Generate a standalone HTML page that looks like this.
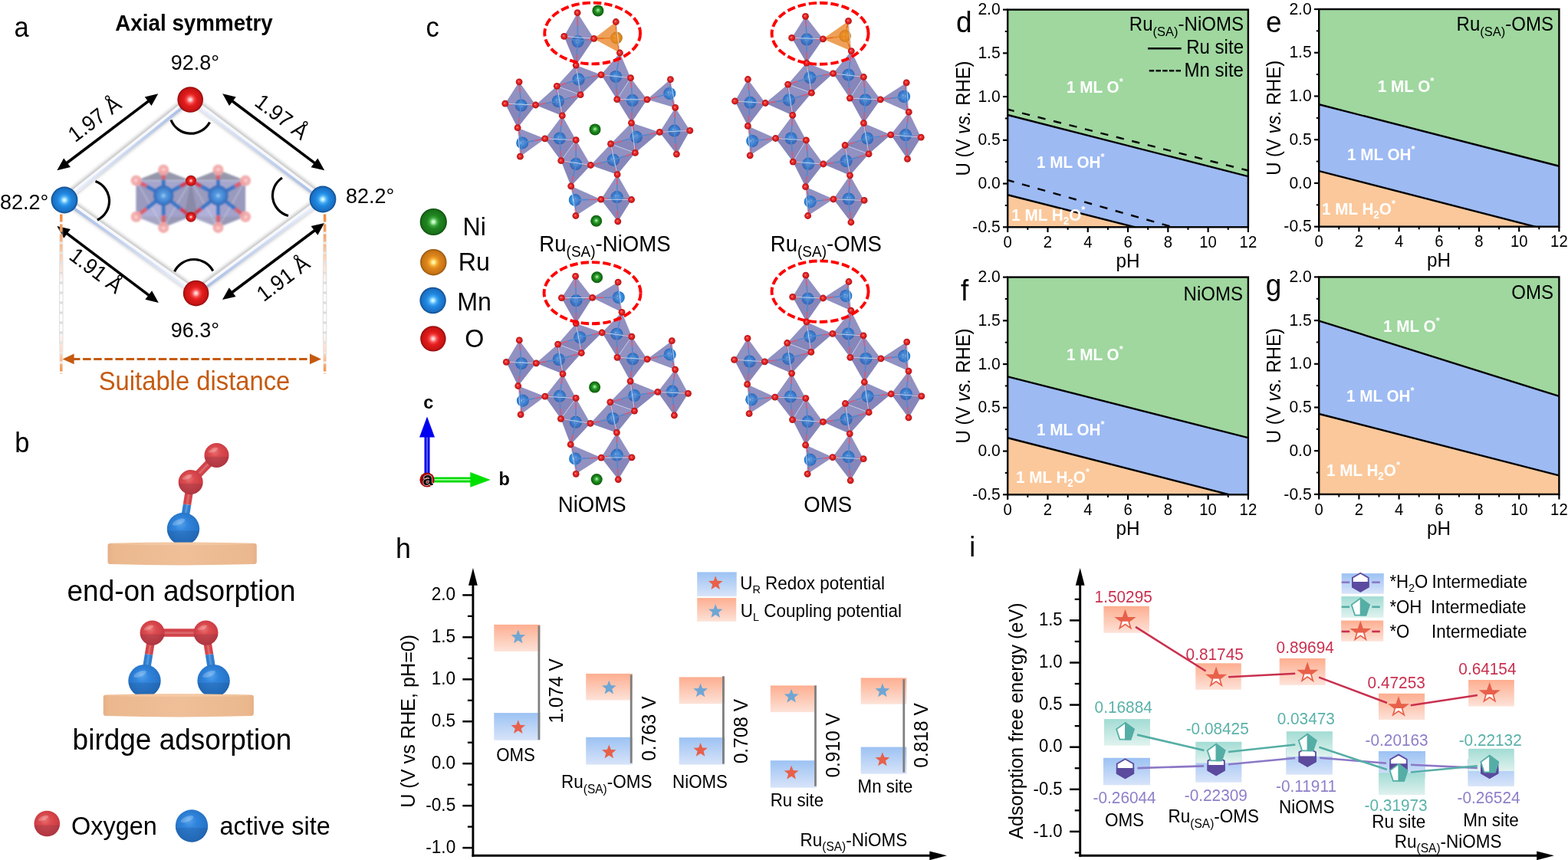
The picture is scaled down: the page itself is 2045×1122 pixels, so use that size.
<!DOCTYPE html>
<html lang="en"><head><meta charset="utf-8"><title>Figure</title>
<style>html,body{margin:0;padding:0;background:#fff;overflow:hidden}svg{display:block}text{font-family:"Liberation Sans",sans-serif;}</style></head>
<body>
<svg width="2045" height="1122" viewBox="0 0 2045 1122">
<rect width="2045" height="1122" fill="#fff"/>
<defs><radialGradient id="gO" cx="0.5" cy="0.5" r="0.5" fx="0.5" fy="0.5"><stop offset="0" stop-color="#fff0f0"/><stop offset="0.1" stop-color="#ffc4c4"/><stop offset="0.3" stop-color="#f64848"/><stop offset="0.5" stop-color="#e21c1c"/><stop offset="0.85" stop-color="#c81414"/><stop offset="1" stop-color="#8c0a0a"/></radialGradient><radialGradient id="gMn" cx="0.5" cy="0.5" r="0.5" fx="0.5" fy="0.5"><stop offset="0" stop-color="#e8ffff"/><stop offset="0.1" stop-color="#b4f0ff"/><stop offset="0.3" stop-color="#46a8f4"/><stop offset="0.5" stop-color="#2088e0"/><stop offset="0.85" stop-color="#1a70c4"/><stop offset="1" stop-color="#0e4888"/></radialGradient><radialGradient id="gNi" cx="0.5" cy="0.5" r="0.5" fx="0.5" fy="0.5"><stop offset="0" stop-color="#e8ffe8"/><stop offset="0.1" stop-color="#b8f8b8"/><stop offset="0.3" stop-color="#40a840"/><stop offset="0.5" stop-color="#1f861f"/><stop offset="0.85" stop-color="#1a721a"/><stop offset="1" stop-color="#0c4a0c"/></radialGradient><radialGradient id="gRu" cx="0.5" cy="0.5" r="0.5" fx="0.5" fy="0.5"><stop offset="0" stop-color="#ffffe0"/><stop offset="0.1" stop-color="#fff090"/><stop offset="0.3" stop-color="#f4a830"/><stop offset="0.5" stop-color="#dc861c"/><stop offset="0.85" stop-color="#c87414"/><stop offset="1" stop-color="#8c5008"/></radialGradient><radialGradient id="cO" cx="0.5" cy="0.5" r="0.5" fx="0.42" fy="0.42"><stop offset="0" stop-color="#ffb0b0"/><stop offset="0.25" stop-color="#f03838"/><stop offset="0.7" stop-color="#d81c1c"/><stop offset="1" stop-color="#a01010"/></radialGradient><radialGradient id="cMn" cx="0.5" cy="0.5" r="0.5" fx="0.47" fy="0.47"><stop offset="0" stop-color="#d8f8ff"/><stop offset="0.18" stop-color="#8cd0f8"/><stop offset="0.45" stop-color="#3c98e8"/><stop offset="0.85" stop-color="#2a80d4"/><stop offset="1" stop-color="#1c64b0"/></radialGradient><radialGradient id="cNi" cx="0.5" cy="0.5" r="0.5" fx="0.5" fy="0.45"><stop offset="0" stop-color="#d8ffd8"/><stop offset="0.2" stop-color="#60c860"/><stop offset="0.5" stop-color="#1e8c1e"/><stop offset="1" stop-color="#0e5a0e"/></radialGradient><radialGradient id="cRu" cx="0.5" cy="0.5" r="0.5" fx="0.45" fy="0.45"><stop offset="0" stop-color="#ffe8a0"/><stop offset="0.3" stop-color="#f0a030"/><stop offset="0.8" stop-color="#dc8618"/><stop offset="1" stop-color="#b06a10"/></radialGradient><radialGradient id="aMn" cx="0.5" cy="0.5" r="0.5" fx="0.5" fy="0.52"><stop offset="0" stop-color="#a8d8f8"/><stop offset="0.25" stop-color="#5a9ce0"/><stop offset="0.7" stop-color="#3f80d0"/><stop offset="1" stop-color="#3468b4"/></radialGradient><radialGradient id="fO" cx="0.5" cy="0.5" r="0.5" fx="0.5" fy="0.5"><stop offset="0" stop-color="#ffecec"/><stop offset="0.3" stop-color="#f8b4b4"/><stop offset="0.8" stop-color="#f0a0a0"/><stop offset="1" stop-color="#f4c4c4"/></radialGradient><radialGradient id="bR" cx="0.5" cy="0.5" r="0.6" fx="0.4" fy="0.3"><stop offset="0" stop-color="#ee7a78"/><stop offset="0.35" stop-color="#dc4c50"/><stop offset="0.8" stop-color="#cc3c44"/><stop offset="1" stop-color="#a82c34"/></radialGradient><radialGradient id="bB" cx="0.5" cy="0.5" r="0.6" fx="0.4" fy="0.3"><stop offset="0" stop-color="#5aa6ee"/><stop offset="0.35" stop-color="#3084dc"/><stop offset="0.8" stop-color="#2674c8"/><stop offset="1" stop-color="#1a58a0"/></radialGradient><linearGradient id="boxO" x1="0" y1="0" x2="0" y2="1"><stop offset="0" stop-color="#fdae90"/><stop offset="1" stop-color="#fde2d8"/></linearGradient><linearGradient id="boxB" x1="0" y1="0" x2="0" y2="1"><stop offset="0" stop-color="#9cc2f3"/><stop offset="1" stop-color="#d8e4f9"/></linearGradient><linearGradient id="boxT" x1="0" y1="0" x2="0" y2="1"><stop offset="0" stop-color="#a2dcd4"/><stop offset="1" stop-color="#e0f2ee"/></linearGradient><linearGradient id="plat" x1="0" y1="0" x2="1" y2="0"><stop offset="0" stop-color="#e6b088"/><stop offset="0.04" stop-color="#ebb88e"/><stop offset="0.5" stop-color="#efbf98"/><stop offset="0.96" stop-color="#ebb88e"/><stop offset="1" stop-color="#e6b088"/></linearGradient><linearGradient id="vdash" x1="0" y1="0" x2="0" y2="1"><stop offset="0" stop-color="#f08a3c"/><stop offset="0.3" stop-color="#f6c8a8"/><stop offset="0.45" stop-color="#e4e4e4"/><stop offset="0.7" stop-color="#e4e4e4"/><stop offset="0.85" stop-color="#f8d8c0"/><stop offset="1" stop-color="#f08a3c"/></linearGradient><filter id="blur2" x="-20%" y="-20%" width="140%" height="140%"><feGaussianBlur stdDeviation="2.2"/></filter><filter id="blur1" x="-20%" y="-20%" width="140%" height="140%"><feGaussianBlur stdDeviation="0.8"/></filter><filter id="blur05" x="-20%" y="-20%" width="140%" height="140%"><feGaussianBlur stdDeviation="0.5"/></filter></defs>
<text transform="translate(18.5 47.5) scale(1 1.045)" font-size="34.5">a</text>
<text transform="translate(253 40.2) scale(1 1.045)" font-size="27.8" text-anchor="middle" font-weight="bold">Axial symmetry</text>
<line x1="84" y1="258.4" x2="248.2" y2="127.4" stroke="#808080" stroke-width="8.5" filter="url(#blur2)" opacity="0.5"/>
<line x1="84" y1="264.2" x2="248.2" y2="133.2" stroke="#909090" stroke-width="4" filter="url(#blur2)" opacity="0.3"/>
<line x1="248.2" y1="127.4" x2="421" y2="257.4" stroke="#808080" stroke-width="8.5" filter="url(#blur2)" opacity="0.5"/>
<line x1="248.2" y1="133.2" x2="421" y2="263.2" stroke="#909090" stroke-width="4" filter="url(#blur2)" opacity="0.3"/>
<line x1="421" y1="257.4" x2="255.6" y2="380" stroke="#808080" stroke-width="8.5" filter="url(#blur2)" opacity="0.5"/>
<line x1="421" y1="263.2" x2="255.6" y2="385.8" stroke="#909090" stroke-width="4" filter="url(#blur2)" opacity="0.3"/>
<line x1="255.6" y1="380" x2="84" y2="258.4" stroke="#808080" stroke-width="8.5" filter="url(#blur2)" opacity="0.5"/>
<line x1="255.6" y1="385.8" x2="84" y2="264.2" stroke="#909090" stroke-width="4" filter="url(#blur2)" opacity="0.3"/>
<line x1="84" y1="260.2" x2="248.2" y2="129.2" stroke="#f7f8fc" stroke-width="6.5" />
<line x1="248.2" y1="129.2" x2="421" y2="259.2" stroke="#f7f8fc" stroke-width="6.5" />
<line x1="421" y1="259.2" x2="255.6" y2="381.8" stroke="#f7f8fc" stroke-width="6.5" />
<line x1="255.6" y1="381.8" x2="84" y2="260.2" stroke="#f7f8fc" stroke-width="6.5" />
<linearGradient id="eg1" gradientUnits="userSpaceOnUse" x1="84" y1="261" x2="248.2" y2="130"><stop offset="0" stop-color="#eef2fb"/><stop offset="1" stop-color="#a6bce6"/></linearGradient>
<line x1="84" y1="263" x2="248.2" y2="132" stroke="url(#eg1)" stroke-width="3.6" />
<linearGradient id="eg2" gradientUnits="userSpaceOnUse" x1="248.2" y1="130" x2="421" y2="260"><stop offset="0" stop-color="#eef2fb"/><stop offset="1" stop-color="#a6bce6"/></linearGradient>
<line x1="248.2" y1="132" x2="421" y2="262" stroke="url(#eg2)" stroke-width="3.6" />
<linearGradient id="eg3" gradientUnits="userSpaceOnUse" x1="421" y1="260" x2="255.6" y2="382.6"><stop offset="0" stop-color="#eef2fb"/><stop offset="1" stop-color="#a6bce6"/></linearGradient>
<line x1="421" y1="262" x2="255.6" y2="384.6" stroke="url(#eg3)" stroke-width="3.6" />
<linearGradient id="eg4" gradientUnits="userSpaceOnUse" x1="255.6" y1="382.6" x2="84" y2="261"><stop offset="0" stop-color="#eef2fb"/><stop offset="1" stop-color="#a6bce6"/></linearGradient>
<line x1="255.6" y1="384.6" x2="84" y2="263" stroke="url(#eg4)" stroke-width="3.6" />
<line x1="85.95" y1="213.54" x2="194.75" y2="131.06" stroke="#000" stroke-width="3.6" /><polygon points="206.3,122.3 197.53,138.05 188.77,126.49" fill="#000" /><polygon points="74.4,222.3 83.17,206.55 91.93,218.11" fill="#000" />
<line x1="301.79" y1="131.01" x2="411.61" y2="213.59" stroke="#000" stroke-width="3.6" /><polygon points="423.2,222.3 405.65,218.18 414.37,206.59" fill="#000" /><polygon points="290.2,122.3 307.75,126.42 299.03,138.01" fill="#000" />
<line x1="85.97" y1="303.63" x2="195.33" y2="386.17" stroke="#000" stroke-width="3.6" /><polygon points="206.9,394.9 189.36,390.75 198.1,379.17" fill="#000" /><polygon points="74.4,294.9 91.94,299.05 83.2,310.63" fill="#000" />
<line x1="301.6" y1="382.29" x2="411.6" y2="299.71" stroke="#000" stroke-width="3.6" /><polygon points="423.2,291 414.36,306.7 405.65,295.11" fill="#000" /><polygon points="290,391 298.84,375.3 307.55,386.89" fill="#000" />
<text transform="translate(129 163) rotate(-37.2) scale(1 1.045)" font-size="27" text-anchor="middle">1.97 Å</text>
<text transform="translate(361.5 160) rotate(37.2) scale(1 1.045)" font-size="27" text-anchor="middle">1.97 Å</text>
<text transform="translate(119.5 360.5) rotate(37.2) scale(1 1.045)" font-size="27" text-anchor="middle">1.91 Å</text>
<text transform="translate(375 371) rotate(-37.2) scale(1 1.045)" font-size="27" text-anchor="middle">1.91 Å</text>
<path d="M223 156.5 A27.85 27.85 0 0 0 273.5 159.5" fill="none" stroke="#000" stroke-width="3.2"/>
<path d="M124.5 236.5 A27.44 27.44 0 0 1 127 287" fill="none" stroke="#000" stroke-width="3.2"/>
<path d="M368 232 A27.39 27.39 0 0 0 376 281.5" fill="none" stroke="#000" stroke-width="3.2"/>
<path d="M227.6 354.2 A28.2 28.2 0 0 1 277.8 353.5" fill="none" stroke="#000" stroke-width="3.2"/>
<text transform="translate(254.5 91) scale(1 1.045)" font-size="27" text-anchor="middle">92.8°</text>
<text transform="translate(254.5 440.2) scale(1 1.045)" font-size="27" text-anchor="middle">96.3°</text>
<text transform="translate(0 273.2) scale(1 1.045)" font-size="27">82.2°</text>
<text transform="translate(451 265.4) scale(1 1.045)" font-size="27">82.2°</text>
<linearGradient id="vg" gradientUnits="userSpaceOnUse" x1="0" y1="279.6" x2="0" y2="488"><stop offset="0" stop-color="#d8d8d8" stop-opacity="0"/><stop offset="0.2" stop-color="#dcdcdc" stop-opacity="0.6"/><stop offset="0.4" stop-color="#dcdcdc" stop-opacity="1"/><stop offset="0.75" stop-color="#dcdcdc" stop-opacity="1"/><stop offset="0.92" stop-color="#dcdcdc" stop-opacity="0.4"/><stop offset="1" stop-color="#dcdcdc" stop-opacity="0"/></linearGradient>
<linearGradient id="vd" gradientUnits="userSpaceOnUse" x1="0" y1="279.6" x2="0" y2="488"><stop offset="0" stop-color="#f08a3c"/><stop offset="0.12" stop-color="#f4a468"/><stop offset="0.3" stop-color="#fbdcc8"/><stop offset="0.45" stop-color="#ffffff"/><stop offset="0.72" stop-color="#ffffff"/><stop offset="0.86" stop-color="#fbdac6"/><stop offset="1" stop-color="#f08a3c"/></linearGradient>
<path d="M79.8 279.6V488" stroke="url(#vg)" stroke-width="5.4" fill="none"/>
<path d="M79.8 279.6V488" stroke="url(#vd)" stroke-width="3.4" stroke-dasharray="9.8 3.2" fill="none"/>
<path d="M423.6 279.6V488" stroke="url(#vg)" stroke-width="5.4" fill="none"/>
<path d="M423.6 279.6V488" stroke="url(#vd)" stroke-width="3.4" stroke-dasharray="9.8 3.2" fill="none"/>
<line x1="94" y1="468.4" x2="407" y2="468.4" stroke="#c55a11" stroke-width="3" stroke-dasharray="10.5 3.6"/>
<polygon points="81.6,468.4 96.6,461.6 96.6,475.2" fill="#c55a11" />
<polygon points="419,468.4 404,475.2 404,461.6" fill="#c55a11" />
<text transform="translate(253.5 508.8) scale(1 1.045)" font-size="32.8" text-anchor="middle" fill="#c55a11">Suitable distance</text>
<g filter="url(#blur1)"><polygon points="213.2,221.6 248.8,235.6 248.8,282.8 213.2,297 177.6,282.8 177.6,235.6" fill="#85859e" opacity="0.85"/><polygon points="177.6,235.6 248.8,235.6 248.8,282.8 177.6,282.8" fill="#b0b0e4" opacity="0.6"/><polygon points="177.6,235.6 213.2,254.9 177.6,282.8" fill="#8c8cae" opacity="0.45"/><polygon points="248.8,235.6 213.2,254.9 248.8,282.8" fill="#8c8cae" opacity="0.45"/><polygon points="177.6,282.8 213.2,297 213.2,254.9" fill="#c4c4f0" opacity="0.35"/><polygon points="248.8,282.8 213.2,297 213.2,254.9" fill="#9a9ac8" opacity="0.35"/><line x1="213.2" y1="297" x2="248.8" y2="235.6" stroke="#dfe6f6" stroke-width="0.9" opacity="0.7"/><line x1="213.2" y1="297" x2="177.6" y2="235.6" stroke="#dfe6f6" stroke-width="0.9" opacity="0.7"/><line x1="213.2" y1="297" x2="248.8" y2="282.8" stroke="#dfe6f6" stroke-width="0.9" opacity="0.7"/><line x1="213.2" y1="297" x2="177.6" y2="282.8" stroke="#dfe6f6" stroke-width="0.9" opacity="0.7"/><line x1="177.6" y1="235.6" x2="248.8" y2="235.6" stroke="#cfe0f4" stroke-width="1" opacity="0.7"/><polygon points="284.5,221.6 320.1,235.6 320.1,282.8 284.5,297 248.9,282.8 248.9,235.6" fill="#85859e" opacity="0.85"/><polygon points="248.9,235.6 320.1,235.6 320.1,282.8 248.9,282.8" fill="#b0b0e4" opacity="0.6"/><polygon points="248.9,235.6 284.5,254.9 248.9,282.8" fill="#8c8cae" opacity="0.45"/><polygon points="320.1,235.6 284.5,254.9 320.1,282.8" fill="#8c8cae" opacity="0.45"/><polygon points="248.9,282.8 284.5,297 284.5,254.9" fill="#c4c4f0" opacity="0.35"/><polygon points="320.1,282.8 284.5,297 284.5,254.9" fill="#9a9ac8" opacity="0.35"/><line x1="284.5" y1="297" x2="320.1" y2="235.6" stroke="#dfe6f6" stroke-width="0.9" opacity="0.7"/><line x1="284.5" y1="297" x2="248.9" y2="235.6" stroke="#dfe6f6" stroke-width="0.9" opacity="0.7"/><line x1="284.5" y1="297" x2="320.1" y2="282.8" stroke="#dfe6f6" stroke-width="0.9" opacity="0.7"/><line x1="284.5" y1="297" x2="248.9" y2="282.8" stroke="#dfe6f6" stroke-width="0.9" opacity="0.7"/><line x1="248.9" y1="235.6" x2="320.1" y2="235.6" stroke="#cfe0f4" stroke-width="1" opacity="0.7"/><polygon points="249,235.8 240,283 258,283" fill="#787890" opacity="0.5"/><line x1="213.2" y1="254.9" x2="213.2" y2="234.25" stroke="#3a78c8" stroke-width="5" /><line x1="213.2" y1="234.25" x2="213.2" y2="221.6" stroke="#d86070" stroke-width="5" /><line x1="213.2" y1="254.9" x2="235.27" y2="242.93" stroke="#3a78c8" stroke-width="5" /><line x1="235.27" y1="242.93" x2="248.8" y2="235.6" stroke="#cc3c54" stroke-width="5" /><line x1="213.2" y1="254.9" x2="235.27" y2="272.2" stroke="#3a78c8" stroke-width="5" /><line x1="235.27" y1="272.2" x2="248.8" y2="282.8" stroke="#cc3c54" stroke-width="5" /><line x1="213.2" y1="254.9" x2="213.2" y2="281" stroke="#3a78c8" stroke-width="5" /><line x1="213.2" y1="281" x2="213.2" y2="297" stroke="#d86070" stroke-width="5" /><line x1="213.2" y1="254.9" x2="191.13" y2="272.2" stroke="#3a78c8" stroke-width="5" /><line x1="191.13" y1="272.2" x2="177.6" y2="282.8" stroke="#d86070" stroke-width="5" /><line x1="213.2" y1="254.9" x2="191.13" y2="242.93" stroke="#3a78c8" stroke-width="5" /><line x1="191.13" y1="242.93" x2="177.6" y2="235.6" stroke="#d86070" stroke-width="5" /><line x1="284.5" y1="254.9" x2="284.5" y2="234.25" stroke="#3a78c8" stroke-width="5" /><line x1="284.5" y1="234.25" x2="284.5" y2="221.6" stroke="#d86070" stroke-width="5" /><line x1="284.5" y1="254.9" x2="306.57" y2="242.93" stroke="#3a78c8" stroke-width="5" /><line x1="306.57" y1="242.93" x2="320.1" y2="235.6" stroke="#d86070" stroke-width="5" /><line x1="284.5" y1="254.9" x2="306.57" y2="272.2" stroke="#3a78c8" stroke-width="5" /><line x1="306.57" y1="272.2" x2="320.1" y2="282.8" stroke="#d86070" stroke-width="5" /><line x1="284.5" y1="254.9" x2="284.5" y2="281" stroke="#3a78c8" stroke-width="5" /><line x1="284.5" y1="281" x2="284.5" y2="297" stroke="#d86070" stroke-width="5" /><line x1="284.5" y1="254.9" x2="262.43" y2="272.2" stroke="#3a78c8" stroke-width="5" /><line x1="262.43" y1="272.2" x2="248.9" y2="282.8" stroke="#cc3c54" stroke-width="5" /><line x1="284.5" y1="254.9" x2="262.43" y2="242.93" stroke="#3a78c8" stroke-width="5" /><line x1="262.43" y1="242.93" x2="248.9" y2="235.6" stroke="#cc3c54" stroke-width="5" /><circle cx="213.2" cy="221.6" r="7.2" fill="url(#fO)" opacity="0.92"/><circle cx="213.2" cy="297" r="7.2" fill="url(#fO)" opacity="0.92"/><circle cx="177.6" cy="282.8" r="7.2" fill="url(#fO)" opacity="0.92"/><circle cx="177.6" cy="235.6" r="7.2" fill="url(#fO)" opacity="0.92"/><circle cx="284.5" cy="221.6" r="7.2" fill="url(#fO)" opacity="0.92"/><circle cx="320.1" cy="235.6" r="7.2" fill="url(#fO)" opacity="0.92"/><circle cx="320.1" cy="282.8" r="7.2" fill="url(#fO)" opacity="0.92"/><circle cx="284.5" cy="297" r="7.2" fill="url(#fO)" opacity="0.92"/><circle cx="213.2" cy="254.9" r="13.2" fill="url(#aMn)" /><circle cx="284.5" cy="254.9" r="13.2" fill="url(#aMn)" /></g><g filter="url(#blur05)"><circle cx="249" cy="235.8" r="7" fill="url(#gO)" /><circle cx="249" cy="283.1" r="6.6" fill="url(#gO)" /></g>
<circle cx="248.2" cy="130" r="16.8" fill="url(#gO)" />
<circle cx="255.6" cy="382.6" r="16.8" fill="url(#gO)" />
<circle cx="84" cy="261" r="17.4" fill="url(#gMn)" />
<circle cx="421" cy="260" r="17.4" fill="url(#gMn)" />
<text transform="translate(19.3 590.2) scale(1 1.045)" font-size="34.5">b</text>
<line x1="239" y1="690" x2="244.04" y2="658.28" stroke="#2f7ed0" stroke-width="10.5" /><line x1="244.04" y1="658.28" x2="248.7" y2="629" stroke="#d2444a" stroke-width="10.5" /><line x1="239" y1="690" x2="248.7" y2="629" stroke="#fff" stroke-width="2.94" opacity="0.18"/>
<line x1="248.7" y1="629" x2="282.5" y2="594" stroke="#d2444a" stroke-width="10.5" /><line x1="248.7" y1="629" x2="282.5" y2="594" stroke="#fff" stroke-width="2.94" opacity="0.18"/>
<circle cx="239" cy="690" r="21.2" fill="url(#bB)" /><clipPath id="gl1"><circle cx="239" cy="690" r="21.2"/></clipPath><rect x="217.8" y="692.54" width="42.4" height="21.2" fill="#10203a" opacity="0.13" clip-path="url(#gl1)"/><ellipse cx="233.06" cy="681.1" rx="8.9" ry="3.39" fill="#fff" opacity="0.22" transform="rotate(-22 233.06 681.1)"/>
<circle cx="248.7" cy="629" r="16" fill="url(#bR)" /><clipPath id="gl2"><circle cx="248.7" cy="629" r="16"/></clipPath><rect x="232.7" y="630.92" width="32" height="16" fill="#10203a" opacity="0.13" clip-path="url(#gl2)"/><ellipse cx="244.22" cy="622.28" rx="6.72" ry="2.56" fill="#fff" opacity="0.22" transform="rotate(-22 244.22 622.28)"/>
<circle cx="282.5" cy="594" r="16" fill="url(#bR)" /><clipPath id="gl3"><circle cx="282.5" cy="594" r="16"/></clipPath><rect x="266.5" y="595.92" width="32" height="16" fill="#10203a" opacity="0.13" clip-path="url(#gl3)"/><ellipse cx="278.02" cy="587.28" rx="6.72" ry="2.56" fill="#fff" opacity="0.22" transform="rotate(-22 278.02 587.28)"/>
<path d="M140.5 711.8 Q140.5 709 144.5 708.8 Q237.65 706.2 330.8 708.8 Q334.8 709 334.8 711.8 L334.8 732.9 Q334.8 735.9 330.8 736.1 Q237.65 738.7 144.5 736.1 Q140.5 735.9 140.5 732.9Z" fill="url(#plat)"/><path d="M142.5 709.6 Q237.65 706.2 332.8 709.6 Q237.65 712.8 142.5 709.6Z" fill="#f4c9a4"/>
<text transform="translate(236.6 784.3) scale(1 1.045)" font-size="37" text-anchor="middle">end-on adsorption</text>
<line x1="188.5" y1="888.2" x2="194.06" y2="853.77" stroke="#2f7ed0" stroke-width="10.5" /><line x1="194.06" y1="853.77" x2="198.6" y2="825.6" stroke="#d2444a" stroke-width="10.5" /><line x1="188.5" y1="888.2" x2="198.6" y2="825.6" stroke="#fff" stroke-width="2.94" opacity="0.18"/>
<line x1="278.6" y1="888.2" x2="273.05" y2="853.77" stroke="#2f7ed0" stroke-width="10.5" /><line x1="273.05" y1="853.77" x2="268.5" y2="825.6" stroke="#d2444a" stroke-width="10.5" /><line x1="278.6" y1="888.2" x2="268.5" y2="825.6" stroke="#fff" stroke-width="2.94" opacity="0.18"/>
<line x1="198.6" y1="825.6" x2="268.5" y2="825.6" stroke="#d2444a" stroke-width="10.5" /><line x1="198.6" y1="825.6" x2="268.5" y2="825.6" stroke="#fff" stroke-width="2.94" opacity="0.18"/>
<circle cx="188.5" cy="888.2" r="21.2" fill="url(#bB)" /><clipPath id="gl4"><circle cx="188.5" cy="888.2" r="21.2"/></clipPath><rect x="167.3" y="890.74" width="42.4" height="21.2" fill="#10203a" opacity="0.13" clip-path="url(#gl4)"/><ellipse cx="182.56" cy="879.3" rx="8.9" ry="3.39" fill="#fff" opacity="0.22" transform="rotate(-22 182.56 879.3)"/>
<circle cx="278.6" cy="888.2" r="21.2" fill="url(#bB)" /><clipPath id="gl5"><circle cx="278.6" cy="888.2" r="21.2"/></clipPath><rect x="257.4" y="890.74" width="42.4" height="21.2" fill="#10203a" opacity="0.13" clip-path="url(#gl5)"/><ellipse cx="272.66" cy="879.3" rx="8.9" ry="3.39" fill="#fff" opacity="0.22" transform="rotate(-22 272.66 879.3)"/>
<circle cx="198.6" cy="825.6" r="16" fill="url(#bR)" /><clipPath id="gl6"><circle cx="198.6" cy="825.6" r="16"/></clipPath><rect x="182.6" y="827.52" width="32" height="16" fill="#10203a" opacity="0.13" clip-path="url(#gl6)"/><ellipse cx="194.12" cy="818.88" rx="6.72" ry="2.56" fill="#fff" opacity="0.22" transform="rotate(-22 194.12 818.88)"/>
<circle cx="268.5" cy="825.6" r="16" fill="url(#bR)" /><clipPath id="gl7"><circle cx="268.5" cy="825.6" r="16"/></clipPath><rect x="252.5" y="827.52" width="32" height="16" fill="#10203a" opacity="0.13" clip-path="url(#gl7)"/><ellipse cx="264.02" cy="818.88" rx="6.72" ry="2.56" fill="#fff" opacity="0.22" transform="rotate(-22 264.02 818.88)"/>
<path d="M134.7 909.6 Q134.7 906.8 138.7 906.6 Q232.8 904 326.9 906.6 Q330.9 906.8 330.9 909.6 L330.9 930.9 Q330.9 933.9 326.9 934.1 Q232.8 936.7 138.7 934.1 Q134.7 933.9 134.7 930.9Z" fill="url(#plat)"/><path d="M136.7 907.4 Q232.8 904 328.9 907.4 Q232.8 910.6 136.7 907.4Z" fill="#f4c9a4"/>
<text transform="translate(237.5 977.5) scale(1 1.045)" font-size="37" text-anchor="middle">birdge adsorption</text>
<circle cx="61.3" cy="1074.5" r="16.8" fill="url(#bR)" /><clipPath id="gl8"><circle cx="61.3" cy="1074.5" r="16.8"/></clipPath><rect x="44.5" y="1076.52" width="33.6" height="16.8" fill="#10203a" opacity="0.13" clip-path="url(#gl8)"/><ellipse cx="56.6" cy="1067.44" rx="7.06" ry="2.69" fill="#fff" opacity="0.22" transform="rotate(-22 56.6 1067.44)"/>
<text transform="translate(93 1088.7) scale(1 1.045)" font-size="32.5">Oxygen</text>
<circle cx="250" cy="1077.5" r="21.2" fill="url(#bB)" /><clipPath id="gl9"><circle cx="250" cy="1077.5" r="21.2"/></clipPath><rect x="228.8" y="1080.04" width="42.4" height="21.2" fill="#10203a" opacity="0.13" clip-path="url(#gl9)"/><ellipse cx="244.06" cy="1068.6" rx="8.9" ry="3.39" fill="#fff" opacity="0.22" transform="rotate(-22 244.06 1068.6)"/>
<text transform="translate(286.5 1088.7) scale(1 1.045)" font-size="32.5">active site</text>
<text transform="translate(555.5 47.5) scale(1 1.045)" font-size="34.5">c</text>
<g id="cr1">
<g filter="url(#blur05)"><polygon points="753.1,16.7 774.6,50.4 751.2,85.1 735.7,47.4" fill="#50509e" opacity="0.5"/><polygon points="751.2,85.1 784,97.6 757.1,123.7 726.3,112.3" fill="#50509e" opacity="0.5"/><polygon points="808.4,69 822.5,101.7 804.7,129.7 784,97.6" fill="#50509e" opacity="0.5"/><polygon points="726.3,112.3 757.1,123.7 733.3,150.9 698.6,137" fill="#50509e" opacity="0.5"/><polygon points="822.5,101.7 844,129.8 823.5,160.3 804.7,129.7" fill="#50509e" opacity="0.5"/><polygon points="874.4,103.6 880.7,140.4 844,129.8" fill="#50509e" opacity="0.5"/><polygon points="677.1,106.8 698.6,137 675.1,166.7 658.8,135.2" fill="#50509e" opacity="0.5"/><polygon points="675.1,166.7 710.7,180.9 678.4,204.2" fill="#50509e" opacity="0.5"/><polygon points="733.3,150.9 751.2,182.7 731.7,209.7 710.7,180.9" fill="#50509e" opacity="0.5"/><polygon points="751.2,182.7 770.4,215.5 744.7,242.8 731.7,209.7" fill="#50509e" opacity="0.5"/><polygon points="796.5,187.7 828.4,199.4 805.1,227.7 770.4,215.5" fill="#50509e" opacity="0.5"/><polygon points="823.5,160.3 860.3,172.4 828.4,199.4 796.5,187.7" fill="#50509e" opacity="0.5"/><polygon points="880.7,140.4 899.8,170.3 882.4,201.1 860.3,172.4" fill="#50509e" opacity="0.5"/><polygon points="744.7,242.8 783.8,260.2 750.9,281.5" fill="#50509e" opacity="0.5"/><polygon points="805.1,227.7 823.6,260.5 805.8,288.9 783.8,260.2" fill="#50509e" opacity="0.5"/><polygon points="774.6,50.4 803.3,28.5 808.4,69" fill="#e8882a" opacity="0.62"/></g>
<circle cx="753.6" cy="54.2" r="8" fill="url(#cMn)" />
<circle cx="754.6" cy="103.6" r="8" fill="url(#cMn)" />
<circle cx="803.1" cy="99.9" r="8" fill="url(#cMn)" />
<circle cx="727.8" cy="132" r="8" fill="url(#cMn)" />
<circle cx="824.9" cy="131.1" r="8" fill="url(#cMn)" />
<circle cx="873.3" cy="121.9" r="8" fill="url(#cMn)" />
<circle cx="679.8" cy="137.5" r="8" fill="url(#cMn)" />
<circle cx="681.2" cy="186.4" r="8" fill="url(#cMn)" />
<circle cx="729.9" cy="180.5" r="8" fill="url(#cMn)" />
<circle cx="751.2" cy="214.1" r="8" fill="url(#cMn)" />
<circle cx="799.9" cy="208.7" r="8" fill="url(#cMn)" />
<circle cx="829.8" cy="178.8" r="8" fill="url(#cMn)" />
<circle cx="879.5" cy="170.6" r="8" fill="url(#cMn)" />
<circle cx="749.8" cy="260.9" r="8" fill="url(#cMn)" />
<circle cx="804.7" cy="257.1" r="8" fill="url(#cMn)" />
<circle cx="804" cy="49.4" r="7.8" fill="url(#cRu)" />
<g filter="url(#blur05)"><polygon points="753.1,16.7 774.6,50.4 751.2,85.1 735.7,47.4" fill="#50509e" opacity="0.25"/><polygon points="751.2,85.1 784,97.6 757.1,123.7 726.3,112.3" fill="#50509e" opacity="0.25"/><polygon points="808.4,69 822.5,101.7 804.7,129.7 784,97.6" fill="#50509e" opacity="0.25"/><polygon points="726.3,112.3 757.1,123.7 733.3,150.9 698.6,137" fill="#50509e" opacity="0.25"/><polygon points="822.5,101.7 844,129.8 823.5,160.3 804.7,129.7" fill="#50509e" opacity="0.25"/><polygon points="874.4,103.6 880.7,140.4 844,129.8" fill="#50509e" opacity="0.25"/><polygon points="677.1,106.8 698.6,137 675.1,166.7 658.8,135.2" fill="#50509e" opacity="0.25"/><polygon points="675.1,166.7 710.7,180.9 678.4,204.2" fill="#50509e" opacity="0.25"/><polygon points="733.3,150.9 751.2,182.7 731.7,209.7 710.7,180.9" fill="#50509e" opacity="0.25"/><polygon points="751.2,182.7 770.4,215.5 744.7,242.8 731.7,209.7" fill="#50509e" opacity="0.25"/><polygon points="796.5,187.7 828.4,199.4 805.1,227.7 770.4,215.5" fill="#50509e" opacity="0.25"/><polygon points="823.5,160.3 860.3,172.4 828.4,199.4 796.5,187.7" fill="#50509e" opacity="0.25"/><polygon points="880.7,140.4 899.8,170.3 882.4,201.1 860.3,172.4" fill="#50509e" opacity="0.25"/><polygon points="744.7,242.8 783.8,260.2 750.9,281.5" fill="#50509e" opacity="0.25"/><polygon points="805.1,227.7 823.6,260.5 805.8,288.9 783.8,260.2" fill="#50509e" opacity="0.25"/><polygon points="774.6,50.4 803.3,28.5 808.4,69" fill="#e8882a" opacity="0.45"/></g>
<g filter="url(#blur05)">
<polygon points="774.6,50.4 751.2,85.1 735.7,47.4" fill="#4c4c98" opacity="0.16"/>
<polygon points="784,97.6 757.1,123.7 726.3,112.3" fill="#4c4c98" opacity="0.16"/>
<polygon points="822.5,101.7 804.7,129.7 784,97.6" fill="#4c4c98" opacity="0.16"/>
<polygon points="757.1,123.7 733.3,150.9 698.6,137" fill="#4c4c98" opacity="0.16"/>
<polygon points="844,129.8 823.5,160.3 804.7,129.7" fill="#4c4c98" opacity="0.16"/>
<polygon points="698.6,137 675.1,166.7 658.8,135.2" fill="#4c4c98" opacity="0.16"/>
<polygon points="751.2,182.7 731.7,209.7 710.7,180.9" fill="#4c4c98" opacity="0.16"/>
<polygon points="770.4,215.5 744.7,242.8 731.7,209.7" fill="#4c4c98" opacity="0.16"/>
<polygon points="828.4,199.4 805.1,227.7 770.4,215.5" fill="#4c4c98" opacity="0.16"/>
<polygon points="860.3,172.4 828.4,199.4 796.5,187.7" fill="#4c4c98" opacity="0.16"/>
<polygon points="899.8,170.3 882.4,201.1 860.3,172.4" fill="#4c4c98" opacity="0.16"/>
<polygon points="823.6,260.5 805.8,288.9 783.8,260.2" fill="#4c4c98" opacity="0.16"/>
</g>
<line x1="753.6" y1="54.2" x2="753.33" y2="33.58" stroke="#4f88d0" stroke-width="1.6" /><line x1="753.33" y1="33.58" x2="753.1" y2="16.7" stroke="#d45a78" stroke-width="1.6" />
<line x1="753.6" y1="54.2" x2="765.15" y2="52.11" stroke="#4f88d0" stroke-width="1.6" /><line x1="765.15" y1="52.11" x2="774.6" y2="50.4" stroke="#d45a78" stroke-width="1.6" />
<line x1="753.6" y1="54.2" x2="752.28" y2="71.19" stroke="#4f88d0" stroke-width="1.6" /><line x1="752.28" y1="71.19" x2="751.2" y2="85.1" stroke="#d45a78" stroke-width="1.6" />
<line x1="753.6" y1="54.2" x2="743.75" y2="50.46" stroke="#4f88d0" stroke-width="1.6" /><line x1="743.75" y1="50.46" x2="735.7" y2="47.4" stroke="#d45a78" stroke-width="1.6" />
<line x1="754.6" y1="103.6" x2="752.73" y2="93.42" stroke="#4f88d0" stroke-width="1.6" /><line x1="752.73" y1="93.42" x2="751.2" y2="85.1" stroke="#d45a78" stroke-width="1.6" />
<line x1="754.6" y1="103.6" x2="770.77" y2="100.3" stroke="#4f88d0" stroke-width="1.6" /><line x1="770.77" y1="100.3" x2="784" y2="97.6" stroke="#d45a78" stroke-width="1.6" />
<line x1="754.6" y1="103.6" x2="755.98" y2="114.66" stroke="#4f88d0" stroke-width="1.6" /><line x1="755.98" y1="114.66" x2="757.1" y2="123.7" stroke="#d45a78" stroke-width="1.6" />
<line x1="754.6" y1="103.6" x2="739.03" y2="108.38" stroke="#4f88d0" stroke-width="1.6" /><line x1="739.03" y1="108.38" x2="726.3" y2="112.3" stroke="#d45a78" stroke-width="1.6" />
<line x1="803.1" y1="99.9" x2="806.01" y2="82.91" stroke="#4f88d0" stroke-width="1.6" /><line x1="806.01" y1="82.91" x2="808.4" y2="69" stroke="#d45a78" stroke-width="1.6" />
<line x1="803.1" y1="99.9" x2="813.77" y2="100.89" stroke="#4f88d0" stroke-width="1.6" /><line x1="813.77" y1="100.89" x2="822.5" y2="101.7" stroke="#d45a78" stroke-width="1.6" />
<line x1="803.1" y1="99.9" x2="803.98" y2="116.29" stroke="#4f88d0" stroke-width="1.6" /><line x1="803.98" y1="116.29" x2="804.7" y2="129.7" stroke="#d45a78" stroke-width="1.6" />
<line x1="803.1" y1="99.9" x2="792.6" y2="98.64" stroke="#4f88d0" stroke-width="1.6" /><line x1="792.6" y1="98.64" x2="784" y2="97.6" stroke="#d45a78" stroke-width="1.6" />
<line x1="727.8" y1="132" x2="726.97" y2="121.16" stroke="#4f88d0" stroke-width="1.6" /><line x1="726.97" y1="121.16" x2="726.3" y2="112.3" stroke="#d45a78" stroke-width="1.6" />
<line x1="727.8" y1="132" x2="743.91" y2="127.44" stroke="#4f88d0" stroke-width="1.6" /><line x1="743.91" y1="127.44" x2="757.1" y2="123.7" stroke="#d45a78" stroke-width="1.6" />
<line x1="727.8" y1="132" x2="730.82" y2="142.4" stroke="#4f88d0" stroke-width="1.6" /><line x1="730.82" y1="142.4" x2="733.3" y2="150.9" stroke="#d45a78" stroke-width="1.6" />
<line x1="727.8" y1="132" x2="711.74" y2="134.75" stroke="#4f88d0" stroke-width="1.6" /><line x1="711.74" y1="134.75" x2="698.6" y2="137" stroke="#d45a78" stroke-width="1.6" />
<line x1="824.9" y1="131.1" x2="823.58" y2="114.93" stroke="#4f88d0" stroke-width="1.6" /><line x1="823.58" y1="114.93" x2="822.5" y2="101.7" stroke="#d45a78" stroke-width="1.6" />
<line x1="824.9" y1="131.1" x2="835.4" y2="130.38" stroke="#4f88d0" stroke-width="1.6" /><line x1="835.4" y1="130.38" x2="844" y2="129.8" stroke="#d45a78" stroke-width="1.6" />
<line x1="824.9" y1="131.1" x2="824.13" y2="147.16" stroke="#4f88d0" stroke-width="1.6" /><line x1="824.13" y1="147.16" x2="823.5" y2="160.3" stroke="#d45a78" stroke-width="1.6" />
<line x1="824.9" y1="131.1" x2="813.79" y2="130.33" stroke="#4f88d0" stroke-width="1.6" /><line x1="813.79" y1="130.33" x2="804.7" y2="129.7" stroke="#d45a78" stroke-width="1.6" />
<line x1="873.3" y1="121.9" x2="873.9" y2="111.83" stroke="#4f88d0" stroke-width="1.6" /><line x1="873.9" y1="111.83" x2="874.4" y2="103.6" stroke="#d45a78" stroke-width="1.6" />
<line x1="873.3" y1="121.9" x2="877.37" y2="132.08" stroke="#4f88d0" stroke-width="1.6" /><line x1="877.37" y1="132.08" x2="880.7" y2="140.4" stroke="#d45a78" stroke-width="1.6" />
<line x1="873.3" y1="121.9" x2="857.18" y2="126.25" stroke="#4f88d0" stroke-width="1.6" /><line x1="857.18" y1="126.25" x2="844" y2="129.8" stroke="#d45a78" stroke-width="1.6" />
<line x1="679.8" y1="137.5" x2="678.31" y2="120.61" stroke="#4f88d0" stroke-width="1.6" /><line x1="678.31" y1="120.61" x2="677.1" y2="106.8" stroke="#d45a78" stroke-width="1.6" />
<line x1="679.8" y1="137.5" x2="690.14" y2="137.22" stroke="#4f88d0" stroke-width="1.6" /><line x1="690.14" y1="137.22" x2="698.6" y2="137" stroke="#d45a78" stroke-width="1.6" />
<line x1="679.8" y1="137.5" x2="677.22" y2="153.56" stroke="#4f88d0" stroke-width="1.6" /><line x1="677.22" y1="153.56" x2="675.1" y2="166.7" stroke="#d45a78" stroke-width="1.6" />
<line x1="679.8" y1="137.5" x2="668.25" y2="136.23" stroke="#4f88d0" stroke-width="1.6" /><line x1="668.25" y1="136.23" x2="658.8" y2="135.2" stroke="#d45a78" stroke-width="1.6" />
<line x1="681.2" y1="186.4" x2="677.85" y2="175.56" stroke="#4f88d0" stroke-width="1.6" /><line x1="677.85" y1="175.56" x2="675.1" y2="166.7" stroke="#d45a78" stroke-width="1.6" />
<line x1="681.2" y1="186.4" x2="697.43" y2="183.38" stroke="#4f88d0" stroke-width="1.6" /><line x1="697.43" y1="183.38" x2="710.7" y2="180.9" stroke="#d45a78" stroke-width="1.6" />
<line x1="681.2" y1="186.4" x2="679.66" y2="196.19" stroke="#4f88d0" stroke-width="1.6" /><line x1="679.66" y1="196.19" x2="678.4" y2="204.2" stroke="#d45a78" stroke-width="1.6" />
<line x1="729.9" y1="180.5" x2="731.77" y2="164.22" stroke="#4f88d0" stroke-width="1.6" /><line x1="731.77" y1="164.22" x2="733.3" y2="150.9" stroke="#d45a78" stroke-width="1.6" />
<line x1="729.9" y1="180.5" x2="741.62" y2="181.71" stroke="#4f88d0" stroke-width="1.6" /><line x1="741.62" y1="181.71" x2="751.2" y2="182.7" stroke="#d45a78" stroke-width="1.6" />
<line x1="729.9" y1="180.5" x2="730.89" y2="196.56" stroke="#4f88d0" stroke-width="1.6" /><line x1="730.89" y1="196.56" x2="731.7" y2="209.7" stroke="#d45a78" stroke-width="1.6" />
<line x1="729.9" y1="180.5" x2="719.34" y2="180.72" stroke="#4f88d0" stroke-width="1.6" /><line x1="719.34" y1="180.72" x2="710.7" y2="180.9" stroke="#d45a78" stroke-width="1.6" />
<line x1="751.2" y1="214.1" x2="751.2" y2="196.83" stroke="#4f88d0" stroke-width="1.6" /><line x1="751.2" y1="196.83" x2="751.2" y2="182.7" stroke="#d45a78" stroke-width="1.6" />
<line x1="751.2" y1="214.1" x2="761.76" y2="214.87" stroke="#4f88d0" stroke-width="1.6" /><line x1="761.76" y1="214.87" x2="770.4" y2="215.5" stroke="#d45a78" stroke-width="1.6" />
<line x1="751.2" y1="214.1" x2="747.62" y2="229.88" stroke="#4f88d0" stroke-width="1.6" /><line x1="747.62" y1="229.88" x2="744.7" y2="242.8" stroke="#d45a78" stroke-width="1.6" />
<line x1="751.2" y1="214.1" x2="740.48" y2="211.68" stroke="#4f88d0" stroke-width="1.6" /><line x1="740.48" y1="211.68" x2="731.7" y2="209.7" stroke="#d45a78" stroke-width="1.6" />
<line x1="799.9" y1="208.7" x2="798.03" y2="197.15" stroke="#4f88d0" stroke-width="1.6" /><line x1="798.03" y1="197.15" x2="796.5" y2="187.7" stroke="#d45a78" stroke-width="1.6" />
<line x1="799.9" y1="208.7" x2="815.57" y2="203.59" stroke="#4f88d0" stroke-width="1.6" /><line x1="815.57" y1="203.59" x2="828.4" y2="199.4" stroke="#d45a78" stroke-width="1.6" />
<line x1="799.9" y1="208.7" x2="802.76" y2="219.15" stroke="#4f88d0" stroke-width="1.6" /><line x1="802.76" y1="219.15" x2="805.1" y2="227.7" stroke="#d45a78" stroke-width="1.6" />
<line x1="799.9" y1="208.7" x2="783.67" y2="212.44" stroke="#4f88d0" stroke-width="1.6" /><line x1="783.67" y1="212.44" x2="770.4" y2="215.5" stroke="#d45a78" stroke-width="1.6" />
<line x1="829.8" y1="178.8" x2="826.33" y2="168.62" stroke="#4f88d0" stroke-width="1.6" /><line x1="826.33" y1="168.62" x2="823.5" y2="160.3" stroke="#d45a78" stroke-width="1.6" />
<line x1="829.8" y1="178.8" x2="846.57" y2="175.28" stroke="#4f88d0" stroke-width="1.6" /><line x1="846.57" y1="175.28" x2="860.3" y2="172.4" stroke="#d45a78" stroke-width="1.6" />
<line x1="829.8" y1="178.8" x2="829.03" y2="190.13" stroke="#4f88d0" stroke-width="1.6" /><line x1="829.03" y1="190.13" x2="828.4" y2="199.4" stroke="#d45a78" stroke-width="1.6" />
<line x1="829.8" y1="178.8" x2="811.49" y2="183.69" stroke="#4f88d0" stroke-width="1.6" /><line x1="811.49" y1="183.69" x2="796.5" y2="187.7" stroke="#d45a78" stroke-width="1.6" />
<line x1="879.5" y1="170.6" x2="880.16" y2="153.99" stroke="#4f88d0" stroke-width="1.6" /><line x1="880.16" y1="153.99" x2="880.7" y2="140.4" stroke="#d45a78" stroke-width="1.6" />
<line x1="879.5" y1="170.6" x2="890.66" y2="170.44" stroke="#4f88d0" stroke-width="1.6" /><line x1="890.66" y1="170.44" x2="899.8" y2="170.3" stroke="#d45a78" stroke-width="1.6" />
<line x1="879.5" y1="170.6" x2="881.1" y2="187.38" stroke="#4f88d0" stroke-width="1.6" /><line x1="881.1" y1="187.38" x2="882.4" y2="201.1" stroke="#d45a78" stroke-width="1.6" />
<line x1="879.5" y1="170.6" x2="868.94" y2="171.59" stroke="#4f88d0" stroke-width="1.6" /><line x1="868.94" y1="171.59" x2="860.3" y2="172.4" stroke="#d45a78" stroke-width="1.6" />
<line x1="749.8" y1="260.9" x2="747" y2="250.94" stroke="#4f88d0" stroke-width="1.6" /><line x1="747" y1="250.94" x2="744.7" y2="242.8" stroke="#d45a78" stroke-width="1.6" />
<line x1="749.8" y1="260.9" x2="768.5" y2="260.51" stroke="#4f88d0" stroke-width="1.6" /><line x1="768.5" y1="260.51" x2="783.8" y2="260.2" stroke="#d45a78" stroke-width="1.6" />
<line x1="749.8" y1="260.9" x2="750.4" y2="272.23" stroke="#4f88d0" stroke-width="1.6" /><line x1="750.4" y1="272.23" x2="750.9" y2="281.5" stroke="#d45a78" stroke-width="1.6" />
<line x1="804.7" y1="257.1" x2="804.92" y2="240.93" stroke="#4f88d0" stroke-width="1.6" /><line x1="804.92" y1="240.93" x2="805.1" y2="227.7" stroke="#d45a78" stroke-width="1.6" />
<line x1="804.7" y1="257.1" x2="815.1" y2="258.97" stroke="#4f88d0" stroke-width="1.6" /><line x1="815.1" y1="258.97" x2="823.6" y2="260.5" stroke="#d45a78" stroke-width="1.6" />
<line x1="804.7" y1="257.1" x2="805.3" y2="274.59" stroke="#4f88d0" stroke-width="1.6" /><line x1="805.3" y1="274.59" x2="805.8" y2="288.9" stroke="#d45a78" stroke-width="1.6" />
<line x1="804.7" y1="257.1" x2="793.21" y2="258.81" stroke="#4f88d0" stroke-width="1.6" /><line x1="793.21" y1="258.81" x2="783.8" y2="260.2" stroke="#d45a78" stroke-width="1.6" />
<line x1="804" y1="49.4" x2="787.83" y2="49.95" stroke="#e8841c" stroke-width="1.6" /><line x1="787.83" y1="49.95" x2="774.6" y2="50.4" stroke="#e8601c" stroke-width="1.6" />
<line x1="804" y1="49.4" x2="803.62" y2="37.91" stroke="#e8841c" stroke-width="1.6" /><line x1="803.62" y1="37.91" x2="803.3" y2="28.5" stroke="#e8601c" stroke-width="1.6" />
<line x1="804" y1="49.4" x2="806.42" y2="60.18" stroke="#e8841c" stroke-width="1.6" /><line x1="806.42" y1="60.18" x2="808.4" y2="69" stroke="#e8601c" stroke-width="1.6" />
<line x1="735.7" y1="47.4" x2="774.6" y2="50.4" stroke="#d2daee" stroke-width="1" opacity="0.85"/>
<line x1="751.2" y1="85.1" x2="757.1" y2="123.7" stroke="#d2daee" stroke-width="1" opacity="0.85"/>
<line x1="784" y1="97.6" x2="822.5" y2="101.7" stroke="#d2daee" stroke-width="1" opacity="0.85"/>
<line x1="726.3" y1="112.3" x2="733.3" y2="150.9" stroke="#d2daee" stroke-width="1" opacity="0.85"/>
<line x1="804.7" y1="129.7" x2="844" y2="129.8" stroke="#d2daee" stroke-width="1" opacity="0.85"/>
<line x1="658.8" y1="135.2" x2="698.6" y2="137" stroke="#d2daee" stroke-width="1" opacity="0.85"/>
<line x1="710.7" y1="180.9" x2="751.2" y2="182.7" stroke="#d2daee" stroke-width="1" opacity="0.85"/>
<line x1="731.7" y1="209.7" x2="770.4" y2="215.5" stroke="#d2daee" stroke-width="1" opacity="0.85"/>
<line x1="796.5" y1="187.7" x2="805.1" y2="227.7" stroke="#d2daee" stroke-width="1" opacity="0.85"/>
<line x1="823.5" y1="160.3" x2="828.4" y2="199.4" stroke="#d2daee" stroke-width="1" opacity="0.85"/>
<line x1="860.3" y1="172.4" x2="899.8" y2="170.3" stroke="#d2daee" stroke-width="1" opacity="0.85"/>
<line x1="783.8" y1="260.2" x2="823.6" y2="260.5" stroke="#d2daee" stroke-width="1" opacity="0.85"/>
<line x1="726.3" y1="112.3" x2="757.1" y2="123.7" stroke="#d2daee" stroke-width="1" opacity="0.85"/>
<line x1="822.5" y1="101.7" x2="804.7" y2="129.7" stroke="#d2daee" stroke-width="1" opacity="0.85"/>
<line x1="751.2" y1="182.7" x2="731.7" y2="209.7" stroke="#d2daee" stroke-width="1" opacity="0.85"/>
<line x1="796.5" y1="187.7" x2="828.4" y2="199.4" stroke="#d2daee" stroke-width="1" opacity="0.85"/>
<line x1="874.4" y1="103.6" x2="880.7" y2="140.4" stroke="#d2daee" stroke-width="1" opacity="0.85"/>
<line x1="675.1" y1="166.7" x2="678.4" y2="204.2" stroke="#d2daee" stroke-width="1" opacity="0.85"/>
<line x1="744.7" y1="242.8" x2="750.9" y2="281.5" stroke="#d2daee" stroke-width="1" opacity="0.85"/>
<line x1="803.3" y1="28.5" x2="808.4" y2="69" stroke="#d2daee" stroke-width="1" opacity="0.85"/>
<circle cx="753.1" cy="16.7" r="4.4" fill="url(#cO)" />
<circle cx="735.7" cy="47.4" r="4.4" fill="url(#cO)" />
<circle cx="774.6" cy="50.4" r="4.4" fill="url(#cO)" />
<circle cx="803.3" cy="28.5" r="4.4" fill="url(#cO)" />
<circle cx="808.4" cy="69" r="4.4" fill="url(#cO)" />
<circle cx="751.2" cy="85.1" r="4.4" fill="url(#cO)" />
<circle cx="784" cy="97.6" r="4.4" fill="url(#cO)" />
<circle cx="822.5" cy="101.7" r="4.4" fill="url(#cO)" />
<circle cx="726.3" cy="112.3" r="4.4" fill="url(#cO)" />
<circle cx="757.1" cy="123.7" r="4.4" fill="url(#cO)" />
<circle cx="804.7" cy="129.7" r="4.4" fill="url(#cO)" />
<circle cx="844" cy="129.8" r="4.4" fill="url(#cO)" />
<circle cx="874.4" cy="103.6" r="4.4" fill="url(#cO)" />
<circle cx="880.7" cy="140.4" r="4.4" fill="url(#cO)" />
<circle cx="677.1" cy="106.8" r="4.4" fill="url(#cO)" />
<circle cx="658.8" cy="135.2" r="4.4" fill="url(#cO)" />
<circle cx="698.6" cy="137" r="4.4" fill="url(#cO)" />
<circle cx="733.3" cy="150.9" r="4.4" fill="url(#cO)" />
<circle cx="675.1" cy="166.7" r="4.4" fill="url(#cO)" />
<circle cx="710.7" cy="180.9" r="4.4" fill="url(#cO)" />
<circle cx="751.2" cy="182.7" r="4.4" fill="url(#cO)" />
<circle cx="678.4" cy="204.2" r="4.4" fill="url(#cO)" />
<circle cx="731.7" cy="209.7" r="4.4" fill="url(#cO)" />
<circle cx="770.4" cy="215.5" r="4.4" fill="url(#cO)" />
<circle cx="796.5" cy="187.7" r="4.4" fill="url(#cO)" />
<circle cx="823.5" cy="160.3" r="4.4" fill="url(#cO)" />
<circle cx="828.4" cy="199.4" r="4.4" fill="url(#cO)" />
<circle cx="860.3" cy="172.4" r="4.4" fill="url(#cO)" />
<circle cx="899.8" cy="170.3" r="4.4" fill="url(#cO)" />
<circle cx="882.4" cy="201.1" r="4.4" fill="url(#cO)" />
<circle cx="805.1" cy="227.7" r="4.4" fill="url(#cO)" />
<circle cx="744.7" cy="242.8" r="4.4" fill="url(#cO)" />
<circle cx="783.8" cy="260.2" r="4.4" fill="url(#cO)" />
<circle cx="823.6" cy="260.5" r="4.4" fill="url(#cO)" />
<circle cx="750.9" cy="281.5" r="4.4" fill="url(#cO)" />
<circle cx="805.8" cy="288.9" r="4.4" fill="url(#cO)" />
<circle cx="779.9" cy="13.9" r="7.5" fill="url(#cNi)" />
<circle cx="776" cy="168.9" r="7.5" fill="url(#cNi)" />
<circle cx="777.7" cy="288.3" r="7.5" fill="url(#cNi)" />
<ellipse cx="772.7" cy="43.5" rx="62.4" ry="39.9" fill="none" stroke="#fe0000" stroke-width="3.9" stroke-dasharray="10.4 4"/>
</g>
<g id="cr2">
<g filter="url(#blur05)"><polygon points="1050.5,21.3 1073.4,50.8 1051.9,82.1 1032.6,49.4" fill="#50509e" opacity="0.5"/><polygon points="1051.9,82.1 1086.6,95.8 1058.4,121.2 1027.6,110.1" fill="#50509e" opacity="0.5"/><polygon points="1110.3,66.6 1126.4,100.5 1108.4,128.1 1086.6,95.8" fill="#50509e" opacity="0.5"/><polygon points="1027.6,110.1 1058.4,121.2 1033.7,150.4 998.2,134.5" fill="#50509e" opacity="0.5"/><polygon points="1126.4,100.5 1148.3,129.8 1126.4,160.7 1108.4,128.1" fill="#50509e" opacity="0.5"/><polygon points="1182.2,107.9 1185.3,146.2 1148.3,129.8" fill="#50509e" opacity="0.5"/><polygon points="975.4,103.5 998.2,134.5 975.4,164.4 958.5,132" fill="#50509e" opacity="0.5"/><polygon points="975.4,164.4 1011.5,180.5 978.2,202.8" fill="#50509e" opacity="0.5"/><polygon points="1033.7,150.4 1051.4,182.9 1034.2,211.1 1011.5,180.5" fill="#50509e" opacity="0.5"/><polygon points="1051.4,182.9 1073.8,214 1050.6,243.7 1034.2,211.1" fill="#50509e" opacity="0.5"/><polygon points="1102.1,189.5 1133.1,200.8 1108.5,228.8 1073.8,214" fill="#50509e" opacity="0.5"/><polygon points="1126.4,160.7 1161.7,175.8 1133.1,200.8 1102.1,189.5" fill="#50509e" opacity="0.5"/><polygon points="1185.3,146.2 1201.2,179.2 1183.5,207.4 1161.7,175.8" fill="#50509e" opacity="0.5"/><polygon points="1050.6,243.7 1086.9,259.8 1053.6,281.5" fill="#50509e" opacity="0.5"/><polygon points="1108.5,228.8 1127.1,261.4 1109.9,290 1086.9,259.8" fill="#50509e" opacity="0.5"/><polygon points="1073.4,50.8 1106.5,27.4 1110.3,66.6" fill="#e8882a" opacity="0.62"/></g>
<circle cx="1052.3" cy="51.5" r="8" fill="url(#cMn)" />
<circle cx="1056.4" cy="101.3" r="8" fill="url(#cMn)" />
<circle cx="1106.5" cy="97.7" r="8" fill="url(#cMn)" />
<circle cx="1028.9" cy="130.4" r="8" fill="url(#cMn)" />
<circle cx="1128.7" cy="130.4" r="8" fill="url(#cMn)" />
<circle cx="1179.1" cy="126" r="8" fill="url(#cMn)" />
<circle cx="978.4" cy="133.8" r="8" fill="url(#cMn)" />
<circle cx="981.2" cy="184" r="8" fill="url(#cMn)" />
<circle cx="1031.7" cy="180.5" r="8" fill="url(#cMn)" />
<circle cx="1054.2" cy="213.8" r="8" fill="url(#cMn)" />
<circle cx="1103.6" cy="210.1" r="8" fill="url(#cMn)" />
<circle cx="1131.2" cy="180.5" r="8" fill="url(#cMn)" />
<circle cx="1181.1" cy="176.1" r="8" fill="url(#cMn)" />
<circle cx="1056.7" cy="263.2" r="8" fill="url(#cMn)" />
<circle cx="1106.8" cy="259.5" r="8" fill="url(#cMn)" />
<circle cx="1102.2" cy="46.9" r="7.8" fill="url(#cRu)" />
<g filter="url(#blur05)"><polygon points="1050.5,21.3 1073.4,50.8 1051.9,82.1 1032.6,49.4" fill="#50509e" opacity="0.25"/><polygon points="1051.9,82.1 1086.6,95.8 1058.4,121.2 1027.6,110.1" fill="#50509e" opacity="0.25"/><polygon points="1110.3,66.6 1126.4,100.5 1108.4,128.1 1086.6,95.8" fill="#50509e" opacity="0.25"/><polygon points="1027.6,110.1 1058.4,121.2 1033.7,150.4 998.2,134.5" fill="#50509e" opacity="0.25"/><polygon points="1126.4,100.5 1148.3,129.8 1126.4,160.7 1108.4,128.1" fill="#50509e" opacity="0.25"/><polygon points="1182.2,107.9 1185.3,146.2 1148.3,129.8" fill="#50509e" opacity="0.25"/><polygon points="975.4,103.5 998.2,134.5 975.4,164.4 958.5,132" fill="#50509e" opacity="0.25"/><polygon points="975.4,164.4 1011.5,180.5 978.2,202.8" fill="#50509e" opacity="0.25"/><polygon points="1033.7,150.4 1051.4,182.9 1034.2,211.1 1011.5,180.5" fill="#50509e" opacity="0.25"/><polygon points="1051.4,182.9 1073.8,214 1050.6,243.7 1034.2,211.1" fill="#50509e" opacity="0.25"/><polygon points="1102.1,189.5 1133.1,200.8 1108.5,228.8 1073.8,214" fill="#50509e" opacity="0.25"/><polygon points="1126.4,160.7 1161.7,175.8 1133.1,200.8 1102.1,189.5" fill="#50509e" opacity="0.25"/><polygon points="1185.3,146.2 1201.2,179.2 1183.5,207.4 1161.7,175.8" fill="#50509e" opacity="0.25"/><polygon points="1050.6,243.7 1086.9,259.8 1053.6,281.5" fill="#50509e" opacity="0.25"/><polygon points="1108.5,228.8 1127.1,261.4 1109.9,290 1086.9,259.8" fill="#50509e" opacity="0.25"/><polygon points="1073.4,50.8 1106.5,27.4 1110.3,66.6" fill="#e8882a" opacity="0.45"/></g>
<g filter="url(#blur05)">
<polygon points="1073.4,50.8 1051.9,82.1 1032.6,49.4" fill="#4c4c98" opacity="0.16"/>
<polygon points="1086.6,95.8 1058.4,121.2 1027.6,110.1" fill="#4c4c98" opacity="0.16"/>
<polygon points="1126.4,100.5 1108.4,128.1 1086.6,95.8" fill="#4c4c98" opacity="0.16"/>
<polygon points="1058.4,121.2 1033.7,150.4 998.2,134.5" fill="#4c4c98" opacity="0.16"/>
<polygon points="1148.3,129.8 1126.4,160.7 1108.4,128.1" fill="#4c4c98" opacity="0.16"/>
<polygon points="998.2,134.5 975.4,164.4 958.5,132" fill="#4c4c98" opacity="0.16"/>
<polygon points="1051.4,182.9 1034.2,211.1 1011.5,180.5" fill="#4c4c98" opacity="0.16"/>
<polygon points="1073.8,214 1050.6,243.7 1034.2,211.1" fill="#4c4c98" opacity="0.16"/>
<polygon points="1133.1,200.8 1108.5,228.8 1073.8,214" fill="#4c4c98" opacity="0.16"/>
<polygon points="1161.7,175.8 1133.1,200.8 1102.1,189.5" fill="#4c4c98" opacity="0.16"/>
<polygon points="1201.2,179.2 1183.5,207.4 1161.7,175.8" fill="#4c4c98" opacity="0.16"/>
<polygon points="1127.1,261.4 1109.9,290 1086.9,259.8" fill="#4c4c98" opacity="0.16"/>
</g>
<line x1="1052.3" y1="51.5" x2="1051.31" y2="34.89" stroke="#4f88d0" stroke-width="1.6" /><line x1="1051.31" y1="34.89" x2="1050.5" y2="21.3" stroke="#d45a78" stroke-width="1.6" />
<line x1="1052.3" y1="51.5" x2="1063.9" y2="51.11" stroke="#4f88d0" stroke-width="1.6" /><line x1="1063.9" y1="51.11" x2="1073.4" y2="50.8" stroke="#d45a78" stroke-width="1.6" />
<line x1="1052.3" y1="51.5" x2="1052.08" y2="68.33" stroke="#4f88d0" stroke-width="1.6" /><line x1="1052.08" y1="68.33" x2="1051.9" y2="82.1" stroke="#d45a78" stroke-width="1.6" />
<line x1="1052.3" y1="51.5" x2="1041.46" y2="50.34" stroke="#4f88d0" stroke-width="1.6" /><line x1="1041.46" y1="50.34" x2="1032.6" y2="49.4" stroke="#d45a78" stroke-width="1.6" />
<line x1="1056.4" y1="101.3" x2="1053.93" y2="90.74" stroke="#4f88d0" stroke-width="1.6" /><line x1="1053.93" y1="90.74" x2="1051.9" y2="82.1" stroke="#d45a78" stroke-width="1.6" />
<line x1="1056.4" y1="101.3" x2="1073.01" y2="98.27" stroke="#4f88d0" stroke-width="1.6" /><line x1="1073.01" y1="98.27" x2="1086.6" y2="95.8" stroke="#d45a78" stroke-width="1.6" />
<line x1="1056.4" y1="101.3" x2="1057.5" y2="112.25" stroke="#4f88d0" stroke-width="1.6" /><line x1="1057.5" y1="112.25" x2="1058.4" y2="121.2" stroke="#d45a78" stroke-width="1.6" />
<line x1="1056.4" y1="101.3" x2="1040.56" y2="106.14" stroke="#4f88d0" stroke-width="1.6" /><line x1="1040.56" y1="106.14" x2="1027.6" y2="110.1" stroke="#d45a78" stroke-width="1.6" />
<line x1="1106.5" y1="97.7" x2="1108.59" y2="80.59" stroke="#4f88d0" stroke-width="1.6" /><line x1="1108.59" y1="80.59" x2="1110.3" y2="66.6" stroke="#d45a78" stroke-width="1.6" />
<line x1="1106.5" y1="97.7" x2="1117.45" y2="99.24" stroke="#4f88d0" stroke-width="1.6" /><line x1="1117.45" y1="99.24" x2="1126.4" y2="100.5" stroke="#d45a78" stroke-width="1.6" />
<line x1="1106.5" y1="97.7" x2="1107.55" y2="114.42" stroke="#4f88d0" stroke-width="1.6" /><line x1="1107.55" y1="114.42" x2="1108.4" y2="128.1" stroke="#d45a78" stroke-width="1.6" />
<line x1="1106.5" y1="97.7" x2="1095.55" y2="96.66" stroke="#4f88d0" stroke-width="1.6" /><line x1="1095.55" y1="96.66" x2="1086.6" y2="95.8" stroke="#d45a78" stroke-width="1.6" />
<line x1="1028.9" y1="130.4" x2="1028.18" y2="119.23" stroke="#4f88d0" stroke-width="1.6" /><line x1="1028.18" y1="119.23" x2="1027.6" y2="110.1" stroke="#d45a78" stroke-width="1.6" />
<line x1="1028.9" y1="130.4" x2="1045.12" y2="125.34" stroke="#4f88d0" stroke-width="1.6" /><line x1="1045.12" y1="125.34" x2="1058.4" y2="121.2" stroke="#d45a78" stroke-width="1.6" />
<line x1="1028.9" y1="130.4" x2="1031.54" y2="141.4" stroke="#4f88d0" stroke-width="1.6" /><line x1="1031.54" y1="141.4" x2="1033.7" y2="150.4" stroke="#d45a78" stroke-width="1.6" />
<line x1="1028.9" y1="130.4" x2="1012.02" y2="132.66" stroke="#4f88d0" stroke-width="1.6" /><line x1="1012.02" y1="132.66" x2="998.2" y2="134.5" stroke="#d45a78" stroke-width="1.6" />
<line x1="1128.7" y1="130.4" x2="1127.44" y2="113.95" stroke="#4f88d0" stroke-width="1.6" /><line x1="1127.44" y1="113.95" x2="1126.4" y2="100.5" stroke="#d45a78" stroke-width="1.6" />
<line x1="1128.7" y1="130.4" x2="1139.48" y2="130.07" stroke="#4f88d0" stroke-width="1.6" /><line x1="1139.48" y1="130.07" x2="1148.3" y2="129.8" stroke="#d45a78" stroke-width="1.6" />
<line x1="1128.7" y1="130.4" x2="1127.44" y2="147.06" stroke="#4f88d0" stroke-width="1.6" /><line x1="1127.44" y1="147.06" x2="1126.4" y2="160.7" stroke="#d45a78" stroke-width="1.6" />
<line x1="1128.7" y1="130.4" x2="1117.54" y2="129.13" stroke="#4f88d0" stroke-width="1.6" /><line x1="1117.54" y1="129.13" x2="1108.4" y2="128.1" stroke="#d45a78" stroke-width="1.6" />
<line x1="1179.1" y1="126" x2="1180.81" y2="116.05" stroke="#4f88d0" stroke-width="1.6" /><line x1="1180.81" y1="116.05" x2="1182.2" y2="107.9" stroke="#d45a78" stroke-width="1.6" />
<line x1="1179.1" y1="126" x2="1182.51" y2="137.11" stroke="#4f88d0" stroke-width="1.6" /><line x1="1182.51" y1="137.11" x2="1185.3" y2="146.2" stroke="#d45a78" stroke-width="1.6" />
<line x1="1179.1" y1="126" x2="1162.16" y2="128.09" stroke="#4f88d0" stroke-width="1.6" /><line x1="1162.16" y1="128.09" x2="1148.3" y2="129.8" stroke="#d45a78" stroke-width="1.6" />
<line x1="978.4" y1="133.8" x2="976.75" y2="117.14" stroke="#4f88d0" stroke-width="1.6" /><line x1="976.75" y1="117.14" x2="975.4" y2="103.5" stroke="#d45a78" stroke-width="1.6" />
<line x1="978.4" y1="133.8" x2="989.29" y2="134.19" stroke="#4f88d0" stroke-width="1.6" /><line x1="989.29" y1="134.19" x2="998.2" y2="134.5" stroke="#d45a78" stroke-width="1.6" />
<line x1="978.4" y1="133.8" x2="976.75" y2="150.63" stroke="#4f88d0" stroke-width="1.6" /><line x1="976.75" y1="150.63" x2="975.4" y2="164.4" stroke="#d45a78" stroke-width="1.6" />
<line x1="978.4" y1="133.8" x2="967.46" y2="132.81" stroke="#4f88d0" stroke-width="1.6" /><line x1="967.46" y1="132.81" x2="958.5" y2="132" stroke="#d45a78" stroke-width="1.6" />
<line x1="981.2" y1="184" x2="978.01" y2="173.22" stroke="#4f88d0" stroke-width="1.6" /><line x1="978.01" y1="173.22" x2="975.4" y2="164.4" stroke="#d45a78" stroke-width="1.6" />
<line x1="981.2" y1="184" x2="997.87" y2="182.07" stroke="#4f88d0" stroke-width="1.6" /><line x1="997.87" y1="182.07" x2="1011.5" y2="180.5" stroke="#d45a78" stroke-width="1.6" />
<line x1="981.2" y1="184" x2="979.55" y2="194.34" stroke="#4f88d0" stroke-width="1.6" /><line x1="979.55" y1="194.34" x2="978.2" y2="202.8" stroke="#d45a78" stroke-width="1.6" />
<line x1="1031.7" y1="180.5" x2="1032.8" y2="163.94" stroke="#4f88d0" stroke-width="1.6" /><line x1="1032.8" y1="163.94" x2="1033.7" y2="150.4" stroke="#d45a78" stroke-width="1.6" />
<line x1="1031.7" y1="180.5" x2="1042.54" y2="181.82" stroke="#4f88d0" stroke-width="1.6" /><line x1="1042.54" y1="181.82" x2="1051.4" y2="182.9" stroke="#d45a78" stroke-width="1.6" />
<line x1="1031.7" y1="180.5" x2="1033.08" y2="197.33" stroke="#4f88d0" stroke-width="1.6" /><line x1="1033.08" y1="197.33" x2="1034.2" y2="211.1" stroke="#d45a78" stroke-width="1.6" />
<line x1="1031.7" y1="180.5" x2="1020.59" y2="180.5" stroke="#4f88d0" stroke-width="1.6" /><line x1="1020.59" y1="180.5" x2="1011.5" y2="180.5" stroke="#d45a78" stroke-width="1.6" />
<line x1="1054.2" y1="213.8" x2="1052.66" y2="196.81" stroke="#4f88d0" stroke-width="1.6" /><line x1="1052.66" y1="196.81" x2="1051.4" y2="182.9" stroke="#d45a78" stroke-width="1.6" />
<line x1="1054.2" y1="213.8" x2="1064.98" y2="213.91" stroke="#4f88d0" stroke-width="1.6" /><line x1="1064.98" y1="213.91" x2="1073.8" y2="214" stroke="#d45a78" stroke-width="1.6" />
<line x1="1054.2" y1="213.8" x2="1052.22" y2="230.25" stroke="#4f88d0" stroke-width="1.6" /><line x1="1052.22" y1="230.25" x2="1050.6" y2="243.7" stroke="#d45a78" stroke-width="1.6" />
<line x1="1054.2" y1="213.8" x2="1043.2" y2="212.31" stroke="#4f88d0" stroke-width="1.6" /><line x1="1043.2" y1="212.31" x2="1034.2" y2="211.1" stroke="#d45a78" stroke-width="1.6" />
<line x1="1103.6" y1="210.1" x2="1102.77" y2="198.77" stroke="#4f88d0" stroke-width="1.6" /><line x1="1102.77" y1="198.77" x2="1102.1" y2="189.5" stroke="#d45a78" stroke-width="1.6" />
<line x1="1103.6" y1="210.1" x2="1119.82" y2="204.99" stroke="#4f88d0" stroke-width="1.6" /><line x1="1119.82" y1="204.99" x2="1133.1" y2="200.8" stroke="#d45a78" stroke-width="1.6" />
<line x1="1103.6" y1="210.1" x2="1106.3" y2="220.38" stroke="#4f88d0" stroke-width="1.6" /><line x1="1106.3" y1="220.38" x2="1108.5" y2="228.8" stroke="#d45a78" stroke-width="1.6" />
<line x1="1103.6" y1="210.1" x2="1087.21" y2="212.25" stroke="#4f88d0" stroke-width="1.6" /><line x1="1087.21" y1="212.25" x2="1073.8" y2="214" stroke="#d45a78" stroke-width="1.6" />
<line x1="1131.2" y1="180.5" x2="1128.56" y2="169.61" stroke="#4f88d0" stroke-width="1.6" /><line x1="1128.56" y1="169.61" x2="1126.4" y2="160.7" stroke="#d45a78" stroke-width="1.6" />
<line x1="1131.2" y1="180.5" x2="1147.98" y2="177.92" stroke="#4f88d0" stroke-width="1.6" /><line x1="1147.98" y1="177.92" x2="1161.7" y2="175.8" stroke="#d45a78" stroke-width="1.6" />
<line x1="1131.2" y1="180.5" x2="1132.24" y2="191.67" stroke="#4f88d0" stroke-width="1.6" /><line x1="1132.24" y1="191.67" x2="1133.1" y2="200.8" stroke="#d45a78" stroke-width="1.6" />
<line x1="1131.2" y1="180.5" x2="1115.19" y2="185.45" stroke="#4f88d0" stroke-width="1.6" /><line x1="1115.19" y1="185.45" x2="1102.1" y2="189.5" stroke="#d45a78" stroke-width="1.6" />
<line x1="1181.1" y1="176.1" x2="1183.41" y2="159.66" stroke="#4f88d0" stroke-width="1.6" /><line x1="1183.41" y1="159.66" x2="1185.3" y2="146.2" stroke="#d45a78" stroke-width="1.6" />
<line x1="1181.1" y1="176.1" x2="1192.15" y2="177.8" stroke="#4f88d0" stroke-width="1.6" /><line x1="1192.15" y1="177.8" x2="1201.2" y2="179.2" stroke="#d45a78" stroke-width="1.6" />
<line x1="1181.1" y1="176.1" x2="1182.42" y2="193.31" stroke="#4f88d0" stroke-width="1.6" /><line x1="1182.42" y1="193.31" x2="1183.5" y2="207.4" stroke="#d45a78" stroke-width="1.6" />
<line x1="1181.1" y1="176.1" x2="1170.43" y2="175.94" stroke="#4f88d0" stroke-width="1.6" /><line x1="1170.43" y1="175.94" x2="1161.7" y2="175.8" stroke="#d45a78" stroke-width="1.6" />
<line x1="1056.7" y1="263.2" x2="1053.35" y2="252.47" stroke="#4f88d0" stroke-width="1.6" /><line x1="1053.35" y1="252.47" x2="1050.6" y2="243.7" stroke="#d45a78" stroke-width="1.6" />
<line x1="1056.7" y1="263.2" x2="1073.31" y2="261.33" stroke="#4f88d0" stroke-width="1.6" /><line x1="1073.31" y1="261.33" x2="1086.9" y2="259.8" stroke="#d45a78" stroke-width="1.6" />
<line x1="1056.7" y1="263.2" x2="1054.99" y2="273.26" stroke="#4f88d0" stroke-width="1.6" /><line x1="1054.99" y1="273.26" x2="1053.6" y2="281.5" stroke="#d45a78" stroke-width="1.6" />
<line x1="1106.8" y1="259.5" x2="1107.73" y2="242.62" stroke="#4f88d0" stroke-width="1.6" /><line x1="1107.73" y1="242.62" x2="1108.5" y2="228.8" stroke="#d45a78" stroke-width="1.6" />
<line x1="1106.8" y1="259.5" x2="1117.96" y2="260.54" stroke="#4f88d0" stroke-width="1.6" /><line x1="1117.96" y1="260.54" x2="1127.1" y2="261.4" stroke="#d45a78" stroke-width="1.6" />
<line x1="1106.8" y1="259.5" x2="1108.51" y2="276.27" stroke="#4f88d0" stroke-width="1.6" /><line x1="1108.51" y1="276.27" x2="1109.9" y2="290" stroke="#d45a78" stroke-width="1.6" />
<line x1="1106.8" y1="259.5" x2="1095.86" y2="259.67" stroke="#4f88d0" stroke-width="1.6" /><line x1="1095.86" y1="259.67" x2="1086.9" y2="259.8" stroke="#d45a78" stroke-width="1.6" />
<line x1="1102.2" y1="46.9" x2="1086.36" y2="49.05" stroke="#e8841c" stroke-width="1.6" /><line x1="1086.36" y1="49.05" x2="1073.4" y2="50.8" stroke="#e8601c" stroke-width="1.6" />
<line x1="1102.2" y1="46.9" x2="1104.57" y2="36.17" stroke="#e8841c" stroke-width="1.6" /><line x1="1104.57" y1="36.17" x2="1106.5" y2="27.4" stroke="#e8601c" stroke-width="1.6" />
<line x1="1102.2" y1="46.9" x2="1106.65" y2="57.73" stroke="#e8841c" stroke-width="1.6" /><line x1="1106.65" y1="57.73" x2="1110.3" y2="66.6" stroke="#e8601c" stroke-width="1.6" />
<line x1="1032.6" y1="49.4" x2="1073.4" y2="50.8" stroke="#d2daee" stroke-width="1" opacity="0.85"/>
<line x1="1051.9" y1="82.1" x2="1058.4" y2="121.2" stroke="#d2daee" stroke-width="1" opacity="0.85"/>
<line x1="1086.6" y1="95.8" x2="1126.4" y2="100.5" stroke="#d2daee" stroke-width="1" opacity="0.85"/>
<line x1="1027.6" y1="110.1" x2="1033.7" y2="150.4" stroke="#d2daee" stroke-width="1" opacity="0.85"/>
<line x1="1108.4" y1="128.1" x2="1148.3" y2="129.8" stroke="#d2daee" stroke-width="1" opacity="0.85"/>
<line x1="958.5" y1="132" x2="998.2" y2="134.5" stroke="#d2daee" stroke-width="1" opacity="0.85"/>
<line x1="1011.5" y1="180.5" x2="1051.4" y2="182.9" stroke="#d2daee" stroke-width="1" opacity="0.85"/>
<line x1="1034.2" y1="211.1" x2="1073.8" y2="214" stroke="#d2daee" stroke-width="1" opacity="0.85"/>
<line x1="1102.1" y1="189.5" x2="1108.5" y2="228.8" stroke="#d2daee" stroke-width="1" opacity="0.85"/>
<line x1="1126.4" y1="160.7" x2="1133.1" y2="200.8" stroke="#d2daee" stroke-width="1" opacity="0.85"/>
<line x1="1161.7" y1="175.8" x2="1201.2" y2="179.2" stroke="#d2daee" stroke-width="1" opacity="0.85"/>
<line x1="1086.9" y1="259.8" x2="1127.1" y2="261.4" stroke="#d2daee" stroke-width="1" opacity="0.85"/>
<line x1="1027.6" y1="110.1" x2="1058.4" y2="121.2" stroke="#d2daee" stroke-width="1" opacity="0.85"/>
<line x1="1126.4" y1="100.5" x2="1108.4" y2="128.1" stroke="#d2daee" stroke-width="1" opacity="0.85"/>
<line x1="1051.4" y1="182.9" x2="1034.2" y2="211.1" stroke="#d2daee" stroke-width="1" opacity="0.85"/>
<line x1="1102.1" y1="189.5" x2="1133.1" y2="200.8" stroke="#d2daee" stroke-width="1" opacity="0.85"/>
<line x1="1182.2" y1="107.9" x2="1185.3" y2="146.2" stroke="#d2daee" stroke-width="1" opacity="0.85"/>
<line x1="975.4" y1="164.4" x2="978.2" y2="202.8" stroke="#d2daee" stroke-width="1" opacity="0.85"/>
<line x1="1050.6" y1="243.7" x2="1053.6" y2="281.5" stroke="#d2daee" stroke-width="1" opacity="0.85"/>
<line x1="1106.5" y1="27.4" x2="1110.3" y2="66.6" stroke="#d2daee" stroke-width="1" opacity="0.85"/>
<circle cx="1050.5" cy="21.3" r="4.4" fill="url(#cO)" />
<circle cx="1032.6" cy="49.4" r="4.4" fill="url(#cO)" />
<circle cx="1073.4" cy="50.8" r="4.4" fill="url(#cO)" />
<circle cx="1106.5" cy="27.4" r="4.4" fill="url(#cO)" />
<circle cx="1110.3" cy="66.6" r="4.4" fill="url(#cO)" />
<circle cx="1051.9" cy="82.1" r="4.4" fill="url(#cO)" />
<circle cx="1086.6" cy="95.8" r="4.4" fill="url(#cO)" />
<circle cx="1126.4" cy="100.5" r="4.4" fill="url(#cO)" />
<circle cx="1027.6" cy="110.1" r="4.4" fill="url(#cO)" />
<circle cx="1058.4" cy="121.2" r="4.4" fill="url(#cO)" />
<circle cx="1108.4" cy="128.1" r="4.4" fill="url(#cO)" />
<circle cx="1148.3" cy="129.8" r="4.4" fill="url(#cO)" />
<circle cx="1182.2" cy="107.9" r="4.4" fill="url(#cO)" />
<circle cx="1185.3" cy="146.2" r="4.4" fill="url(#cO)" />
<circle cx="975.4" cy="103.5" r="4.4" fill="url(#cO)" />
<circle cx="958.5" cy="132" r="4.4" fill="url(#cO)" />
<circle cx="998.2" cy="134.5" r="4.4" fill="url(#cO)" />
<circle cx="1033.7" cy="150.4" r="4.4" fill="url(#cO)" />
<circle cx="975.4" cy="164.4" r="4.4" fill="url(#cO)" />
<circle cx="1011.5" cy="180.5" r="4.4" fill="url(#cO)" />
<circle cx="1051.4" cy="182.9" r="4.4" fill="url(#cO)" />
<circle cx="978.2" cy="202.8" r="4.4" fill="url(#cO)" />
<circle cx="1034.2" cy="211.1" r="4.4" fill="url(#cO)" />
<circle cx="1073.8" cy="214" r="4.4" fill="url(#cO)" />
<circle cx="1102.1" cy="189.5" r="4.4" fill="url(#cO)" />
<circle cx="1126.4" cy="160.7" r="4.4" fill="url(#cO)" />
<circle cx="1133.1" cy="200.8" r="4.4" fill="url(#cO)" />
<circle cx="1161.7" cy="175.8" r="4.4" fill="url(#cO)" />
<circle cx="1201.2" cy="179.2" r="4.4" fill="url(#cO)" />
<circle cx="1183.5" cy="207.4" r="4.4" fill="url(#cO)" />
<circle cx="1108.5" cy="228.8" r="4.4" fill="url(#cO)" />
<circle cx="1050.6" cy="243.7" r="4.4" fill="url(#cO)" />
<circle cx="1086.9" cy="259.8" r="4.4" fill="url(#cO)" />
<circle cx="1127.1" cy="261.4" r="4.4" fill="url(#cO)" />
<circle cx="1053.6" cy="281.5" r="4.4" fill="url(#cO)" />
<circle cx="1109.9" cy="290" r="4.4" fill="url(#cO)" />
<ellipse cx="1069.6" cy="43.8" rx="63" ry="40" fill="none" stroke="#fe0000" stroke-width="3.9" stroke-dasharray="10.4 4"/>
</g>
<g id="cr3">
<g filter="url(#blur05)"><polygon points="750.6,360.3 772.6,388.4 751.2,421.9 732.4,388.7" fill="#50509e" opacity="0.5"/><polygon points="751.2,421.9 785.1,434 758.3,460.5 727.6,449.1" fill="#50509e" opacity="0.5"/><polygon points="811,407.3 823.9,439.1 805,466.3 785.1,434" fill="#50509e" opacity="0.5"/><polygon points="727.6,449.1 758.3,460.5 734,487.8 699.3,473.8" fill="#50509e" opacity="0.5"/><polygon points="823.9,439.1 844.2,468.6 822.1,497.3 805,466.3" fill="#50509e" opacity="0.5"/><polygon points="876.3,444.7 880.6,482.1 844.2,468.6" fill="#50509e" opacity="0.5"/><polygon points="677.3,443.9 699.3,473.8 675.7,503.5 660.3,472.4" fill="#50509e" opacity="0.5"/><polygon points="675.7,503.5 710.8,517.2 679.1,540.8" fill="#50509e" opacity="0.5"/><polygon points="734,487.8 751.2,519.4 731.4,546.3 710.8,517.2" fill="#50509e" opacity="0.5"/><polygon points="751.2,519.4 770,552.4 744.2,579.9 731.4,546.3" fill="#50509e" opacity="0.5"/><polygon points="795.8,524.6 827.5,536.1 804.4,564.4 770,552.4" fill="#50509e" opacity="0.5"/><polygon points="822.1,497.3 857.8,511.4 827.5,536.1 795.8,524.6" fill="#50509e" opacity="0.5"/><polygon points="880.6,482.1 897.5,513.3 879.4,541.9 857.8,511.4" fill="#50509e" opacity="0.5"/><polygon points="744.2,579.9 784.1,597.1 751.2,618.3" fill="#50509e" opacity="0.5"/><polygon points="804.4,564.4 824,596.8 806.3,625.6 784.1,597.1" fill="#50509e" opacity="0.5"/><polygon points="772.6,388.4 806.1,368.1 811,407.3" fill="#50509e" opacity="0.5"/></g>
<circle cx="751.4" cy="392.2" r="8" fill="url(#cMn)" />
<circle cx="756.3" cy="440.2" r="8" fill="url(#cMn)" />
<circle cx="804.4" cy="435.7" r="8" fill="url(#cMn)" />
<circle cx="728.8" cy="469" r="8" fill="url(#cMn)" />
<circle cx="825.3" cy="468.3" r="8" fill="url(#cMn)" />
<circle cx="873.7" cy="462.4" r="8" fill="url(#cMn)" />
<circle cx="680.2" cy="474.2" r="8" fill="url(#cMn)" />
<circle cx="681.9" cy="522.7" r="8" fill="url(#cMn)" />
<circle cx="729.9" cy="516.8" r="8" fill="url(#cMn)" />
<circle cx="750.8" cy="550.8" r="8" fill="url(#cMn)" />
<circle cx="799.2" cy="546" r="8" fill="url(#cMn)" />
<circle cx="827.3" cy="516.1" r="8" fill="url(#cMn)" />
<circle cx="876.8" cy="510.6" r="8" fill="url(#cMn)" />
<circle cx="750.1" cy="598.4" r="8" fill="url(#cMn)" />
<circle cx="804.7" cy="593.6" r="8" fill="url(#cMn)" />
<circle cx="806.8" cy="388" r="8" fill="url(#cMn)" />
<g filter="url(#blur05)"><polygon points="750.6,360.3 772.6,388.4 751.2,421.9 732.4,388.7" fill="#50509e" opacity="0.25"/><polygon points="751.2,421.9 785.1,434 758.3,460.5 727.6,449.1" fill="#50509e" opacity="0.25"/><polygon points="811,407.3 823.9,439.1 805,466.3 785.1,434" fill="#50509e" opacity="0.25"/><polygon points="727.6,449.1 758.3,460.5 734,487.8 699.3,473.8" fill="#50509e" opacity="0.25"/><polygon points="823.9,439.1 844.2,468.6 822.1,497.3 805,466.3" fill="#50509e" opacity="0.25"/><polygon points="876.3,444.7 880.6,482.1 844.2,468.6" fill="#50509e" opacity="0.25"/><polygon points="677.3,443.9 699.3,473.8 675.7,503.5 660.3,472.4" fill="#50509e" opacity="0.25"/><polygon points="675.7,503.5 710.8,517.2 679.1,540.8" fill="#50509e" opacity="0.25"/><polygon points="734,487.8 751.2,519.4 731.4,546.3 710.8,517.2" fill="#50509e" opacity="0.25"/><polygon points="751.2,519.4 770,552.4 744.2,579.9 731.4,546.3" fill="#50509e" opacity="0.25"/><polygon points="795.8,524.6 827.5,536.1 804.4,564.4 770,552.4" fill="#50509e" opacity="0.25"/><polygon points="822.1,497.3 857.8,511.4 827.5,536.1 795.8,524.6" fill="#50509e" opacity="0.25"/><polygon points="880.6,482.1 897.5,513.3 879.4,541.9 857.8,511.4" fill="#50509e" opacity="0.25"/><polygon points="744.2,579.9 784.1,597.1 751.2,618.3" fill="#50509e" opacity="0.25"/><polygon points="804.4,564.4 824,596.8 806.3,625.6 784.1,597.1" fill="#50509e" opacity="0.25"/><polygon points="772.6,388.4 806.1,368.1 811,407.3" fill="#50509e" opacity="0.25"/></g>
<g filter="url(#blur05)">
<polygon points="772.6,388.4 751.2,421.9 732.4,388.7" fill="#4c4c98" opacity="0.16"/>
<polygon points="785.1,434 758.3,460.5 727.6,449.1" fill="#4c4c98" opacity="0.16"/>
<polygon points="823.9,439.1 805,466.3 785.1,434" fill="#4c4c98" opacity="0.16"/>
<polygon points="758.3,460.5 734,487.8 699.3,473.8" fill="#4c4c98" opacity="0.16"/>
<polygon points="844.2,468.6 822.1,497.3 805,466.3" fill="#4c4c98" opacity="0.16"/>
<polygon points="699.3,473.8 675.7,503.5 660.3,472.4" fill="#4c4c98" opacity="0.16"/>
<polygon points="751.2,519.4 731.4,546.3 710.8,517.2" fill="#4c4c98" opacity="0.16"/>
<polygon points="770,552.4 744.2,579.9 731.4,546.3" fill="#4c4c98" opacity="0.16"/>
<polygon points="827.5,536.1 804.4,564.4 770,552.4" fill="#4c4c98" opacity="0.16"/>
<polygon points="857.8,511.4 827.5,536.1 795.8,524.6" fill="#4c4c98" opacity="0.16"/>
<polygon points="897.5,513.3 879.4,541.9 857.8,511.4" fill="#4c4c98" opacity="0.16"/>
<polygon points="824,596.8 806.3,625.6 784.1,597.1" fill="#4c4c98" opacity="0.16"/>
</g>
<line x1="751.4" y1="392.2" x2="750.96" y2="374.65" stroke="#4f88d0" stroke-width="1.6" /><line x1="750.96" y1="374.65" x2="750.6" y2="360.3" stroke="#d45a78" stroke-width="1.6" />
<line x1="751.4" y1="392.2" x2="763.06" y2="390.11" stroke="#4f88d0" stroke-width="1.6" /><line x1="763.06" y1="390.11" x2="772.6" y2="388.4" stroke="#d45a78" stroke-width="1.6" />
<line x1="751.4" y1="392.2" x2="751.29" y2="408.53" stroke="#4f88d0" stroke-width="1.6" /><line x1="751.29" y1="408.53" x2="751.2" y2="421.9" stroke="#d45a78" stroke-width="1.6" />
<line x1="751.4" y1="392.2" x2="740.95" y2="390.27" stroke="#4f88d0" stroke-width="1.6" /><line x1="740.95" y1="390.27" x2="732.4" y2="388.7" stroke="#d45a78" stroke-width="1.6" />
<line x1="756.3" y1="440.2" x2="753.5" y2="430.13" stroke="#4f88d0" stroke-width="1.6" /><line x1="753.5" y1="430.13" x2="751.2" y2="421.9" stroke="#d45a78" stroke-width="1.6" />
<line x1="756.3" y1="440.2" x2="772.14" y2="436.79" stroke="#4f88d0" stroke-width="1.6" /><line x1="772.14" y1="436.79" x2="785.1" y2="434" stroke="#d45a78" stroke-width="1.6" />
<line x1="756.3" y1="440.2" x2="757.4" y2="451.37" stroke="#4f88d0" stroke-width="1.6" /><line x1="757.4" y1="451.37" x2="758.3" y2="460.5" stroke="#d45a78" stroke-width="1.6" />
<line x1="756.3" y1="440.2" x2="740.51" y2="445.1" stroke="#4f88d0" stroke-width="1.6" /><line x1="740.51" y1="445.1" x2="727.6" y2="449.1" stroke="#d45a78" stroke-width="1.6" />
<line x1="804.4" y1="435.7" x2="808.03" y2="420.08" stroke="#4f88d0" stroke-width="1.6" /><line x1="808.03" y1="420.08" x2="811" y2="407.3" stroke="#d45a78" stroke-width="1.6" />
<line x1="804.4" y1="435.7" x2="815.12" y2="437.57" stroke="#4f88d0" stroke-width="1.6" /><line x1="815.12" y1="437.57" x2="823.9" y2="439.1" stroke="#d45a78" stroke-width="1.6" />
<line x1="804.4" y1="435.7" x2="804.73" y2="452.53" stroke="#4f88d0" stroke-width="1.6" /><line x1="804.73" y1="452.53" x2="805" y2="466.3" stroke="#d45a78" stroke-width="1.6" />
<line x1="804.4" y1="435.7" x2="793.78" y2="434.76" stroke="#4f88d0" stroke-width="1.6" /><line x1="793.78" y1="434.76" x2="785.1" y2="434" stroke="#d45a78" stroke-width="1.6" />
<line x1="728.8" y1="469" x2="728.14" y2="458.06" stroke="#4f88d0" stroke-width="1.6" /><line x1="728.14" y1="458.06" x2="727.6" y2="449.1" stroke="#d45a78" stroke-width="1.6" />
<line x1="728.8" y1="469" x2="745.02" y2="464.32" stroke="#4f88d0" stroke-width="1.6" /><line x1="745.02" y1="464.32" x2="758.3" y2="460.5" stroke="#d45a78" stroke-width="1.6" />
<line x1="728.8" y1="469" x2="731.66" y2="479.34" stroke="#4f88d0" stroke-width="1.6" /><line x1="731.66" y1="479.34" x2="734" y2="487.8" stroke="#d45a78" stroke-width="1.6" />
<line x1="728.8" y1="469" x2="712.57" y2="471.64" stroke="#4f88d0" stroke-width="1.6" /><line x1="712.57" y1="471.64" x2="699.3" y2="473.8" stroke="#d45a78" stroke-width="1.6" />
<line x1="825.3" y1="468.3" x2="824.53" y2="452.24" stroke="#4f88d0" stroke-width="1.6" /><line x1="824.53" y1="452.24" x2="823.9" y2="439.1" stroke="#d45a78" stroke-width="1.6" />
<line x1="825.3" y1="468.3" x2="835.7" y2="468.47" stroke="#4f88d0" stroke-width="1.6" /><line x1="835.7" y1="468.47" x2="844.2" y2="468.6" stroke="#d45a78" stroke-width="1.6" />
<line x1="825.3" y1="468.3" x2="823.54" y2="484.25" stroke="#4f88d0" stroke-width="1.6" /><line x1="823.54" y1="484.25" x2="822.1" y2="497.3" stroke="#d45a78" stroke-width="1.6" />
<line x1="825.3" y1="468.3" x2="814.13" y2="467.2" stroke="#4f88d0" stroke-width="1.6" /><line x1="814.13" y1="467.2" x2="805" y2="466.3" stroke="#d45a78" stroke-width="1.6" />
<line x1="873.7" y1="462.4" x2="875.13" y2="452.66" stroke="#4f88d0" stroke-width="1.6" /><line x1="875.13" y1="452.66" x2="876.3" y2="444.7" stroke="#d45a78" stroke-width="1.6" />
<line x1="873.7" y1="462.4" x2="877.5" y2="473.24" stroke="#4f88d0" stroke-width="1.6" /><line x1="877.5" y1="473.24" x2="880.6" y2="482.1" stroke="#d45a78" stroke-width="1.6" />
<line x1="873.7" y1="462.4" x2="857.48" y2="465.81" stroke="#4f88d0" stroke-width="1.6" /><line x1="857.48" y1="465.81" x2="844.2" y2="468.6" stroke="#d45a78" stroke-width="1.6" />
<line x1="680.2" y1="474.2" x2="678.61" y2="457.53" stroke="#4f88d0" stroke-width="1.6" /><line x1="678.61" y1="457.53" x2="677.3" y2="443.9" stroke="#d45a78" stroke-width="1.6" />
<line x1="680.2" y1="474.2" x2="690.71" y2="473.98" stroke="#4f88d0" stroke-width="1.6" /><line x1="690.71" y1="473.98" x2="699.3" y2="473.8" stroke="#d45a78" stroke-width="1.6" />
<line x1="680.2" y1="474.2" x2="677.73" y2="490.31" stroke="#4f88d0" stroke-width="1.6" /><line x1="677.73" y1="490.31" x2="675.7" y2="503.5" stroke="#d45a78" stroke-width="1.6" />
<line x1="680.2" y1="474.2" x2="669.25" y2="473.21" stroke="#4f88d0" stroke-width="1.6" /><line x1="669.25" y1="473.21" x2="660.3" y2="472.4" stroke="#d45a78" stroke-width="1.6" />
<line x1="681.9" y1="522.7" x2="678.49" y2="512.14" stroke="#4f88d0" stroke-width="1.6" /><line x1="678.49" y1="512.14" x2="675.7" y2="503.5" stroke="#d45a78" stroke-width="1.6" />
<line x1="681.9" y1="522.7" x2="697.79" y2="519.68" stroke="#4f88d0" stroke-width="1.6" /><line x1="697.79" y1="519.68" x2="710.8" y2="517.2" stroke="#d45a78" stroke-width="1.6" />
<line x1="681.9" y1="522.7" x2="680.36" y2="532.65" stroke="#4f88d0" stroke-width="1.6" /><line x1="680.36" y1="532.65" x2="679.1" y2="540.8" stroke="#d45a78" stroke-width="1.6" />
<line x1="729.9" y1="516.8" x2="732.15" y2="500.85" stroke="#4f88d0" stroke-width="1.6" /><line x1="732.15" y1="500.85" x2="734" y2="487.8" stroke="#d45a78" stroke-width="1.6" />
<line x1="729.9" y1="516.8" x2="741.62" y2="518.23" stroke="#4f88d0" stroke-width="1.6" /><line x1="741.62" y1="518.23" x2="751.2" y2="519.4" stroke="#d45a78" stroke-width="1.6" />
<line x1="729.9" y1="516.8" x2="730.73" y2="533.02" stroke="#4f88d0" stroke-width="1.6" /><line x1="730.73" y1="533.02" x2="731.4" y2="546.3" stroke="#d45a78" stroke-width="1.6" />
<line x1="729.9" y1="516.8" x2="719.39" y2="517.02" stroke="#4f88d0" stroke-width="1.6" /><line x1="719.39" y1="517.02" x2="710.8" y2="517.2" stroke="#d45a78" stroke-width="1.6" />
<line x1="750.8" y1="550.8" x2="751.02" y2="533.53" stroke="#4f88d0" stroke-width="1.6" /><line x1="751.02" y1="533.53" x2="751.2" y2="519.4" stroke="#d45a78" stroke-width="1.6" />
<line x1="750.8" y1="550.8" x2="761.36" y2="551.68" stroke="#4f88d0" stroke-width="1.6" /><line x1="761.36" y1="551.68" x2="770" y2="552.4" stroke="#d45a78" stroke-width="1.6" />
<line x1="750.8" y1="550.8" x2="747.17" y2="566.8" stroke="#4f88d0" stroke-width="1.6" /><line x1="747.17" y1="566.8" x2="744.2" y2="579.9" stroke="#d45a78" stroke-width="1.6" />
<line x1="750.8" y1="550.8" x2="740.13" y2="548.32" stroke="#4f88d0" stroke-width="1.6" /><line x1="740.13" y1="548.32" x2="731.4" y2="546.3" stroke="#d45a78" stroke-width="1.6" />
<line x1="799.2" y1="546" x2="797.33" y2="534.23" stroke="#4f88d0" stroke-width="1.6" /><line x1="797.33" y1="534.23" x2="795.8" y2="524.6" stroke="#d45a78" stroke-width="1.6" />
<line x1="799.2" y1="546" x2="814.76" y2="540.56" stroke="#4f88d0" stroke-width="1.6" /><line x1="814.76" y1="540.56" x2="827.5" y2="536.1" stroke="#d45a78" stroke-width="1.6" />
<line x1="799.2" y1="546" x2="802.06" y2="556.12" stroke="#4f88d0" stroke-width="1.6" /><line x1="802.06" y1="556.12" x2="804.4" y2="564.4" stroke="#d45a78" stroke-width="1.6" />
<line x1="799.2" y1="546" x2="783.14" y2="549.52" stroke="#4f88d0" stroke-width="1.6" /><line x1="783.14" y1="549.52" x2="770" y2="552.4" stroke="#d45a78" stroke-width="1.6" />
<line x1="827.3" y1="516.1" x2="824.44" y2="505.76" stroke="#4f88d0" stroke-width="1.6" /><line x1="824.44" y1="505.76" x2="822.1" y2="497.3" stroke="#d45a78" stroke-width="1.6" />
<line x1="827.3" y1="516.1" x2="844.07" y2="513.51" stroke="#4f88d0" stroke-width="1.6" /><line x1="844.07" y1="513.51" x2="857.8" y2="511.4" stroke="#d45a78" stroke-width="1.6" />
<line x1="827.3" y1="516.1" x2="827.41" y2="527.1" stroke="#4f88d0" stroke-width="1.6" /><line x1="827.41" y1="527.1" x2="827.5" y2="536.1" stroke="#d45a78" stroke-width="1.6" />
<line x1="827.3" y1="516.1" x2="809.97" y2="520.77" stroke="#4f88d0" stroke-width="1.6" /><line x1="809.97" y1="520.77" x2="795.8" y2="524.6" stroke="#d45a78" stroke-width="1.6" />
<line x1="876.8" y1="510.6" x2="878.89" y2="494.93" stroke="#4f88d0" stroke-width="1.6" /><line x1="878.89" y1="494.93" x2="880.6" y2="482.1" stroke="#d45a78" stroke-width="1.6" />
<line x1="876.8" y1="510.6" x2="888.18" y2="512.09" stroke="#4f88d0" stroke-width="1.6" /><line x1="888.18" y1="512.09" x2="897.5" y2="513.3" stroke="#d45a78" stroke-width="1.6" />
<line x1="876.8" y1="510.6" x2="878.23" y2="527.82" stroke="#4f88d0" stroke-width="1.6" /><line x1="878.23" y1="527.82" x2="879.4" y2="541.9" stroke="#d45a78" stroke-width="1.6" />
<line x1="876.8" y1="510.6" x2="866.35" y2="511.04" stroke="#4f88d0" stroke-width="1.6" /><line x1="866.35" y1="511.04" x2="857.8" y2="511.4" stroke="#d45a78" stroke-width="1.6" />
<line x1="750.1" y1="598.4" x2="746.86" y2="588.23" stroke="#4f88d0" stroke-width="1.6" /><line x1="746.86" y1="588.23" x2="744.2" y2="579.9" stroke="#d45a78" stroke-width="1.6" />
<line x1="750.1" y1="598.4" x2="768.8" y2="597.68" stroke="#4f88d0" stroke-width="1.6" /><line x1="768.8" y1="597.68" x2="784.1" y2="597.1" stroke="#d45a78" stroke-width="1.6" />
<line x1="750.1" y1="598.4" x2="750.71" y2="609.34" stroke="#4f88d0" stroke-width="1.6" /><line x1="750.71" y1="609.34" x2="751.2" y2="618.3" stroke="#d45a78" stroke-width="1.6" />
<line x1="804.7" y1="593.6" x2="804.53" y2="577.54" stroke="#4f88d0" stroke-width="1.6" /><line x1="804.53" y1="577.54" x2="804.4" y2="564.4" stroke="#d45a78" stroke-width="1.6" />
<line x1="804.7" y1="593.6" x2="815.32" y2="595.36" stroke="#4f88d0" stroke-width="1.6" /><line x1="815.32" y1="595.36" x2="824" y2="596.8" stroke="#d45a78" stroke-width="1.6" />
<line x1="804.7" y1="593.6" x2="805.58" y2="611.2" stroke="#4f88d0" stroke-width="1.6" /><line x1="805.58" y1="611.2" x2="806.3" y2="625.6" stroke="#d45a78" stroke-width="1.6" />
<line x1="804.7" y1="593.6" x2="793.37" y2="595.52" stroke="#4f88d0" stroke-width="1.6" /><line x1="793.37" y1="595.52" x2="784.1" y2="597.1" stroke="#d45a78" stroke-width="1.6" />
<line x1="806.8" y1="388" x2="787.99" y2="388.22" stroke="#4f88d0" stroke-width="1.6" /><line x1="787.99" y1="388.22" x2="772.6" y2="388.4" stroke="#d45a78" stroke-width="1.6" />
<line x1="806.8" y1="388" x2="806.41" y2="377.06" stroke="#4f88d0" stroke-width="1.6" /><line x1="806.41" y1="377.06" x2="806.1" y2="368.1" stroke="#d45a78" stroke-width="1.6" />
<line x1="806.8" y1="388" x2="809.11" y2="398.62" stroke="#4f88d0" stroke-width="1.6" /><line x1="809.11" y1="398.62" x2="811" y2="407.3" stroke="#d45a78" stroke-width="1.6" />
<line x1="732.4" y1="388.7" x2="772.6" y2="388.4" stroke="#d2daee" stroke-width="1" opacity="0.85"/>
<line x1="751.2" y1="421.9" x2="758.3" y2="460.5" stroke="#d2daee" stroke-width="1" opacity="0.85"/>
<line x1="785.1" y1="434" x2="823.9" y2="439.1" stroke="#d2daee" stroke-width="1" opacity="0.85"/>
<line x1="727.6" y1="449.1" x2="734" y2="487.8" stroke="#d2daee" stroke-width="1" opacity="0.85"/>
<line x1="805" y1="466.3" x2="844.2" y2="468.6" stroke="#d2daee" stroke-width="1" opacity="0.85"/>
<line x1="660.3" y1="472.4" x2="699.3" y2="473.8" stroke="#d2daee" stroke-width="1" opacity="0.85"/>
<line x1="710.8" y1="517.2" x2="751.2" y2="519.4" stroke="#d2daee" stroke-width="1" opacity="0.85"/>
<line x1="731.4" y1="546.3" x2="770" y2="552.4" stroke="#d2daee" stroke-width="1" opacity="0.85"/>
<line x1="795.8" y1="524.6" x2="804.4" y2="564.4" stroke="#d2daee" stroke-width="1" opacity="0.85"/>
<line x1="822.1" y1="497.3" x2="827.5" y2="536.1" stroke="#d2daee" stroke-width="1" opacity="0.85"/>
<line x1="857.8" y1="511.4" x2="897.5" y2="513.3" stroke="#d2daee" stroke-width="1" opacity="0.85"/>
<line x1="784.1" y1="597.1" x2="824" y2="596.8" stroke="#d2daee" stroke-width="1" opacity="0.85"/>
<line x1="727.6" y1="449.1" x2="758.3" y2="460.5" stroke="#d2daee" stroke-width="1" opacity="0.85"/>
<line x1="823.9" y1="439.1" x2="805" y2="466.3" stroke="#d2daee" stroke-width="1" opacity="0.85"/>
<line x1="751.2" y1="519.4" x2="731.4" y2="546.3" stroke="#d2daee" stroke-width="1" opacity="0.85"/>
<line x1="795.8" y1="524.6" x2="827.5" y2="536.1" stroke="#d2daee" stroke-width="1" opacity="0.85"/>
<line x1="876.3" y1="444.7" x2="880.6" y2="482.1" stroke="#d2daee" stroke-width="1" opacity="0.85"/>
<line x1="675.7" y1="503.5" x2="679.1" y2="540.8" stroke="#d2daee" stroke-width="1" opacity="0.85"/>
<line x1="744.2" y1="579.9" x2="751.2" y2="618.3" stroke="#d2daee" stroke-width="1" opacity="0.85"/>
<line x1="806.1" y1="368.1" x2="811" y2="407.3" stroke="#d2daee" stroke-width="1" opacity="0.85"/>
<circle cx="750.6" cy="360.3" r="4.4" fill="url(#cO)" />
<circle cx="732.4" cy="388.7" r="4.4" fill="url(#cO)" />
<circle cx="772.6" cy="388.4" r="4.4" fill="url(#cO)" />
<circle cx="806.1" cy="368.1" r="4.4" fill="url(#cO)" />
<circle cx="811" cy="407.3" r="4.4" fill="url(#cO)" />
<circle cx="751.2" cy="421.9" r="4.4" fill="url(#cO)" />
<circle cx="785.1" cy="434" r="4.4" fill="url(#cO)" />
<circle cx="823.9" cy="439.1" r="4.4" fill="url(#cO)" />
<circle cx="727.6" cy="449.1" r="4.4" fill="url(#cO)" />
<circle cx="758.3" cy="460.5" r="4.4" fill="url(#cO)" />
<circle cx="805" cy="466.3" r="4.4" fill="url(#cO)" />
<circle cx="844.2" cy="468.6" r="4.4" fill="url(#cO)" />
<circle cx="876.3" cy="444.7" r="4.4" fill="url(#cO)" />
<circle cx="880.6" cy="482.1" r="4.4" fill="url(#cO)" />
<circle cx="677.3" cy="443.9" r="4.4" fill="url(#cO)" />
<circle cx="660.3" cy="472.4" r="4.4" fill="url(#cO)" />
<circle cx="699.3" cy="473.8" r="4.4" fill="url(#cO)" />
<circle cx="734" cy="487.8" r="4.4" fill="url(#cO)" />
<circle cx="675.7" cy="503.5" r="4.4" fill="url(#cO)" />
<circle cx="710.8" cy="517.2" r="4.4" fill="url(#cO)" />
<circle cx="751.2" cy="519.4" r="4.4" fill="url(#cO)" />
<circle cx="679.1" cy="540.8" r="4.4" fill="url(#cO)" />
<circle cx="731.4" cy="546.3" r="4.4" fill="url(#cO)" />
<circle cx="770" cy="552.4" r="4.4" fill="url(#cO)" />
<circle cx="795.8" cy="524.6" r="4.4" fill="url(#cO)" />
<circle cx="822.1" cy="497.3" r="4.4" fill="url(#cO)" />
<circle cx="827.5" cy="536.1" r="4.4" fill="url(#cO)" />
<circle cx="857.8" cy="511.4" r="4.4" fill="url(#cO)" />
<circle cx="897.5" cy="513.3" r="4.4" fill="url(#cO)" />
<circle cx="879.4" cy="541.9" r="4.4" fill="url(#cO)" />
<circle cx="804.4" cy="564.4" r="4.4" fill="url(#cO)" />
<circle cx="744.2" cy="579.9" r="4.4" fill="url(#cO)" />
<circle cx="784.1" cy="597.1" r="4.4" fill="url(#cO)" />
<circle cx="824" cy="596.8" r="4.4" fill="url(#cO)" />
<circle cx="751.2" cy="618.3" r="4.4" fill="url(#cO)" />
<circle cx="806.3" cy="625.6" r="4.4" fill="url(#cO)" />
<circle cx="778.6" cy="361.7" r="7.5" fill="url(#cNi)" />
<circle cx="775.6" cy="505.1" r="7.5" fill="url(#cNi)" />
<circle cx="778.2" cy="625.5" r="7.5" fill="url(#cNi)" />
<ellipse cx="772.6" cy="382.2" rx="63" ry="40.1" fill="none" stroke="#fe0000" stroke-width="3.9" stroke-dasharray="10.4 4"/>
</g>
<g id="cr4">
<g filter="url(#blur05)"><polygon points="1050.9,359.2 1073.5,389 1051.9,420 1033.7,387.4" fill="#50509e" opacity="0.5"/><polygon points="1051.9,420 1085.9,435.4 1057.8,459.4 1026.7,447.5" fill="#50509e" opacity="0.5"/><polygon points="1109.8,405.2 1126.1,437.9 1108.8,466.3 1085.9,435.4" fill="#50509e" opacity="0.5"/><polygon points="1026.7,447.5 1057.8,459.4 1032.6,487.1 997.4,471.8" fill="#50509e" opacity="0.5"/><polygon points="1126.1,437.9 1148.9,467.9 1127.3,498.5 1108.8,466.3" fill="#50509e" opacity="0.5"/><polygon points="1182.7,446.1 1185,484.1 1148.9,467.9" fill="#50509e" opacity="0.5"/><polygon points="975,441.3 997.4,471.8 974.6,501.4 957.6,469.3" fill="#50509e" opacity="0.5"/><polygon points="974.6,501.4 1010.7,518.1 977.1,539.7" fill="#50509e" opacity="0.5"/><polygon points="1032.6,487.1 1050.9,519.6 1033.5,547.6 1010.7,518.1" fill="#50509e" opacity="0.5"/><polygon points="1050.9,519.6 1073.4,550.4 1050.6,580.6 1033.5,547.6" fill="#50509e" opacity="0.5"/><polygon points="1102.4,526.5 1133.2,538 1108.3,565.8 1073.4,550.4" fill="#50509e" opacity="0.5"/><polygon points="1127.3,498.5 1162.1,514 1133.2,538 1102.4,526.5" fill="#50509e" opacity="0.5"/><polygon points="1185,484.1 1201.9,516.8 1185,544.9 1162.1,514" fill="#50509e" opacity="0.5"/><polygon points="1050.6,580.6 1085.9,596.6 1053.1,618.3" fill="#50509e" opacity="0.5"/><polygon points="1108.3,565.8 1126.2,598.7 1109.2,626.8 1085.9,596.6" fill="#50509e" opacity="0.5"/><polygon points="1073.5,389 1107,367.5 1109.8,405.2" fill="#50509e" opacity="0.5"/></g>
<circle cx="1053.6" cy="389.7" r="8" fill="url(#cMn)" />
<circle cx="1056.4" cy="439.1" r="8" fill="url(#cMn)" />
<circle cx="1106.1" cy="435.4" r="8" fill="url(#cMn)" />
<circle cx="1028.1" cy="467.9" r="8" fill="url(#cMn)" />
<circle cx="1129.4" cy="467.9" r="8" fill="url(#cMn)" />
<circle cx="1179.2" cy="464.6" r="8" fill="url(#cMn)" />
<circle cx="977.7" cy="471.5" r="8" fill="url(#cMn)" />
<circle cx="980.2" cy="521.3" r="8" fill="url(#cMn)" />
<circle cx="1030.9" cy="517.5" r="8" fill="url(#cMn)" />
<circle cx="1053.6" cy="550.1" r="8" fill="url(#cMn)" />
<circle cx="1103.6" cy="547" r="8" fill="url(#cMn)" />
<circle cx="1131.5" cy="517.2" r="8" fill="url(#cMn)" />
<circle cx="1181.8" cy="514" r="8" fill="url(#cMn)" />
<circle cx="1056.7" cy="599.8" r="8" fill="url(#cMn)" />
<circle cx="1106.5" cy="596.1" r="8" fill="url(#cMn)" />
<circle cx="1103.3" cy="386" r="8" fill="url(#cMn)" />
<g filter="url(#blur05)"><polygon points="1050.9,359.2 1073.5,389 1051.9,420 1033.7,387.4" fill="#50509e" opacity="0.25"/><polygon points="1051.9,420 1085.9,435.4 1057.8,459.4 1026.7,447.5" fill="#50509e" opacity="0.25"/><polygon points="1109.8,405.2 1126.1,437.9 1108.8,466.3 1085.9,435.4" fill="#50509e" opacity="0.25"/><polygon points="1026.7,447.5 1057.8,459.4 1032.6,487.1 997.4,471.8" fill="#50509e" opacity="0.25"/><polygon points="1126.1,437.9 1148.9,467.9 1127.3,498.5 1108.8,466.3" fill="#50509e" opacity="0.25"/><polygon points="1182.7,446.1 1185,484.1 1148.9,467.9" fill="#50509e" opacity="0.25"/><polygon points="975,441.3 997.4,471.8 974.6,501.4 957.6,469.3" fill="#50509e" opacity="0.25"/><polygon points="974.6,501.4 1010.7,518.1 977.1,539.7" fill="#50509e" opacity="0.25"/><polygon points="1032.6,487.1 1050.9,519.6 1033.5,547.6 1010.7,518.1" fill="#50509e" opacity="0.25"/><polygon points="1050.9,519.6 1073.4,550.4 1050.6,580.6 1033.5,547.6" fill="#50509e" opacity="0.25"/><polygon points="1102.4,526.5 1133.2,538 1108.3,565.8 1073.4,550.4" fill="#50509e" opacity="0.25"/><polygon points="1127.3,498.5 1162.1,514 1133.2,538 1102.4,526.5" fill="#50509e" opacity="0.25"/><polygon points="1185,484.1 1201.9,516.8 1185,544.9 1162.1,514" fill="#50509e" opacity="0.25"/><polygon points="1050.6,580.6 1085.9,596.6 1053.1,618.3" fill="#50509e" opacity="0.25"/><polygon points="1108.3,565.8 1126.2,598.7 1109.2,626.8 1085.9,596.6" fill="#50509e" opacity="0.25"/><polygon points="1073.5,389 1107,367.5 1109.8,405.2" fill="#50509e" opacity="0.25"/></g>
<g filter="url(#blur05)">
<polygon points="1073.5,389 1051.9,420 1033.7,387.4" fill="#4c4c98" opacity="0.16"/>
<polygon points="1085.9,435.4 1057.8,459.4 1026.7,447.5" fill="#4c4c98" opacity="0.16"/>
<polygon points="1126.1,437.9 1108.8,466.3 1085.9,435.4" fill="#4c4c98" opacity="0.16"/>
<polygon points="1057.8,459.4 1032.6,487.1 997.4,471.8" fill="#4c4c98" opacity="0.16"/>
<polygon points="1148.9,467.9 1127.3,498.5 1108.8,466.3" fill="#4c4c98" opacity="0.16"/>
<polygon points="997.4,471.8 974.6,501.4 957.6,469.3" fill="#4c4c98" opacity="0.16"/>
<polygon points="1050.9,519.6 1033.5,547.6 1010.7,518.1" fill="#4c4c98" opacity="0.16"/>
<polygon points="1073.4,550.4 1050.6,580.6 1033.5,547.6" fill="#4c4c98" opacity="0.16"/>
<polygon points="1133.2,538 1108.3,565.8 1073.4,550.4" fill="#4c4c98" opacity="0.16"/>
<polygon points="1162.1,514 1133.2,538 1102.4,526.5" fill="#4c4c98" opacity="0.16"/>
<polygon points="1201.9,516.8 1185,544.9 1162.1,514" fill="#4c4c98" opacity="0.16"/>
<polygon points="1126.2,598.7 1109.2,626.8 1085.9,596.6" fill="#4c4c98" opacity="0.16"/>
</g>
<line x1="1053.6" y1="389.7" x2="1052.12" y2="372.93" stroke="#4f88d0" stroke-width="1.6" /><line x1="1052.12" y1="372.93" x2="1050.9" y2="359.2" stroke="#d45a78" stroke-width="1.6" />
<line x1="1053.6" y1="389.7" x2="1064.55" y2="389.31" stroke="#4f88d0" stroke-width="1.6" /><line x1="1064.55" y1="389.31" x2="1073.5" y2="389" stroke="#d45a78" stroke-width="1.6" />
<line x1="1053.6" y1="389.7" x2="1052.66" y2="406.37" stroke="#4f88d0" stroke-width="1.6" /><line x1="1052.66" y1="406.37" x2="1051.9" y2="420" stroke="#d45a78" stroke-width="1.6" />
<line x1="1053.6" y1="389.7" x2="1042.65" y2="388.44" stroke="#4f88d0" stroke-width="1.6" /><line x1="1042.65" y1="388.44" x2="1033.7" y2="387.4" stroke="#d45a78" stroke-width="1.6" />
<line x1="1056.4" y1="439.1" x2="1053.93" y2="428.6" stroke="#4f88d0" stroke-width="1.6" /><line x1="1053.93" y1="428.6" x2="1051.9" y2="420" stroke="#d45a78" stroke-width="1.6" />
<line x1="1056.4" y1="439.1" x2="1072.62" y2="437.06" stroke="#4f88d0" stroke-width="1.6" /><line x1="1072.62" y1="437.06" x2="1085.9" y2="435.4" stroke="#d45a78" stroke-width="1.6" />
<line x1="1056.4" y1="439.1" x2="1057.17" y2="450.26" stroke="#4f88d0" stroke-width="1.6" /><line x1="1057.17" y1="450.26" x2="1057.8" y2="459.4" stroke="#d45a78" stroke-width="1.6" />
<line x1="1056.4" y1="439.1" x2="1040.07" y2="443.72" stroke="#4f88d0" stroke-width="1.6" /><line x1="1040.07" y1="443.72" x2="1026.7" y2="447.5" stroke="#d45a78" stroke-width="1.6" />
<line x1="1106.1" y1="435.4" x2="1108.13" y2="418.79" stroke="#4f88d0" stroke-width="1.6" /><line x1="1108.13" y1="418.79" x2="1109.8" y2="405.2" stroke="#d45a78" stroke-width="1.6" />
<line x1="1106.1" y1="435.4" x2="1117.1" y2="436.77" stroke="#4f88d0" stroke-width="1.6" /><line x1="1117.1" y1="436.77" x2="1126.1" y2="437.9" stroke="#d45a78" stroke-width="1.6" />
<line x1="1106.1" y1="435.4" x2="1107.59" y2="452.39" stroke="#4f88d0" stroke-width="1.6" /><line x1="1107.59" y1="452.39" x2="1108.8" y2="466.3" stroke="#d45a78" stroke-width="1.6" />
<line x1="1106.1" y1="435.4" x2="1094.99" y2="435.4" stroke="#4f88d0" stroke-width="1.6" /><line x1="1094.99" y1="435.4" x2="1085.9" y2="435.4" stroke="#d45a78" stroke-width="1.6" />
<line x1="1028.1" y1="467.9" x2="1027.33" y2="456.68" stroke="#4f88d0" stroke-width="1.6" /><line x1="1027.33" y1="456.68" x2="1026.7" y2="447.5" stroke="#d45a78" stroke-width="1.6" />
<line x1="1028.1" y1="467.9" x2="1044.43" y2="463.22" stroke="#4f88d0" stroke-width="1.6" /><line x1="1044.43" y1="463.22" x2="1057.8" y2="459.4" stroke="#d45a78" stroke-width="1.6" />
<line x1="1028.1" y1="467.9" x2="1030.57" y2="478.46" stroke="#4f88d0" stroke-width="1.6" /><line x1="1030.57" y1="478.46" x2="1032.6" y2="487.1" stroke="#d45a78" stroke-width="1.6" />
<line x1="1028.1" y1="467.9" x2="1011.21" y2="470.05" stroke="#4f88d0" stroke-width="1.6" /><line x1="1011.21" y1="470.05" x2="997.4" y2="471.8" stroke="#d45a78" stroke-width="1.6" />
<line x1="1129.4" y1="467.9" x2="1127.59" y2="451.4" stroke="#4f88d0" stroke-width="1.6" /><line x1="1127.59" y1="451.4" x2="1126.1" y2="437.9" stroke="#d45a78" stroke-width="1.6" />
<line x1="1129.4" y1="467.9" x2="1140.12" y2="467.9" stroke="#4f88d0" stroke-width="1.6" /><line x1="1140.12" y1="467.9" x2="1148.9" y2="467.9" stroke="#d45a78" stroke-width="1.6" />
<line x1="1129.4" y1="467.9" x2="1128.25" y2="484.73" stroke="#4f88d0" stroke-width="1.6" /><line x1="1128.25" y1="484.73" x2="1127.3" y2="498.5" stroke="#d45a78" stroke-width="1.6" />
<line x1="1129.4" y1="467.9" x2="1118.07" y2="467.02" stroke="#4f88d0" stroke-width="1.6" /><line x1="1118.07" y1="467.02" x2="1108.8" y2="466.3" stroke="#d45a78" stroke-width="1.6" />
<line x1="1179.2" y1="464.6" x2="1181.12" y2="454.43" stroke="#4f88d0" stroke-width="1.6" /><line x1="1181.12" y1="454.43" x2="1182.7" y2="446.1" stroke="#d45a78" stroke-width="1.6" />
<line x1="1179.2" y1="464.6" x2="1182.39" y2="475.33" stroke="#4f88d0" stroke-width="1.6" /><line x1="1182.39" y1="475.33" x2="1185" y2="484.1" stroke="#d45a78" stroke-width="1.6" />
<line x1="1179.2" y1="464.6" x2="1162.54" y2="466.42" stroke="#4f88d0" stroke-width="1.6" /><line x1="1162.54" y1="466.42" x2="1148.9" y2="467.9" stroke="#d45a78" stroke-width="1.6" />
<line x1="977.7" y1="471.5" x2="976.22" y2="454.89" stroke="#4f88d0" stroke-width="1.6" /><line x1="976.22" y1="454.89" x2="975" y2="441.3" stroke="#d45a78" stroke-width="1.6" />
<line x1="977.7" y1="471.5" x2="988.53" y2="471.67" stroke="#4f88d0" stroke-width="1.6" /><line x1="988.53" y1="471.67" x2="997.4" y2="471.8" stroke="#d45a78" stroke-width="1.6" />
<line x1="977.7" y1="471.5" x2="976" y2="487.94" stroke="#4f88d0" stroke-width="1.6" /><line x1="976" y1="487.94" x2="974.6" y2="501.4" stroke="#d45a78" stroke-width="1.6" />
<line x1="977.7" y1="471.5" x2="966.64" y2="470.29" stroke="#4f88d0" stroke-width="1.6" /><line x1="966.64" y1="470.29" x2="957.6" y2="469.3" stroke="#d45a78" stroke-width="1.6" />
<line x1="980.2" y1="521.3" x2="977.12" y2="510.35" stroke="#4f88d0" stroke-width="1.6" /><line x1="977.12" y1="510.35" x2="974.6" y2="501.4" stroke="#d45a78" stroke-width="1.6" />
<line x1="980.2" y1="521.3" x2="996.98" y2="519.54" stroke="#4f88d0" stroke-width="1.6" /><line x1="996.98" y1="519.54" x2="1010.7" y2="518.1" stroke="#d45a78" stroke-width="1.6" />
<line x1="980.2" y1="521.3" x2="978.5" y2="531.42" stroke="#4f88d0" stroke-width="1.6" /><line x1="978.5" y1="531.42" x2="977.1" y2="539.7" stroke="#d45a78" stroke-width="1.6" />
<line x1="1030.9" y1="517.5" x2="1031.84" y2="500.78" stroke="#4f88d0" stroke-width="1.6" /><line x1="1031.84" y1="500.78" x2="1032.6" y2="487.1" stroke="#d45a78" stroke-width="1.6" />
<line x1="1030.9" y1="517.5" x2="1041.9" y2="518.65" stroke="#4f88d0" stroke-width="1.6" /><line x1="1041.9" y1="518.65" x2="1050.9" y2="519.6" stroke="#d45a78" stroke-width="1.6" />
<line x1="1030.9" y1="517.5" x2="1032.33" y2="534.06" stroke="#4f88d0" stroke-width="1.6" /><line x1="1032.33" y1="534.06" x2="1033.5" y2="547.6" stroke="#d45a78" stroke-width="1.6" />
<line x1="1030.9" y1="517.5" x2="1019.79" y2="517.83" stroke="#4f88d0" stroke-width="1.6" /><line x1="1019.79" y1="517.83" x2="1010.7" y2="518.1" stroke="#d45a78" stroke-width="1.6" />
<line x1="1053.6" y1="550.1" x2="1052.12" y2="533.33" stroke="#4f88d0" stroke-width="1.6" /><line x1="1052.12" y1="533.33" x2="1050.9" y2="519.6" stroke="#d45a78" stroke-width="1.6" />
<line x1="1053.6" y1="550.1" x2="1064.49" y2="550.26" stroke="#4f88d0" stroke-width="1.6" /><line x1="1064.49" y1="550.26" x2="1073.4" y2="550.4" stroke="#d45a78" stroke-width="1.6" />
<line x1="1053.6" y1="550.1" x2="1051.95" y2="566.88" stroke="#4f88d0" stroke-width="1.6" /><line x1="1051.95" y1="566.88" x2="1050.6" y2="580.6" stroke="#d45a78" stroke-width="1.6" />
<line x1="1053.6" y1="550.1" x2="1042.54" y2="548.73" stroke="#4f88d0" stroke-width="1.6" /><line x1="1042.54" y1="548.73" x2="1033.5" y2="547.6" stroke="#d45a78" stroke-width="1.6" />
<line x1="1103.6" y1="547" x2="1102.94" y2="535.73" stroke="#4f88d0" stroke-width="1.6" /><line x1="1102.94" y1="535.73" x2="1102.4" y2="526.5" stroke="#d45a78" stroke-width="1.6" />
<line x1="1103.6" y1="547" x2="1119.88" y2="542.05" stroke="#4f88d0" stroke-width="1.6" /><line x1="1119.88" y1="542.05" x2="1133.2" y2="538" stroke="#d45a78" stroke-width="1.6" />
<line x1="1103.6" y1="547" x2="1106.18" y2="557.34" stroke="#4f88d0" stroke-width="1.6" /><line x1="1106.18" y1="557.34" x2="1108.3" y2="565.8" stroke="#d45a78" stroke-width="1.6" />
<line x1="1103.6" y1="547" x2="1086.99" y2="548.87" stroke="#4f88d0" stroke-width="1.6" /><line x1="1086.99" y1="548.87" x2="1073.4" y2="550.4" stroke="#d45a78" stroke-width="1.6" />
<line x1="1131.5" y1="517.2" x2="1129.19" y2="506.92" stroke="#4f88d0" stroke-width="1.6" /><line x1="1129.19" y1="506.92" x2="1127.3" y2="498.5" stroke="#d45a78" stroke-width="1.6" />
<line x1="1131.5" y1="517.2" x2="1148.33" y2="515.44" stroke="#4f88d0" stroke-width="1.6" /><line x1="1148.33" y1="515.44" x2="1162.1" y2="514" stroke="#d45a78" stroke-width="1.6" />
<line x1="1131.5" y1="517.2" x2="1132.43" y2="528.64" stroke="#4f88d0" stroke-width="1.6" /><line x1="1132.43" y1="528.64" x2="1133.2" y2="538" stroke="#d45a78" stroke-width="1.6" />
<line x1="1131.5" y1="517.2" x2="1115.5" y2="522.32" stroke="#4f88d0" stroke-width="1.6" /><line x1="1115.5" y1="522.32" x2="1102.4" y2="526.5" stroke="#d45a78" stroke-width="1.6" />
<line x1="1181.8" y1="514" x2="1183.56" y2="497.56" stroke="#4f88d0" stroke-width="1.6" /><line x1="1183.56" y1="497.56" x2="1185" y2="484.1" stroke="#d45a78" stroke-width="1.6" />
<line x1="1181.8" y1="514" x2="1192.86" y2="515.54" stroke="#4f88d0" stroke-width="1.6" /><line x1="1192.86" y1="515.54" x2="1201.9" y2="516.8" stroke="#d45a78" stroke-width="1.6" />
<line x1="1181.8" y1="514" x2="1183.56" y2="531" stroke="#4f88d0" stroke-width="1.6" /><line x1="1183.56" y1="531" x2="1185" y2="544.9" stroke="#d45a78" stroke-width="1.6" />
<line x1="1181.8" y1="514" x2="1170.96" y2="514" stroke="#4f88d0" stroke-width="1.6" /><line x1="1170.96" y1="514" x2="1162.1" y2="514" stroke="#d45a78" stroke-width="1.6" />
<line x1="1056.7" y1="599.8" x2="1053.35" y2="589.24" stroke="#4f88d0" stroke-width="1.6" /><line x1="1053.35" y1="589.24" x2="1050.6" y2="580.6" stroke="#d45a78" stroke-width="1.6" />
<line x1="1056.7" y1="599.8" x2="1072.76" y2="598.04" stroke="#4f88d0" stroke-width="1.6" /><line x1="1072.76" y1="598.04" x2="1085.9" y2="596.6" stroke="#d45a78" stroke-width="1.6" />
<line x1="1056.7" y1="599.8" x2="1054.72" y2="609.97" stroke="#4f88d0" stroke-width="1.6" /><line x1="1054.72" y1="609.97" x2="1053.1" y2="618.3" stroke="#d45a78" stroke-width="1.6" />
<line x1="1106.5" y1="596.1" x2="1107.49" y2="579.43" stroke="#4f88d0" stroke-width="1.6" /><line x1="1107.49" y1="579.43" x2="1108.3" y2="565.8" stroke="#d45a78" stroke-width="1.6" />
<line x1="1106.5" y1="596.1" x2="1117.34" y2="597.53" stroke="#4f88d0" stroke-width="1.6" /><line x1="1117.34" y1="597.53" x2="1126.2" y2="598.7" stroke="#d45a78" stroke-width="1.6" />
<line x1="1106.5" y1="596.1" x2="1107.99" y2="612.99" stroke="#4f88d0" stroke-width="1.6" /><line x1="1107.99" y1="612.99" x2="1109.2" y2="626.8" stroke="#d45a78" stroke-width="1.6" />
<line x1="1106.5" y1="596.1" x2="1095.17" y2="596.38" stroke="#4f88d0" stroke-width="1.6" /><line x1="1095.17" y1="596.38" x2="1085.9" y2="596.6" stroke="#d45a78" stroke-width="1.6" />
<line x1="1103.3" y1="386" x2="1086.91" y2="387.65" stroke="#4f88d0" stroke-width="1.6" /><line x1="1086.91" y1="387.65" x2="1073.5" y2="389" stroke="#d45a78" stroke-width="1.6" />
<line x1="1103.3" y1="386" x2="1105.34" y2="375.82" stroke="#4f88d0" stroke-width="1.6" /><line x1="1105.34" y1="375.82" x2="1107" y2="367.5" stroke="#d45a78" stroke-width="1.6" />
<line x1="1103.3" y1="386" x2="1106.88" y2="396.56" stroke="#4f88d0" stroke-width="1.6" /><line x1="1106.88" y1="396.56" x2="1109.8" y2="405.2" stroke="#d45a78" stroke-width="1.6" />
<line x1="1033.7" y1="387.4" x2="1073.5" y2="389" stroke="#d2daee" stroke-width="1" opacity="0.85"/>
<line x1="1051.9" y1="420" x2="1057.8" y2="459.4" stroke="#d2daee" stroke-width="1" opacity="0.85"/>
<line x1="1085.9" y1="435.4" x2="1126.1" y2="437.9" stroke="#d2daee" stroke-width="1" opacity="0.85"/>
<line x1="1026.7" y1="447.5" x2="1032.6" y2="487.1" stroke="#d2daee" stroke-width="1" opacity="0.85"/>
<line x1="1108.8" y1="466.3" x2="1148.9" y2="467.9" stroke="#d2daee" stroke-width="1" opacity="0.85"/>
<line x1="957.6" y1="469.3" x2="997.4" y2="471.8" stroke="#d2daee" stroke-width="1" opacity="0.85"/>
<line x1="1010.7" y1="518.1" x2="1050.9" y2="519.6" stroke="#d2daee" stroke-width="1" opacity="0.85"/>
<line x1="1033.5" y1="547.6" x2="1073.4" y2="550.4" stroke="#d2daee" stroke-width="1" opacity="0.85"/>
<line x1="1102.4" y1="526.5" x2="1108.3" y2="565.8" stroke="#d2daee" stroke-width="1" opacity="0.85"/>
<line x1="1127.3" y1="498.5" x2="1133.2" y2="538" stroke="#d2daee" stroke-width="1" opacity="0.85"/>
<line x1="1162.1" y1="514" x2="1201.9" y2="516.8" stroke="#d2daee" stroke-width="1" opacity="0.85"/>
<line x1="1085.9" y1="596.6" x2="1126.2" y2="598.7" stroke="#d2daee" stroke-width="1" opacity="0.85"/>
<line x1="1026.7" y1="447.5" x2="1057.8" y2="459.4" stroke="#d2daee" stroke-width="1" opacity="0.85"/>
<line x1="1126.1" y1="437.9" x2="1108.8" y2="466.3" stroke="#d2daee" stroke-width="1" opacity="0.85"/>
<line x1="1050.9" y1="519.6" x2="1033.5" y2="547.6" stroke="#d2daee" stroke-width="1" opacity="0.85"/>
<line x1="1102.4" y1="526.5" x2="1133.2" y2="538" stroke="#d2daee" stroke-width="1" opacity="0.85"/>
<line x1="1182.7" y1="446.1" x2="1185" y2="484.1" stroke="#d2daee" stroke-width="1" opacity="0.85"/>
<line x1="974.6" y1="501.4" x2="977.1" y2="539.7" stroke="#d2daee" stroke-width="1" opacity="0.85"/>
<line x1="1050.6" y1="580.6" x2="1053.1" y2="618.3" stroke="#d2daee" stroke-width="1" opacity="0.85"/>
<line x1="1107" y1="367.5" x2="1109.8" y2="405.2" stroke="#d2daee" stroke-width="1" opacity="0.85"/>
<circle cx="1050.9" cy="359.2" r="4.4" fill="url(#cO)" />
<circle cx="1033.7" cy="387.4" r="4.4" fill="url(#cO)" />
<circle cx="1073.5" cy="389" r="4.4" fill="url(#cO)" />
<circle cx="1107" cy="367.5" r="4.4" fill="url(#cO)" />
<circle cx="1109.8" cy="405.2" r="4.4" fill="url(#cO)" />
<circle cx="1051.9" cy="420" r="4.4" fill="url(#cO)" />
<circle cx="1085.9" cy="435.4" r="4.4" fill="url(#cO)" />
<circle cx="1126.1" cy="437.9" r="4.4" fill="url(#cO)" />
<circle cx="1026.7" cy="447.5" r="4.4" fill="url(#cO)" />
<circle cx="1057.8" cy="459.4" r="4.4" fill="url(#cO)" />
<circle cx="1108.8" cy="466.3" r="4.4" fill="url(#cO)" />
<circle cx="1148.9" cy="467.9" r="4.4" fill="url(#cO)" />
<circle cx="1182.7" cy="446.1" r="4.4" fill="url(#cO)" />
<circle cx="1185" cy="484.1" r="4.4" fill="url(#cO)" />
<circle cx="975" cy="441.3" r="4.4" fill="url(#cO)" />
<circle cx="957.6" cy="469.3" r="4.4" fill="url(#cO)" />
<circle cx="997.4" cy="471.8" r="4.4" fill="url(#cO)" />
<circle cx="1032.6" cy="487.1" r="4.4" fill="url(#cO)" />
<circle cx="974.6" cy="501.4" r="4.4" fill="url(#cO)" />
<circle cx="1010.7" cy="518.1" r="4.4" fill="url(#cO)" />
<circle cx="1050.9" cy="519.6" r="4.4" fill="url(#cO)" />
<circle cx="977.1" cy="539.7" r="4.4" fill="url(#cO)" />
<circle cx="1033.5" cy="547.6" r="4.4" fill="url(#cO)" />
<circle cx="1073.4" cy="550.4" r="4.4" fill="url(#cO)" />
<circle cx="1102.4" cy="526.5" r="4.4" fill="url(#cO)" />
<circle cx="1127.3" cy="498.5" r="4.4" fill="url(#cO)" />
<circle cx="1133.2" cy="538" r="4.4" fill="url(#cO)" />
<circle cx="1162.1" cy="514" r="4.4" fill="url(#cO)" />
<circle cx="1201.9" cy="516.8" r="4.4" fill="url(#cO)" />
<circle cx="1185" cy="544.9" r="4.4" fill="url(#cO)" />
<circle cx="1108.3" cy="565.8" r="4.4" fill="url(#cO)" />
<circle cx="1050.6" cy="580.6" r="4.4" fill="url(#cO)" />
<circle cx="1085.9" cy="596.6" r="4.4" fill="url(#cO)" />
<circle cx="1126.2" cy="598.7" r="4.4" fill="url(#cO)" />
<circle cx="1053.1" cy="618.3" r="4.4" fill="url(#cO)" />
<circle cx="1109.2" cy="626.8" r="4.4" fill="url(#cO)" />
<ellipse cx="1069.6" cy="380.2" rx="63" ry="39.8" fill="none" stroke="#fe0000" stroke-width="3.9" stroke-dasharray="10.4 4"/>
</g>
<text transform="translate(703.3 327.5) scale(1 1.045)" font-size="27.6">Ru<tspan dy="7.5" font-size="19">(SA)</tspan><tspan dy="-7.5">-NiOMS</tspan></text>
<text transform="translate(1004.7 327.5) scale(1 1.045)" font-size="27.6">Ru<tspan dy="7.5" font-size="19">(SA)</tspan><tspan dy="-7.5">-OMS</tspan></text>
<text transform="translate(772.2 667.5) scale(1 1.045)" font-size="27.6" text-anchor="middle">NiOMS</text>
<text transform="translate(1079.8 667.5) scale(1 1.045)" font-size="27.6" text-anchor="middle">OMS</text>
<circle cx="565.3" cy="289.5" r="17.6" fill="url(#gNi)" />
<text transform="translate(618.6 306.8) scale(1 1.045)" font-size="32.2" text-anchor="middle">Ni</text>
<circle cx="565.3" cy="342.2" r="17.2" fill="url(#gRu)" />
<text transform="translate(618.4 352.7) scale(1 1.045)" font-size="32.2" text-anchor="middle">Ru</text>
<circle cx="564.6" cy="392" r="17.2" fill="url(#gMn)" />
<text transform="translate(618.6 405) scale(1 1.045)" font-size="32.2" text-anchor="middle">Mn</text>
<circle cx="564.9" cy="441.9" r="16.7" fill="url(#gO)" />
<text transform="translate(618.8 452.9) scale(1 1.045)" font-size="32.2" text-anchor="middle">O</text>
<text transform="translate(558.8 532.9) scale(1 1.045)" font-size="23.5" text-anchor="middle" font-weight="bold">c</text>
<line x1="557" y1="568" x2="557" y2="620" stroke="#0000e6" stroke-width="7" />
<line x1="557" y1="568" x2="557" y2="620" stroke="#7070ff" stroke-width="1.6" />
<polygon points="557,543.5 547,570.6 567,570.6" fill="#0000f0" />
<line x1="562" y1="625.9" x2="615" y2="625.9" stroke="#00d800" stroke-width="7" />
<line x1="562" y1="625.9" x2="615" y2="625.9" stroke="#a0ffa0" stroke-width="1.6" />
<polygon points="639.7,625.9 613.3,616 613.3,635.8" fill="#00e000" />
<circle cx="557" cy="626" r="9.6" fill="#a00000" />
<circle cx="557" cy="626" r="6.5" fill="#700000" />
<text transform="translate(558 633.2) scale(1 1.045)" font-size="23.5" text-anchor="middle" font-weight="bold" stroke="#fff" stroke-width="1.6" paint-order="stroke" stroke-opacity="0.75">a</text>
<text transform="translate(657.7 633.3) scale(1 1.045)" font-size="23.5" text-anchor="middle" font-weight="bold">b</text>
<clipPath id="clipd"><rect x="1314.2" y="12.6" width="313.7" height="283.7"/></clipPath>
<g clip-path="url(#clipd)">
<rect x="1314.2" y="12.6" width="313.7" height="283.7" fill="#9fd79f" />
<polygon points="1314.2,150.02 1627.9,230.14 1627.9,346.3 1314.2,346.3" fill="#9dbaf3" />
<polygon points="1314.2,254.2 1627.9,333.86 1627.9,346.3 1314.2,346.3" fill="#fbc89b" />
<line x1="1314.2" y1="150.02" x2="1627.9" y2="230.14" stroke="#000" stroke-width="2.4" />
<line x1="1314.2" y1="254.2" x2="1627.9" y2="333.86" stroke="#000" stroke-width="2.4" />
<line x1="1314.2" y1="142.76" x2="1627.9" y2="222.54" stroke="#000" stroke-width="2.4" stroke-dasharray="10.3 10.8" stroke-dashoffset="1.6"/>
<line x1="1314.2" y1="235.02" x2="1627.9" y2="324.22" stroke="#000" stroke-width="2.4" stroke-dasharray="10.3 10.8" stroke-dashoffset="1.6"/>
</g>
<rect x="1314.2" y="12.6" width="313.7" height="283.7" fill="none" stroke="#000" stroke-width="2.4"/>
<line x1="1308" y1="12.6" x2="1314.2" y2="12.6" stroke="#000" stroke-width="2.2" />
<text transform="translate(1304.7 19.2) scale(1 1.045)" font-size="21.1" text-anchor="end">2.0</text>
<line x1="1310.8" y1="40.97" x2="1314.2" y2="40.97" stroke="#000" stroke-width="2" />
<line x1="1308" y1="69.34" x2="1314.2" y2="69.34" stroke="#000" stroke-width="2.2" />
<text transform="translate(1304.7 75.94) scale(1 1.045)" font-size="21.1" text-anchor="end">1.5</text>
<line x1="1310.8" y1="97.71" x2="1314.2" y2="97.71" stroke="#000" stroke-width="2" />
<line x1="1308" y1="126.08" x2="1314.2" y2="126.08" stroke="#000" stroke-width="2.2" />
<text transform="translate(1304.7 132.68) scale(1 1.045)" font-size="21.1" text-anchor="end">1.0</text>
<line x1="1310.8" y1="154.45" x2="1314.2" y2="154.45" stroke="#000" stroke-width="2" />
<line x1="1308" y1="182.82" x2="1314.2" y2="182.82" stroke="#000" stroke-width="2.2" />
<text transform="translate(1304.7 189.42) scale(1 1.045)" font-size="21.1" text-anchor="end">0.5</text>
<line x1="1310.8" y1="211.19" x2="1314.2" y2="211.19" stroke="#000" stroke-width="2" />
<line x1="1308" y1="239.56" x2="1314.2" y2="239.56" stroke="#000" stroke-width="2.2" />
<text transform="translate(1304.7 246.16) scale(1 1.045)" font-size="21.1" text-anchor="end">0.0</text>
<line x1="1310.8" y1="267.93" x2="1314.2" y2="267.93" stroke="#000" stroke-width="2" />
<line x1="1308" y1="296.3" x2="1314.2" y2="296.3" stroke="#000" stroke-width="2.2" />
<text transform="translate(1304.7 302.9) scale(1 1.045)" font-size="21.1" text-anchor="end">-0.5</text>
<line x1="1314.2" y1="296.3" x2="1314.2" y2="302.9" stroke="#000" stroke-width="2.2" />
<text transform="translate(1314.2 322.9) scale(1 1.045)" font-size="20.3" text-anchor="middle">0</text>
<line x1="1340.34" y1="296.3" x2="1340.34" y2="299.9" stroke="#000" stroke-width="2" />
<line x1="1366.48" y1="296.3" x2="1366.48" y2="302.9" stroke="#000" stroke-width="2.2" />
<text transform="translate(1366.48 322.9) scale(1 1.045)" font-size="20.3" text-anchor="middle">2</text>
<line x1="1392.62" y1="296.3" x2="1392.62" y2="299.9" stroke="#000" stroke-width="2" />
<line x1="1418.77" y1="296.3" x2="1418.77" y2="302.9" stroke="#000" stroke-width="2.2" />
<text transform="translate(1418.77 322.9) scale(1 1.045)" font-size="20.3" text-anchor="middle">4</text>
<line x1="1444.91" y1="296.3" x2="1444.91" y2="299.9" stroke="#000" stroke-width="2" />
<line x1="1471.05" y1="296.3" x2="1471.05" y2="302.9" stroke="#000" stroke-width="2.2" />
<text transform="translate(1471.05 322.9) scale(1 1.045)" font-size="20.3" text-anchor="middle">6</text>
<line x1="1497.19" y1="296.3" x2="1497.19" y2="299.9" stroke="#000" stroke-width="2" />
<line x1="1523.33" y1="296.3" x2="1523.33" y2="302.9" stroke="#000" stroke-width="2.2" />
<text transform="translate(1523.33 322.9) scale(1 1.045)" font-size="20.3" text-anchor="middle">8</text>
<line x1="1549.48" y1="296.3" x2="1549.48" y2="299.9" stroke="#000" stroke-width="2" />
<line x1="1575.62" y1="296.3" x2="1575.62" y2="302.9" stroke="#000" stroke-width="2.2" />
<text transform="translate(1575.62 322.9) scale(1 1.045)" font-size="20.3" text-anchor="middle">10</text>
<line x1="1601.76" y1="296.3" x2="1601.76" y2="299.9" stroke="#000" stroke-width="2" />
<line x1="1627.9" y1="296.3" x2="1627.9" y2="302.9" stroke="#000" stroke-width="2.2" />
<text transform="translate(1627.9 322.9) scale(1 1.045)" font-size="20.3" text-anchor="middle">12</text>
<text transform="translate(1471 349) scale(1 1.045)" font-size="24.3" text-anchor="middle">pH</text>
<text transform="translate(1265.3 154.45) rotate(-90) scale(1 1.045)" font-size="23.9" text-anchor="middle">U (V <tspan font-style="italic">vs.</tspan> RHE)</text>
<text transform="translate(1391.1 120.7) scale(1 1.045)" font-size="20.7" font-weight="bold" fill="#fff">1 ML O<tspan dy="-9" font-size="13">*</tspan></text>
<text transform="translate(1352 218.5) scale(1 1.045)" font-size="20.7" font-weight="bold" fill="#fff">1 ML OH<tspan dy="-9" font-size="13">*</tspan></text>
<text transform="translate(1319.3 287.9) scale(1 1.045)" font-size="20.7" font-weight="bold" fill="#fff">1 ML H<tspan dy="5" font-size="13.5">2</tspan><tspan dy="-5">O</tspan><tspan dy="-9" font-size="13">*</tspan></text>
<text transform="translate(1247 42.2) scale(1 1.045)" font-size="37">d</text>
<text transform="translate(1622 39.5) scale(1 1.045)" font-size="24.05" text-anchor="end">Ru<tspan dy="7" font-size="16.5">(SA)</tspan><tspan dy="-7">-NiOMS</tspan></text>
<line x1="1497" y1="63.2" x2="1540.7" y2="63.2" stroke="#000" stroke-width="2.4" />
<text transform="translate(1622 69.6) scale(1 1.045)" font-size="24.05" text-anchor="end">Ru site</text>
<line x1="1498.8" y1="92.3" x2="1540.8" y2="92.3" stroke="#000" stroke-width="2.4" stroke-dasharray="6.4 2.3"/>
<text transform="translate(1622 99.6) scale(1 1.045)" font-size="24.05" text-anchor="end">Mn site</text>
<clipPath id="clipe"><rect x="1720.2" y="12" width="313.2" height="283.7"/></clipPath>
<g clip-path="url(#clipe)">
<rect x="1720.2" y="12" width="313.2" height="283.7" fill="#9fd79f" />
<polygon points="1720.2,136.26 2033.4,216.72 2033.4,345.7 1720.2,345.7" fill="#9dbaf3" />
<polygon points="1720.2,223.07 2033.4,303.83 2033.4,345.7 1720.2,345.7" fill="#fbc89b" />
<line x1="1720.2" y1="136.26" x2="2033.4" y2="216.72" stroke="#000" stroke-width="2.4" />
<line x1="1720.2" y1="223.07" x2="2033.4" y2="303.83" stroke="#000" stroke-width="2.4" />
</g>
<rect x="1720.2" y="12" width="313.2" height="283.7" fill="none" stroke="#000" stroke-width="2.4"/>
<line x1="1714" y1="12" x2="1720.2" y2="12" stroke="#000" stroke-width="2.2" />
<text transform="translate(1710.7 18.6) scale(1 1.045)" font-size="21.1" text-anchor="end">2.0</text>
<line x1="1716.8" y1="40.37" x2="1720.2" y2="40.37" stroke="#000" stroke-width="2" />
<line x1="1714" y1="68.74" x2="1720.2" y2="68.74" stroke="#000" stroke-width="2.2" />
<text transform="translate(1710.7 75.34) scale(1 1.045)" font-size="21.1" text-anchor="end">1.5</text>
<line x1="1716.8" y1="97.11" x2="1720.2" y2="97.11" stroke="#000" stroke-width="2" />
<line x1="1714" y1="125.48" x2="1720.2" y2="125.48" stroke="#000" stroke-width="2.2" />
<text transform="translate(1710.7 132.08) scale(1 1.045)" font-size="21.1" text-anchor="end">1.0</text>
<line x1="1716.8" y1="153.85" x2="1720.2" y2="153.85" stroke="#000" stroke-width="2" />
<line x1="1714" y1="182.22" x2="1720.2" y2="182.22" stroke="#000" stroke-width="2.2" />
<text transform="translate(1710.7 188.82) scale(1 1.045)" font-size="21.1" text-anchor="end">0.5</text>
<line x1="1716.8" y1="210.59" x2="1720.2" y2="210.59" stroke="#000" stroke-width="2" />
<line x1="1714" y1="238.96" x2="1720.2" y2="238.96" stroke="#000" stroke-width="2.2" />
<text transform="translate(1710.7 245.56) scale(1 1.045)" font-size="21.1" text-anchor="end">0.0</text>
<line x1="1716.8" y1="267.33" x2="1720.2" y2="267.33" stroke="#000" stroke-width="2" />
<line x1="1714" y1="295.7" x2="1720.2" y2="295.7" stroke="#000" stroke-width="2.2" />
<text transform="translate(1710.7 302.3) scale(1 1.045)" font-size="21.1" text-anchor="end">-0.5</text>
<line x1="1720.2" y1="295.7" x2="1720.2" y2="302.3" stroke="#000" stroke-width="2.2" />
<text transform="translate(1720.2 321.9) scale(1 1.045)" font-size="20.3" text-anchor="middle">0</text>
<line x1="1746.3" y1="295.7" x2="1746.3" y2="299.3" stroke="#000" stroke-width="2" />
<line x1="1772.4" y1="295.7" x2="1772.4" y2="302.3" stroke="#000" stroke-width="2.2" />
<text transform="translate(1772.4 321.9) scale(1 1.045)" font-size="20.3" text-anchor="middle">2</text>
<line x1="1798.5" y1="295.7" x2="1798.5" y2="299.3" stroke="#000" stroke-width="2" />
<line x1="1824.6" y1="295.7" x2="1824.6" y2="302.3" stroke="#000" stroke-width="2.2" />
<text transform="translate(1824.6 321.9) scale(1 1.045)" font-size="20.3" text-anchor="middle">4</text>
<line x1="1850.7" y1="295.7" x2="1850.7" y2="299.3" stroke="#000" stroke-width="2" />
<line x1="1876.8" y1="295.7" x2="1876.8" y2="302.3" stroke="#000" stroke-width="2.2" />
<text transform="translate(1876.8 321.9) scale(1 1.045)" font-size="20.3" text-anchor="middle">6</text>
<line x1="1902.9" y1="295.7" x2="1902.9" y2="299.3" stroke="#000" stroke-width="2" />
<line x1="1929" y1="295.7" x2="1929" y2="302.3" stroke="#000" stroke-width="2.2" />
<text transform="translate(1929 321.9) scale(1 1.045)" font-size="20.3" text-anchor="middle">8</text>
<line x1="1955.1" y1="295.7" x2="1955.1" y2="299.3" stroke="#000" stroke-width="2" />
<line x1="1981.2" y1="295.7" x2="1981.2" y2="302.3" stroke="#000" stroke-width="2.2" />
<text transform="translate(1981.2 321.9) scale(1 1.045)" font-size="20.3" text-anchor="middle">10</text>
<line x1="2007.3" y1="295.7" x2="2007.3" y2="299.3" stroke="#000" stroke-width="2" />
<line x1="2033.4" y1="295.7" x2="2033.4" y2="302.3" stroke="#000" stroke-width="2.2" />
<text transform="translate(2033.4 321.9) scale(1 1.045)" font-size="20.3" text-anchor="middle">12</text>
<text transform="translate(1876.6 348) scale(1 1.045)" font-size="24.3" text-anchor="middle">pH</text>
<text transform="translate(1670.3 153.85) rotate(-90) scale(1 1.045)" font-size="23.9" text-anchor="middle">U (V <tspan font-style="italic">vs.</tspan> RHE)</text>
<text transform="translate(1796.7 119.7) scale(1 1.045)" font-size="20.7" font-weight="bold" fill="#fff">1 ML O<tspan dy="-9" font-size="13">*</tspan></text>
<text transform="translate(1757 208.7) scale(1 1.045)" font-size="20.7" font-weight="bold" fill="#fff">1 ML OH<tspan dy="-9" font-size="13">*</tspan></text>
<text transform="translate(1723.9 279.6) scale(1 1.045)" font-size="20.7" font-weight="bold" fill="#fff">1 ML H<tspan dy="5" font-size="13.5">2</tspan><tspan dy="-5">O</tspan><tspan dy="-9" font-size="13">*</tspan></text>
<text transform="translate(1651 42.4) scale(1 1.045)" font-size="37">e</text>
<text transform="translate(2026 39.5) scale(1 1.045)" font-size="24.05" text-anchor="end">Ru<tspan dy="7" font-size="16.5">(SA)</tspan><tspan dy="-7">-OMS</tspan></text>
<clipPath id="clipf"><rect x="1314.2" y="361.6" width="313.7" height="283.7"/></clipPath>
<g clip-path="url(#clipf)">
<rect x="1314.2" y="361.6" width="313.7" height="283.7" fill="#9fd79f" />
<polygon points="1314.2,491.31 1627.9,571.2 1627.9,695.3 1314.2,695.3" fill="#9dbaf3" />
<polygon points="1314.2,571.2 1627.9,651.68 1627.9,695.3 1314.2,695.3" fill="#fbc89b" />
<line x1="1314.2" y1="491.31" x2="1627.9" y2="571.2" stroke="#000" stroke-width="2.4" />
<line x1="1314.2" y1="571.2" x2="1627.9" y2="651.68" stroke="#000" stroke-width="2.4" />
</g>
<rect x="1314.2" y="361.6" width="313.7" height="283.7" fill="none" stroke="#000" stroke-width="2.4"/>
<line x1="1308" y1="361.6" x2="1314.2" y2="361.6" stroke="#000" stroke-width="2.2" />
<text transform="translate(1304.7 368.2) scale(1 1.045)" font-size="21.1" text-anchor="end">2.0</text>
<line x1="1310.8" y1="389.97" x2="1314.2" y2="389.97" stroke="#000" stroke-width="2" />
<line x1="1308" y1="418.34" x2="1314.2" y2="418.34" stroke="#000" stroke-width="2.2" />
<text transform="translate(1304.7 424.94) scale(1 1.045)" font-size="21.1" text-anchor="end">1.5</text>
<line x1="1310.8" y1="446.71" x2="1314.2" y2="446.71" stroke="#000" stroke-width="2" />
<line x1="1308" y1="475.08" x2="1314.2" y2="475.08" stroke="#000" stroke-width="2.2" />
<text transform="translate(1304.7 481.68) scale(1 1.045)" font-size="21.1" text-anchor="end">1.0</text>
<line x1="1310.8" y1="503.45" x2="1314.2" y2="503.45" stroke="#000" stroke-width="2" />
<line x1="1308" y1="531.82" x2="1314.2" y2="531.82" stroke="#000" stroke-width="2.2" />
<text transform="translate(1304.7 538.42) scale(1 1.045)" font-size="21.1" text-anchor="end">0.5</text>
<line x1="1310.8" y1="560.19" x2="1314.2" y2="560.19" stroke="#000" stroke-width="2" />
<line x1="1308" y1="588.56" x2="1314.2" y2="588.56" stroke="#000" stroke-width="2.2" />
<text transform="translate(1304.7 595.16) scale(1 1.045)" font-size="21.1" text-anchor="end">0.0</text>
<line x1="1310.8" y1="616.93" x2="1314.2" y2="616.93" stroke="#000" stroke-width="2" />
<line x1="1308" y1="645.3" x2="1314.2" y2="645.3" stroke="#000" stroke-width="2.2" />
<text transform="translate(1304.7 651.9) scale(1 1.045)" font-size="21.1" text-anchor="end">-0.5</text>
<line x1="1314.2" y1="645.3" x2="1314.2" y2="651.9" stroke="#000" stroke-width="2.2" />
<text transform="translate(1314.2 672) scale(1 1.045)" font-size="20.3" text-anchor="middle">0</text>
<line x1="1340.34" y1="645.3" x2="1340.34" y2="648.9" stroke="#000" stroke-width="2" />
<line x1="1366.48" y1="645.3" x2="1366.48" y2="651.9" stroke="#000" stroke-width="2.2" />
<text transform="translate(1366.48 672) scale(1 1.045)" font-size="20.3" text-anchor="middle">2</text>
<line x1="1392.62" y1="645.3" x2="1392.62" y2="648.9" stroke="#000" stroke-width="2" />
<line x1="1418.77" y1="645.3" x2="1418.77" y2="651.9" stroke="#000" stroke-width="2.2" />
<text transform="translate(1418.77 672) scale(1 1.045)" font-size="20.3" text-anchor="middle">4</text>
<line x1="1444.91" y1="645.3" x2="1444.91" y2="648.9" stroke="#000" stroke-width="2" />
<line x1="1471.05" y1="645.3" x2="1471.05" y2="651.9" stroke="#000" stroke-width="2.2" />
<text transform="translate(1471.05 672) scale(1 1.045)" font-size="20.3" text-anchor="middle">6</text>
<line x1="1497.19" y1="645.3" x2="1497.19" y2="648.9" stroke="#000" stroke-width="2" />
<line x1="1523.33" y1="645.3" x2="1523.33" y2="651.9" stroke="#000" stroke-width="2.2" />
<text transform="translate(1523.33 672) scale(1 1.045)" font-size="20.3" text-anchor="middle">8</text>
<line x1="1549.48" y1="645.3" x2="1549.48" y2="648.9" stroke="#000" stroke-width="2" />
<line x1="1575.62" y1="645.3" x2="1575.62" y2="651.9" stroke="#000" stroke-width="2.2" />
<text transform="translate(1575.62 672) scale(1 1.045)" font-size="20.3" text-anchor="middle">10</text>
<line x1="1601.76" y1="645.3" x2="1601.76" y2="648.9" stroke="#000" stroke-width="2" />
<line x1="1627.9" y1="645.3" x2="1627.9" y2="651.9" stroke="#000" stroke-width="2.2" />
<text transform="translate(1627.9 672) scale(1 1.045)" font-size="20.3" text-anchor="middle">12</text>
<text transform="translate(1471 698.1) scale(1 1.045)" font-size="24.3" text-anchor="middle">pH</text>
<text transform="translate(1265.3 503.45) rotate(-90) scale(1 1.045)" font-size="23.9" text-anchor="middle">U (V <tspan font-style="italic">vs.</tspan> RHE)</text>
<text transform="translate(1391.1 469.7) scale(1 1.045)" font-size="20.7" font-weight="bold" fill="#fff">1 ML O<tspan dy="-9" font-size="13">*</tspan></text>
<text transform="translate(1352 567.6) scale(1 1.045)" font-size="20.7" font-weight="bold" fill="#fff">1 ML OH<tspan dy="-9" font-size="13">*</tspan></text>
<text transform="translate(1324.9 629.9) scale(1 1.045)" font-size="20.7" font-weight="bold" fill="#fff">1 ML H<tspan dy="5" font-size="13.5">2</tspan><tspan dy="-5">O</tspan><tspan dy="-9" font-size="13">*</tspan></text>
<text transform="translate(1253 392.3) scale(1 1.045)" font-size="37">f</text>
<text transform="translate(1621 392.1) scale(1 1.045)" font-size="24.05" text-anchor="end">NiOMS</text>
<clipPath id="clipg"><rect x="1720.2" y="361.4" width="313.2" height="283.5"/></clipPath>
<g clip-path="url(#clipg)">
<rect x="1720.2" y="361.4" width="313.2" height="283.5" fill="#9fd79f" />
<polygon points="1720.2,418.55 2033.4,516.98 2033.4,694.9 1720.2,694.9" fill="#9dbaf3" />
<polygon points="1720.2,540 2033.4,620.29 2033.4,694.9 1720.2,694.9" fill="#fbc89b" />
<line x1="1720.2" y1="418.55" x2="2033.4" y2="516.98" stroke="#000" stroke-width="2.4" />
<line x1="1720.2" y1="540" x2="2033.4" y2="620.29" stroke="#000" stroke-width="2.4" />
</g>
<rect x="1720.2" y="361.4" width="313.2" height="283.5" fill="none" stroke="#000" stroke-width="2.4"/>
<line x1="1714" y1="361.4" x2="1720.2" y2="361.4" stroke="#000" stroke-width="2.2" />
<text transform="translate(1710.7 368) scale(1 1.045)" font-size="21.1" text-anchor="end">2.0</text>
<line x1="1716.8" y1="389.75" x2="1720.2" y2="389.75" stroke="#000" stroke-width="2" />
<line x1="1714" y1="418.1" x2="1720.2" y2="418.1" stroke="#000" stroke-width="2.2" />
<text transform="translate(1710.7 424.7) scale(1 1.045)" font-size="21.1" text-anchor="end">1.5</text>
<line x1="1716.8" y1="446.45" x2="1720.2" y2="446.45" stroke="#000" stroke-width="2" />
<line x1="1714" y1="474.8" x2="1720.2" y2="474.8" stroke="#000" stroke-width="2.2" />
<text transform="translate(1710.7 481.4) scale(1 1.045)" font-size="21.1" text-anchor="end">1.0</text>
<line x1="1716.8" y1="503.15" x2="1720.2" y2="503.15" stroke="#000" stroke-width="2" />
<line x1="1714" y1="531.5" x2="1720.2" y2="531.5" stroke="#000" stroke-width="2.2" />
<text transform="translate(1710.7 538.1) scale(1 1.045)" font-size="21.1" text-anchor="end">0.5</text>
<line x1="1716.8" y1="559.85" x2="1720.2" y2="559.85" stroke="#000" stroke-width="2" />
<line x1="1714" y1="588.2" x2="1720.2" y2="588.2" stroke="#000" stroke-width="2.2" />
<text transform="translate(1710.7 594.8) scale(1 1.045)" font-size="21.1" text-anchor="end">0.0</text>
<line x1="1716.8" y1="616.55" x2="1720.2" y2="616.55" stroke="#000" stroke-width="2" />
<line x1="1714" y1="644.9" x2="1720.2" y2="644.9" stroke="#000" stroke-width="2.2" />
<text transform="translate(1710.7 651.5) scale(1 1.045)" font-size="21.1" text-anchor="end">-0.5</text>
<line x1="1720.2" y1="644.9" x2="1720.2" y2="651.5" stroke="#000" stroke-width="2.2" />
<text transform="translate(1720.2 671.6) scale(1 1.045)" font-size="20.3" text-anchor="middle">0</text>
<line x1="1746.3" y1="644.9" x2="1746.3" y2="648.5" stroke="#000" stroke-width="2" />
<line x1="1772.4" y1="644.9" x2="1772.4" y2="651.5" stroke="#000" stroke-width="2.2" />
<text transform="translate(1772.4 671.6) scale(1 1.045)" font-size="20.3" text-anchor="middle">2</text>
<line x1="1798.5" y1="644.9" x2="1798.5" y2="648.5" stroke="#000" stroke-width="2" />
<line x1="1824.6" y1="644.9" x2="1824.6" y2="651.5" stroke="#000" stroke-width="2.2" />
<text transform="translate(1824.6 671.6) scale(1 1.045)" font-size="20.3" text-anchor="middle">4</text>
<line x1="1850.7" y1="644.9" x2="1850.7" y2="648.5" stroke="#000" stroke-width="2" />
<line x1="1876.8" y1="644.9" x2="1876.8" y2="651.5" stroke="#000" stroke-width="2.2" />
<text transform="translate(1876.8 671.6) scale(1 1.045)" font-size="20.3" text-anchor="middle">6</text>
<line x1="1902.9" y1="644.9" x2="1902.9" y2="648.5" stroke="#000" stroke-width="2" />
<line x1="1929" y1="644.9" x2="1929" y2="651.5" stroke="#000" stroke-width="2.2" />
<text transform="translate(1929 671.6) scale(1 1.045)" font-size="20.3" text-anchor="middle">8</text>
<line x1="1955.1" y1="644.9" x2="1955.1" y2="648.5" stroke="#000" stroke-width="2" />
<line x1="1981.2" y1="644.9" x2="1981.2" y2="651.5" stroke="#000" stroke-width="2.2" />
<text transform="translate(1981.2 671.6) scale(1 1.045)" font-size="20.3" text-anchor="middle">10</text>
<line x1="2007.3" y1="644.9" x2="2007.3" y2="648.5" stroke="#000" stroke-width="2" />
<line x1="2033.4" y1="644.9" x2="2033.4" y2="651.5" stroke="#000" stroke-width="2.2" />
<text transform="translate(2033.4 671.6) scale(1 1.045)" font-size="20.3" text-anchor="middle">12</text>
<text transform="translate(1876.6 698.1) scale(1 1.045)" font-size="24.3" text-anchor="middle">pH</text>
<text transform="translate(1670.3 503.15) rotate(-90) scale(1 1.045)" font-size="23.9" text-anchor="middle">U (V <tspan font-style="italic">vs.</tspan> RHE)</text>
<text transform="translate(1804.1 432.6) scale(1 1.045)" font-size="20.7" font-weight="bold" fill="#fff">1 ML O<tspan dy="-9" font-size="13">*</tspan></text>
<text transform="translate(1756 523.8) scale(1 1.045)" font-size="20.7" font-weight="bold" fill="#fff">1 ML OH<tspan dy="-9" font-size="13">*</tspan></text>
<text transform="translate(1729.9 620.9) scale(1 1.045)" font-size="20.7" font-weight="bold" fill="#fff">1 ML H<tspan dy="5" font-size="13.5">2</tspan><tspan dy="-5">O</tspan><tspan dy="-9" font-size="13">*</tspan></text>
<text transform="translate(1650.7 385.3) scale(1 1.045)" font-size="37">g</text>
<text transform="translate(2026 389.5) scale(1 1.045)" font-size="24.05" text-anchor="end">OMS</text>
<text transform="translate(516 727.6) scale(1 1.045)" font-size="35.8">h</text>
<line x1="616.9" y1="759.1" x2="616.9" y2="1117.7" stroke="#000" stroke-width="2.9" />
<polygon points="616.9,741.1 611,763.8 622.8,763.8" fill="#000" />
<line x1="615.5" y1="1116.3" x2="1217" y2="1116.3" stroke="#000" stroke-width="2.9" />
<polygon points="1235,1116.3 1212.3,1110.4 1212.3,1122.2" fill="#000" />
<line x1="603.3" y1="776.4" x2="616.9" y2="776.4" stroke="#000" stroke-width="2.5" />
<line x1="603.3" y1="831.35" x2="616.9" y2="831.35" stroke="#000" stroke-width="2.5" />
<line x1="603.3" y1="886.3" x2="616.9" y2="886.3" stroke="#000" stroke-width="2.5" />
<line x1="603.3" y1="941.25" x2="616.9" y2="941.25" stroke="#000" stroke-width="2.5" />
<line x1="603.3" y1="996.2" x2="616.9" y2="996.2" stroke="#000" stroke-width="2.5" />
<line x1="603.3" y1="1051.15" x2="616.9" y2="1051.15" stroke="#000" stroke-width="2.5" />
<line x1="603.3" y1="1106.1" x2="616.9" y2="1106.1" stroke="#000" stroke-width="2.5" />
<line x1="609.9" y1="803.88" x2="616.9" y2="803.88" stroke="#000" stroke-width="2.3" />
<line x1="609.9" y1="858.83" x2="616.9" y2="858.83" stroke="#000" stroke-width="2.3" />
<line x1="609.9" y1="913.78" x2="616.9" y2="913.78" stroke="#000" stroke-width="2.3" />
<line x1="609.9" y1="968.73" x2="616.9" y2="968.73" stroke="#000" stroke-width="2.3" />
<line x1="609.9" y1="1023.68" x2="616.9" y2="1023.68" stroke="#000" stroke-width="2.3" />
<line x1="609.9" y1="1078.62" x2="616.9" y2="1078.62" stroke="#000" stroke-width="2.3" />
<text transform="translate(594.2 783.29) scale(1 1.045)" font-size="22.6" text-anchor="end">2.0</text>
<text transform="translate(594.2 838.24) scale(1 1.045)" font-size="22.6" text-anchor="end">1.5</text>
<text transform="translate(594.2 893.19) scale(1 1.045)" font-size="22.6" text-anchor="end">1.0</text>
<text transform="translate(594.2 948.14) scale(1 1.045)" font-size="22.6" text-anchor="end">0.5</text>
<text transform="translate(594.2 1003.09) scale(1 1.045)" font-size="22.6" text-anchor="end">0.0</text>
<text transform="translate(594.2 1058.04) scale(1 1.045)" font-size="22.6" text-anchor="end">-0.5</text>
<text transform="translate(594.2 1112.99) scale(1 1.045)" font-size="22.6" text-anchor="end">-1.0</text>
<text transform="translate(541 940.8) rotate(-90) scale(1 1.045)" font-size="25.2" text-anchor="middle">U (V vs RHE, pH=0)</text>
<rect x="644.3" y="814.9" width="60.2" height="34.9" fill="url(#boxO)" />
<rect x="644.3" y="930.1" width="60.2" height="35.7" fill="url(#boxB)" />
<line x1="702.9" y1="816.3" x2="702.9" y2="965.2" stroke="#7f7f7f" stroke-width="2.8" />
<polygon points="675.8,821.5 678.28,827.89 685.12,828.27 679.81,832.6 681.56,839.23 675.8,835.51 670.04,839.23 671.79,832.6 666.48,828.27 673.32,827.89" fill="#6fa6d4" />
<polygon points="675.8,939.3 678.28,945.69 685.12,946.07 679.81,950.4 681.56,957.03 675.8,953.31 670.04,957.03 671.79,950.4 666.48,946.07 673.32,945.69" fill="#e8604a" />
<text transform="translate(734.3 901.4) rotate(-90) scale(1 1.045)" font-size="24.5" text-anchor="middle">1.074 V</text>
<text transform="translate(672.6 992.8) scale(1 1.045)" font-size="22.3" text-anchor="middle">OMS</text>
<rect x="764.2" y="878.9" width="60.6" height="34.5" fill="url(#boxO)" />
<rect x="764.2" y="961.8" width="60.6" height="35.8" fill="url(#boxB)" />
<line x1="823.2" y1="880.3" x2="823.2" y2="995.6" stroke="#7f7f7f" stroke-width="2.8" />
<polygon points="794.3,887.7 796.78,894.09 803.62,894.47 798.31,898.8 800.06,905.43 794.3,901.71 788.54,905.43 790.29,898.8 784.98,894.47 791.82,894.09" fill="#6fa6d4" />
<polygon points="794.3,971.6 796.78,977.99 803.62,978.37 798.31,982.7 800.06,989.33 794.3,985.61 788.54,989.33 790.29,982.7 784.98,978.37 791.82,977.99" fill="#e8604a" />
<text transform="translate(855 950.6) rotate(-90) scale(1 1.045)" font-size="24.5" text-anchor="middle">0.763 V</text>
<rect x="885.7" y="883.4" width="59.6" height="34.9" fill="url(#boxO)" />
<rect x="885.7" y="962.2" width="59.6" height="35.4" fill="url(#boxB)" />
<line x1="943.4" y1="882.2" x2="943.4" y2="996.6" stroke="#7f7f7f" stroke-width="2.8" />
<polygon points="913.6,891.6 916.08,897.99 922.92,898.37 917.61,902.7 919.36,909.33 913.6,905.61 907.84,909.33 909.59,902.7 904.28,898.37 911.12,897.99" fill="#6fa6d4" />
<polygon points="913.6,969 916.08,975.39 922.92,975.77 917.61,980.1 919.36,986.73 913.6,983.01 907.84,986.73 909.59,980.1 904.28,975.77 911.12,975.39" fill="#e8604a" />
<text transform="translate(975.1 954.1) rotate(-90) scale(1 1.045)" font-size="24.5" text-anchor="middle">0.708 V</text>
<text transform="translate(913 1028.3) scale(1 1.045)" font-size="22.3" text-anchor="middle">NiOMS</text>
<rect x="1004.8" y="894.4" width="60.1" height="34.7" fill="url(#boxO)" />
<rect x="1004.8" y="992.2" width="60.1" height="35.5" fill="url(#boxB)" />
<line x1="1063.5" y1="894.4" x2="1063.5" y2="1025.7" stroke="#7f7f7f" stroke-width="2.8" />
<polygon points="1032.1,898.8 1034.58,905.19 1041.42,905.57 1036.11,909.9 1037.86,916.53 1032.1,912.81 1026.34,916.53 1028.09,909.9 1022.78,905.57 1029.62,905.19" fill="#6fa6d4" />
<polygon points="1032.1,998.7 1034.58,1005.09 1041.42,1005.47 1036.11,1009.8 1037.86,1016.43 1032.1,1012.71 1026.34,1016.43 1028.09,1009.8 1022.78,1005.47 1029.62,1005.09" fill="#e8604a" />
<text transform="translate(1094.8 972.4) rotate(-90) scale(1 1.045)" font-size="24.5" text-anchor="middle">0.910 V</text>
<text transform="translate(1039.4 1051.8) scale(1 1.045)" font-size="22.3" text-anchor="middle">Ru site</text>
<rect x="1122.7" y="884.4" width="59.7" height="34.3" fill="url(#boxO)" />
<rect x="1122.7" y="974.6" width="59.7" height="35.1" fill="url(#boxB)" />
<line x1="1178.8" y1="886" x2="1178.8" y2="1007.7" stroke="#7f7f7f" stroke-width="2.8" />
<polygon points="1150.9,891.6 1153.38,897.99 1160.22,898.37 1154.91,902.7 1156.66,909.33 1150.9,905.61 1145.14,909.33 1146.89,902.7 1141.58,898.37 1148.42,897.99" fill="#6fa6d4" />
<polygon points="1150.9,981.4 1153.38,987.79 1160.22,988.17 1154.91,992.5 1156.66,999.13 1150.9,995.41 1145.14,999.13 1146.89,992.5 1141.58,988.17 1148.42,987.79" fill="#e8604a" />
<text transform="translate(1209.7 959.5) rotate(-90) scale(1 1.045)" font-size="24.5" text-anchor="middle">0.818 V</text>
<text transform="translate(1154.5 1033.7) scale(1 1.045)" font-size="22.3" text-anchor="middle">Mn site</text>
<text transform="translate(732 1028.3) scale(1 1.045)" font-size="22.5">Ru<tspan dy="6.5" font-size="15.5">(SA)</tspan><tspan dy="-6.5">-OMS</tspan></text>
<text transform="translate(1043.5 1103.5) scale(1 1.045)" font-size="22.5">Ru<tspan dy="6.5" font-size="15.5">(SA)</tspan><tspan dy="-6.5">-NiOMS</tspan></text>
<rect x="909.2" y="746.4" width="51.5" height="31.7" fill="url(#boxB)" />
<rect x="909.2" y="780.1" width="51" height="30.7" fill="url(#boxO)" />
<polygon points="933.2,751.3 935.68,757.69 942.52,758.07 937.21,762.4 938.96,769.03 933.2,765.31 927.44,769.03 929.19,762.4 923.88,758.07 930.72,757.69" fill="#e8604a" />
<polygon points="933.2,788 935.68,794.39 942.52,794.77 937.21,799.1 938.96,805.73 933.2,802.01 927.44,805.73 929.19,799.1 923.88,794.77 930.72,794.39" fill="#6fa6d4" />
<text transform="translate(965.2 768.7) scale(1 1.045)" font-size="22.45">U<tspan dy="5" font-size="14.5">R</tspan><tspan dy="-5"> Redox potential</tspan></text>
<text transform="translate(965.8 804.6) scale(1 1.045)" font-size="22.45">U<tspan dy="5" font-size="14.5">L</tspan><tspan dy="-5"> Coupling potential</tspan></text>
<text transform="translate(1264.3 725.7) scale(1 1.045)" font-size="35.8">i</text>
<line x1="1408.7" y1="759" x2="1408.7" y2="1117.7" stroke="#000" stroke-width="2.9" />
<polygon points="1408.7,741 1402.8,763.7 1414.6,763.7" fill="#000" />
<line x1="1407.3" y1="1116.3" x2="2008.9" y2="1116.3" stroke="#000" stroke-width="2.9" />
<polygon points="2026.9,1116.3 2004.2,1110.4 2004.2,1122.2" fill="#000" />
<line x1="1395.1" y1="809.4" x2="1408.7" y2="809.4" stroke="#000" stroke-width="2.5" />
<line x1="1395.1" y1="864.5" x2="1408.7" y2="864.5" stroke="#000" stroke-width="2.5" />
<line x1="1395.1" y1="919.6" x2="1408.7" y2="919.6" stroke="#000" stroke-width="2.5" />
<line x1="1395.1" y1="974.7" x2="1408.7" y2="974.7" stroke="#000" stroke-width="2.5" />
<line x1="1395.1" y1="1029.8" x2="1408.7" y2="1029.8" stroke="#000" stroke-width="2.5" />
<line x1="1395.1" y1="1084.9" x2="1408.7" y2="1084.9" stroke="#000" stroke-width="2.5" />
<line x1="1401.7" y1="781.85" x2="1408.7" y2="781.85" stroke="#000" stroke-width="2.3" />
<line x1="1401.7" y1="836.95" x2="1408.7" y2="836.95" stroke="#000" stroke-width="2.3" />
<line x1="1401.7" y1="892.05" x2="1408.7" y2="892.05" stroke="#000" stroke-width="2.3" />
<line x1="1401.7" y1="947.15" x2="1408.7" y2="947.15" stroke="#000" stroke-width="2.3" />
<line x1="1401.7" y1="1002.25" x2="1408.7" y2="1002.25" stroke="#000" stroke-width="2.3" />
<line x1="1401.7" y1="1057.35" x2="1408.7" y2="1057.35" stroke="#000" stroke-width="2.3" />
<line x1="1401.7" y1="1112.45" x2="1408.7" y2="1112.45" stroke="#000" stroke-width="2.3" />
<text transform="translate(1385.6 816.14) scale(1 1.045)" font-size="22.1" text-anchor="end">1.5</text>
<text transform="translate(1385.6 871.24) scale(1 1.045)" font-size="22.1" text-anchor="end">1.0</text>
<text transform="translate(1385.6 926.34) scale(1 1.045)" font-size="22.1" text-anchor="end">0.5</text>
<text transform="translate(1385.6 981.44) scale(1 1.045)" font-size="22.1" text-anchor="end">0.0</text>
<text transform="translate(1385.6 1036.54) scale(1 1.045)" font-size="22.1" text-anchor="end">-0.5</text>
<text transform="translate(1385.6 1091.64) scale(1 1.045)" font-size="22.1" text-anchor="end">-1.0</text>
<text transform="translate(1333.5 940.6) rotate(-90) scale(1 1.045)" font-size="25.1" text-anchor="middle">Adsorption free energy (eV)</text>
<rect x="1439" y="988.8" width="61" height="35.5" fill="url(#boxB)" />
<rect x="1559.3" y="985.5" width="60.1" height="35.2" fill="url(#boxB)" />
<rect x="1677.3" y="975.7" width="60.6" height="35" fill="url(#boxB)" />
<rect x="1798" y="980" width="61" height="35.3" fill="url(#boxB)" />
<rect x="1914.4" y="990.4" width="60.4" height="35.5" fill="url(#boxB)" />
<rect x="1440" y="938.1" width="60" height="34.7" fill="url(#boxT)" />
<rect x="1559.3" y="967.8" width="60.1" height="27.6" fill="url(#boxT)" />
<rect x="1677.8" y="954.2" width="60.1" height="32.8" fill="url(#boxT)" />
<rect x="1798" y="1008.4" width="60.4" height="28.8" fill="url(#boxT)" />
<rect x="1915.1" y="976.8" width="59.7" height="29.2" fill="url(#boxT)" />
<rect x="1439.4" y="790.8" width="59.5" height="34.9" fill="url(#boxO)" />
<rect x="1559.3" y="865.3" width="59.5" height="34.5" fill="url(#boxO)" />
<rect x="1668.7" y="858.9" width="59.9" height="34.9" fill="url(#boxO)" />
<rect x="1798" y="904.8" width="60.1" height="34.3" fill="url(#boxO)" />
<rect x="1915.1" y="887" width="59.7" height="34.5" fill="url(#boxO)" />
<line x1="1483.49" y1="1002.17" x2="1570.11" y2="999.33" stroke="#8b78c6" stroke-width="2.6" />
<line x1="1602.03" y1="997.28" x2="1689.27" y2="988.92" stroke="#8b78c6" stroke-width="2.6" />
<line x1="1721.15" y1="988.69" x2="1808.05" y2="995.71" stroke="#8b78c6" stroke-width="2.6" />
<line x1="1839.98" y1="997.75" x2="1926.72" y2="1001.85" stroke="#8b78c6" stroke-width="2.6" />
<line x1="1483.08" y1="958.64" x2="1570.52" y2="979.06" stroke="#55aea5" stroke-width="2.6" />
<line x1="1602.01" y1="980.96" x2="1689.29" y2="971.44" stroke="#55aea5" stroke-width="2.6" />
<line x1="1720.39" y1="974.74" x2="1808.81" y2="1004.06" stroke="#55aea5" stroke-width="2.6" />
<line x1="1839.93" y1="1007.57" x2="1926.77" y2="999.23" stroke="#55aea5" stroke-width="2.6" />
<line x1="1481.04" y1="817.92" x2="1572.56" y2="875.48" stroke="#c9304f" stroke-width="2.6" />
<line x1="1602.08" y1="883.19" x2="1689.22" y2="878.81" stroke="#c9304f" stroke-width="2.6" />
<line x1="1720.18" y1="883.63" x2="1809.02" y2="917.07" stroke="#c9304f" stroke-width="2.6" />
<line x1="1839.82" y1="920.29" x2="1926.88" y2="907.01" stroke="#c9304f" stroke-width="2.6" />
<clipPath id="ch1467_1002"><rect x="1453.1" y="1001.9" width="28.8" height="15.4"/></clipPath><polygon points="1467.5,990.3 1478.24,996.5 1478.24,1008.9 1467.5,1015.1 1456.76,1008.9 1456.76,996.5" fill="#fff" stroke="#5b4a9e" stroke-width="1.8"/><polygon points="1467.5,990.3 1478.24,996.5 1478.24,1008.9 1467.5,1015.1 1456.76,1008.9 1456.76,996.5" fill="#5b4a9e" clip-path="url(#ch1467_1002)" stroke="#5b4a9e" stroke-width="1.8"/>
<clipPath id="ch1586_998"><rect x="1571.7" y="998" width="28.8" height="15.4"/></clipPath><polygon points="1586.1,986.4 1596.84,992.6 1596.84,1005 1586.1,1011.2 1575.36,1005 1575.36,992.6" fill="#fff" stroke="#5b4a9e" stroke-width="1.8"/><polygon points="1586.1,986.4 1596.84,992.6 1596.84,1005 1586.1,1011.2 1575.36,1005 1575.36,992.6" fill="#5b4a9e" clip-path="url(#ch1586_998)" stroke="#5b4a9e" stroke-width="1.8"/>
<clipPath id="ch1705_987"><rect x="1690.8" y="986.6" width="28.8" height="15.4"/></clipPath><polygon points="1705.2,975 1715.94,981.2 1715.94,993.6 1705.2,999.8 1694.46,993.6 1694.46,981.2" fill="#fff" stroke="#5b4a9e" stroke-width="1.8"/><polygon points="1705.2,975 1715.94,981.2 1715.94,993.6 1705.2,999.8 1694.46,993.6 1694.46,981.2" fill="#5b4a9e" clip-path="url(#ch1705_987)" stroke="#5b4a9e" stroke-width="1.8"/>
<clipPath id="ch1824_997"><rect x="1809.6" y="996.2" width="28.8" height="15.4"/></clipPath><polygon points="1824,984.6 1834.74,990.8 1834.74,1003.2 1824,1009.4 1813.26,1003.2 1813.26,990.8" fill="#fff" stroke="#5b4a9e" stroke-width="1.8"/><polygon points="1824,984.6 1834.74,990.8 1834.74,1003.2 1824,1009.4 1813.26,1003.2 1813.26,990.8" fill="#5b4a9e" clip-path="url(#ch1824_997)" stroke="#5b4a9e" stroke-width="1.8"/>
<clipPath id="ch1942_1002"><rect x="1928.3" y="1001.8" width="28.8" height="15.4"/></clipPath><polygon points="1942.7,990.2 1953.44,996.4 1953.44,1008.8 1942.7,1015 1931.96,1008.8 1931.96,996.4" fill="#fff" stroke="#5b4a9e" stroke-width="1.8"/><polygon points="1942.7,990.2 1953.44,996.4 1953.44,1008.8 1942.7,1015 1931.96,1008.8 1931.96,996.4" fill="#5b4a9e" clip-path="url(#ch1942_1002)" stroke="#5b4a9e" stroke-width="1.8"/>
<clipPath id="cp1467_955"><rect x="1466.9" y="941" width="15" height="28"/></clipPath><polygon points="1467.5,943 1478.91,951.29 1474.55,964.71 1460.45,964.71 1456.09,951.29" fill="#fff" stroke="#55aea5" stroke-width="1.8"/><polygon points="1467.5,943 1478.91,951.29 1474.55,964.71 1460.45,964.71 1456.09,951.29" fill="#55aea5" clip-path="url(#cp1467_955)" stroke="#55aea5" stroke-width="1.8"/>
<clipPath id="cp1586_982"><rect x="1585.5" y="968.7" width="15" height="28"/></clipPath><polygon points="1586.1,970.7 1597.51,978.99 1593.15,992.41 1579.05,992.41 1574.69,978.99" fill="#fff" stroke="#55aea5" stroke-width="1.8"/><polygon points="1586.1,970.7 1597.51,978.99 1593.15,992.41 1579.05,992.41 1574.69,978.99" fill="#55aea5" clip-path="url(#cp1586_982)" stroke="#55aea5" stroke-width="1.8"/>
<clipPath id="cp1705_969"><rect x="1704.6" y="955.7" width="15" height="28"/></clipPath><polygon points="1705.2,957.7 1716.61,965.99 1712.25,979.41 1698.15,979.41 1693.79,965.99" fill="#fff" stroke="#55aea5" stroke-width="1.8"/><polygon points="1705.2,957.7 1716.61,965.99 1712.25,979.41 1698.15,979.41 1693.79,965.99" fill="#55aea5" clip-path="url(#cp1705_969)" stroke="#55aea5" stroke-width="1.8"/>
<clipPath id="cp1824_1009"><rect x="1823.4" y="995.1" width="15" height="28"/></clipPath><polygon points="1824,997.1 1835.41,1005.39 1831.05,1018.81 1816.95,1018.81 1812.59,1005.39" fill="#fff" stroke="#55aea5" stroke-width="1.8"/><polygon points="1824,997.1 1835.41,1005.39 1831.05,1018.81 1816.95,1018.81 1812.59,1005.39" fill="#55aea5" clip-path="url(#cp1824_1009)" stroke="#55aea5" stroke-width="1.8"/>
<clipPath id="cp1942_997"><rect x="1942.1" y="983.7" width="15" height="28"/></clipPath><polygon points="1942.7,985.7 1954.11,993.99 1949.75,1007.41 1935.65,1007.41 1931.29,993.99" fill="#fff" stroke="#55aea5" stroke-width="1.8"/><polygon points="1942.7,985.7 1954.11,993.99 1949.75,1007.41 1935.65,1007.41 1931.29,993.99" fill="#55aea5" clip-path="url(#cp1942_997)" stroke="#55aea5" stroke-width="1.8"/>
<clipPath id="cs1467_809"><rect x="1453.3" y="795.4" width="28.4" height="15.4"/></clipPath><polygon points="1467.5,797.4 1470.37,805.65 1479.1,805.83 1472.14,811.11 1474.67,819.47 1467.5,814.48 1460.33,819.47 1462.86,811.11 1455.9,805.83 1464.63,805.65" fill="#fff" stroke="#e8604a" stroke-width="1.7" stroke-linejoin="miter"/><polygon points="1467.5,797.4 1470.37,805.65 1479.1,805.83 1472.14,811.11 1474.67,819.47 1467.5,814.48 1460.33,819.47 1462.86,811.11 1455.9,805.83 1464.63,805.65" fill="#e8604a" clip-path="url(#cs1467_809)"/>
<clipPath id="cs1586_884"><rect x="1571.9" y="870" width="28.4" height="15.4"/></clipPath><polygon points="1586.1,872 1588.97,880.25 1597.7,880.43 1590.74,885.71 1593.27,894.07 1586.1,889.08 1578.93,894.07 1581.46,885.71 1574.5,880.43 1583.23,880.25" fill="#fff" stroke="#e8604a" stroke-width="1.7" stroke-linejoin="miter"/><polygon points="1586.1,872 1588.97,880.25 1597.7,880.43 1590.74,885.71 1593.27,894.07 1586.1,889.08 1578.93,894.07 1581.46,885.71 1574.5,880.43 1583.23,880.25" fill="#e8604a" clip-path="url(#cs1586_884)"/>
<clipPath id="cs1705_878"><rect x="1691" y="864" width="28.4" height="15.4"/></clipPath><polygon points="1705.2,866 1708.07,874.25 1716.8,874.43 1709.84,879.71 1712.37,888.07 1705.2,883.08 1698.03,888.07 1700.56,879.71 1693.6,874.43 1702.33,874.25" fill="#fff" stroke="#e8604a" stroke-width="1.7" stroke-linejoin="miter"/><polygon points="1705.2,866 1708.07,874.25 1716.8,874.43 1709.84,879.71 1712.37,888.07 1705.2,883.08 1698.03,888.07 1700.56,879.71 1693.6,874.43 1702.33,874.25" fill="#e8604a" clip-path="url(#cs1705_878)"/>
<clipPath id="cs1824_922"><rect x="1809.8" y="908.7" width="28.4" height="15.4"/></clipPath><polygon points="1824,910.7 1826.87,918.95 1835.6,919.13 1828.64,924.41 1831.17,932.77 1824,927.78 1816.83,932.77 1819.36,924.41 1812.4,919.13 1821.13,918.95" fill="#fff" stroke="#e8604a" stroke-width="1.7" stroke-linejoin="miter"/><polygon points="1824,910.7 1826.87,918.95 1835.6,919.13 1828.64,924.41 1831.17,932.77 1824,927.78 1816.83,932.77 1819.36,924.41 1812.4,919.13 1821.13,918.95" fill="#e8604a" clip-path="url(#cs1824_922)"/>
<clipPath id="cs1942_904"><rect x="1928.5" y="890.6" width="28.4" height="15.4"/></clipPath><polygon points="1942.7,892.6 1945.57,900.85 1954.3,901.03 1947.34,906.31 1949.87,914.67 1942.7,909.68 1935.53,914.67 1938.06,906.31 1931.1,901.03 1939.83,900.85" fill="#fff" stroke="#e8604a" stroke-width="1.7" stroke-linejoin="miter"/><polygon points="1942.7,892.6 1945.57,900.85 1954.3,901.03 1947.34,906.31 1949.87,914.67 1942.7,909.68 1935.53,914.67 1938.06,906.31 1931.1,901.03 1939.83,900.85" fill="#e8604a" clip-path="url(#cs1942_904)"/>
<text transform="translate(1465.2 785.8) scale(1 1.045)" font-size="20.8" text-anchor="middle" fill="#c9304f">1.50295</text>
<text transform="translate(1584.2 861.3) scale(1 1.045)" font-size="20.8" text-anchor="middle" fill="#c9304f">0.81745</text>
<text transform="translate(1702.2 852.3) scale(1 1.045)" font-size="20.8" text-anchor="middle" fill="#c9304f">0.89694</text>
<text transform="translate(1821.2 898.4) scale(1 1.045)" font-size="20.8" text-anchor="middle" fill="#c9304f">0.47253</text>
<text transform="translate(1939.9 880.4) scale(1 1.045)" font-size="20.8" text-anchor="middle" fill="#c9304f">0.64154</text>
<text transform="translate(1465.2 930.1) scale(1 1.045)" font-size="20.8" text-anchor="middle" fill="#5bb2aa">0.16884</text>
<text transform="translate(1587.7 958.1) scale(1 1.045)" font-size="20.8" text-anchor="middle" fill="#5bb2aa">-0.08425</text>
<text transform="translate(1703.3 944.7) scale(1 1.045)" font-size="20.8" text-anchor="middle" fill="#5bb2aa">0.03473</text>
<text transform="translate(1820.6 1058.4) scale(1 1.045)" font-size="20.8" text-anchor="middle" fill="#5bb2aa">-0.31973</text>
<text transform="translate(1943.7 972.8) scale(1 1.045)" font-size="20.8" text-anchor="middle" fill="#5bb2aa">-0.22132</text>
<text transform="translate(1466.6 1048.4) scale(1 1.045)" font-size="20.8" text-anchor="middle" fill="#8e7fc9">-0.26044</text>
<text transform="translate(1585.8 1045) scale(1 1.045)" font-size="20.8" text-anchor="middle" fill="#8e7fc9">-0.22309</text>
<text transform="translate(1703.5 1032.7) scale(1 1.045)" font-size="20.8" text-anchor="middle" fill="#8e7fc9">-0.11911</text>
<text transform="translate(1821.6 973.2) scale(1 1.045)" font-size="20.8" text-anchor="middle" fill="#8e7fc9">-0.20163</text>
<text transform="translate(1941.5 1048.4) scale(1 1.045)" font-size="20.8" text-anchor="middle" fill="#8e7fc9">-0.26524</text>
<text transform="translate(1466.5 1078.4) scale(1 1.045)" font-size="22.5" text-anchor="middle">OMS</text>
<text transform="translate(1523.6 1072.8) scale(1 1.045)" font-size="22.5">Ru<tspan dy="6.5" font-size="15.5">(SA)</tspan><tspan dy="-6.5">-OMS</tspan></text>
<text transform="translate(1704.2 1061.4) scale(1 1.045)" font-size="22.5" text-anchor="middle">NiOMS</text>
<text transform="translate(1824.2 1080.4) scale(1 1.045)" font-size="22.5" text-anchor="middle">Ru site</text>
<text transform="translate(1944.5 1078.4) scale(1 1.045)" font-size="22.5" text-anchor="middle">Mn site</text>
<text transform="translate(1818.8 1105.5) scale(1 1.045)" font-size="22.5">Ru<tspan dy="6.5" font-size="15.5">(SA)</tspan><tspan dy="-6.5">-NiOMS</tspan></text>
<rect x="1749.7" y="748.1" width="55.1" height="26.6" fill="url(#boxB)" />
<rect x="1749.4" y="778.1" width="55.1" height="27.7" fill="url(#boxT)" />
<rect x="1749.1" y="809.6" width="55.1" height="27.1" fill="url(#boxO)" />
<line x1="1749.7" y1="759.7" x2="1760.2" y2="759.7" stroke="#8b78c6" stroke-width="2.6" />
<line x1="1789.3" y1="759.7" x2="1799.8" y2="759.7" stroke="#8b78c6" stroke-width="2.6" />
<line x1="1749.7" y1="791.8" x2="1760.2" y2="791.8" stroke="#55aea5" stroke-width="2.6" />
<line x1="1789.3" y1="791.8" x2="1799.8" y2="791.8" stroke="#55aea5" stroke-width="2.6" />
<line x1="1749.7" y1="823.9" x2="1760.2" y2="823.9" stroke="#c9304f" stroke-width="2.6" />
<line x1="1789.3" y1="823.9" x2="1799.8" y2="823.9" stroke="#c9304f" stroke-width="2.6" />
<clipPath id="ch1774_759"><rect x="1760.3" y="758.9" width="28" height="15"/></clipPath><polygon points="1774.3,747.7 1784.69,753.7 1784.69,765.7 1774.3,771.7 1763.91,765.7 1763.91,753.7" fill="#fff" stroke="#5b4a9e" stroke-width="1.8"/><polygon points="1774.3,747.7 1784.69,753.7 1784.69,765.7 1774.3,771.7 1763.91,765.7 1763.91,753.7" fill="#5b4a9e" clip-path="url(#ch1774_759)" stroke="#5b4a9e" stroke-width="1.8"/>
<clipPath id="cp1774_792"><rect x="1773.7" y="778.6" width="15.2" height="28.4"/></clipPath><polygon points="1774.3,780.6 1785.9,789.03 1781.47,802.67 1767.13,802.67 1762.7,789.03" fill="#fff" stroke="#55aea5" stroke-width="1.8"/><polygon points="1774.3,780.6 1785.9,789.03 1781.47,802.67 1767.13,802.67 1762.7,789.03" fill="#55aea5" clip-path="url(#cp1774_792)" stroke="#55aea5" stroke-width="1.8"/>
<clipPath id="cs1774_824"><rect x="1760.3" y="810.4" width="28" height="15.2"/></clipPath><polygon points="1774.3,812.4 1777.12,820.52 1785.71,820.69 1778.87,825.88 1781.35,834.11 1774.3,829.2 1767.25,834.11 1769.73,825.88 1762.89,820.69 1771.48,820.52" fill="#fff" stroke="#e8604a" stroke-width="1.7" stroke-linejoin="miter"/><polygon points="1774.3,812.4 1777.12,820.52 1785.71,820.69 1778.87,825.88 1781.35,834.11 1774.3,829.2 1767.25,834.11 1769.73,825.88 1762.89,820.69 1771.48,820.52" fill="#e8604a" clip-path="url(#cs1774_824)"/>
<text transform="translate(1812.4 767.1) scale(1 1.045)" font-size="22.2">*H<tspan dy="5" font-size="14.5">2</tspan><tspan dy="-5">O</tspan></text>
<text transform="translate(1867.5 767.1) scale(1 1.045)" font-size="22.4">Intermediate</text>
<text transform="translate(1812.4 800.2) scale(1 1.045)" font-size="22.2">*OH</text>
<text transform="translate(1866 800.2) scale(1 1.045)" font-size="22.4">Intermediate</text>
<text transform="translate(1812.4 831.7) scale(1 1.045)" font-size="22.2">*O</text>
<text transform="translate(1867 831.7) scale(1 1.045)" font-size="22.4">Intermediate</text>
</svg>
</body></html>
